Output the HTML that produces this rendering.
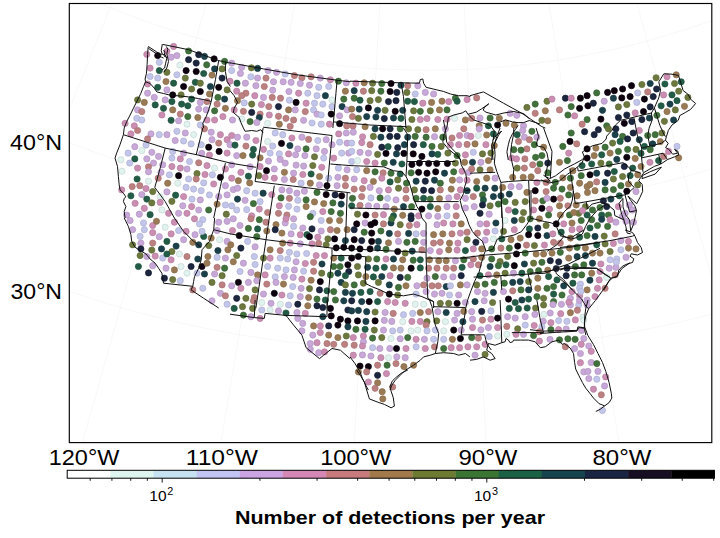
<!DOCTYPE html>
<html><head><meta charset="utf-8"><style>html,body{margin:0;padding:0;background:#fff;width:720px;height:538px;overflow:hidden}svg{display:block}</style></head>
<body><svg width="720" height="538" viewBox="0 0 720 538"><defs><clipPath id="fr"><rect x="69.3" y="3.5" width="642.5" height="439.1"/></clipPath></defs><path clip-path="url(#fr)" d="M-243.1 474.4 -236.9 462.8 -230.7 451.3 -224.6 439.8 -218.5 428.4 -212.4 417.1 -206.4 405.8 -200.4 394.6 -194.4 383.4 -188.5 372.3 -182.5 361.3 -176.7 350.3 -170.8 339.4 -165.0 328.5 -159.2 317.7 -153.4 306.9 -147.6 296.1 -141.9 285.4 -136.2 274.7 -130.5 264.1 -124.8 253.4 -119.1 242.9 -113.5 232.3 -107.8 221.8 -102.2 211.3 -96.6 200.8 -91.0 190.3 -85.4 179.8 -79.8 169.4 -74.2 159.0 -68.7 148.6 -63.1 138.2 -57.5 127.8 -52.0 117.4 -46.4 107.0 -40.8 96.6 -35.3 86.2 -29.7 75.7 -24.1 65.3 -18.5 54.9 -12.9 44.5 -7.3 34.0 -1.7 23.5 3.9 13.0 9.5 2.5 15.2 -8.0 20.8 -18.6 26.5 -29.2 32.2 -39.8 37.9 -50.5 43.6 -61.2 49.4 -72.0 55.2 -82.8 61.0 -93.7 66.8 -104.6 72.7 -115.5 78.6 -126.6 84.6 -137.7 90.5 -148.9 96.6 -160.1 M-104.3 540.2 -99.3 527.9 -94.5 515.8 -89.6 503.7 -84.8 491.7 -79.9 479.8 -75.2 467.9 -70.4 456.1 -65.7 444.4 -61.0 432.7 -56.3 421.1 -51.6 409.5 -47.0 398.0 -42.4 386.6 -37.8 375.2 -33.2 363.8 -28.7 352.5 -24.1 341.2 -19.6 329.9 -15.1 318.7 -10.6 307.6 -6.1 296.4 -1.6 285.3 2.9 274.2 7.3 263.1 11.8 252.1 16.2 241.1 20.7 230.1 25.1 219.1 29.5 208.1 33.9 197.1 38.3 186.2 42.8 175.2 47.2 164.3 51.6 153.3 56.0 142.4 60.4 131.5 64.8 120.5 69.2 109.5 73.6 98.6 78.1 87.6 82.5 76.6 87.0 65.5 91.4 54.5 95.9 43.4 100.3 32.3 104.8 21.2 109.3 10.0 113.8 -1.2 118.4 -12.4 122.9 -23.7 127.5 -35.0 132.0 -46.4 136.7 -57.8 141.3 -69.3 145.9 -80.9 150.6 -92.5 155.3 -104.2 160.1 -115.9 164.8 -127.8 M40.8 590.5 44.3 577.8 47.9 565.1 51.4 552.6 54.9 540.1 58.4 527.8 61.9 515.4 65.4 503.2 68.8 491.0 72.2 478.9 75.6 466.8 79.0 454.8 82.4 442.9 85.7 431.0 89.0 419.1 92.4 407.3 95.7 395.6 99.0 383.9 102.3 372.2 105.5 360.5 108.8 348.9 112.1 337.4 115.3 325.8 118.6 314.3 121.8 302.8 125.0 291.4 128.3 279.9 131.5 268.5 134.7 257.1 137.9 245.7 141.1 234.3 144.3 222.9 147.5 211.6 150.7 200.2 153.9 188.8 157.1 177.5 160.3 166.1 163.5 154.7 166.7 143.3 170.0 131.9 173.2 120.5 176.4 109.1 179.6 97.7 182.9 86.2 186.1 74.7 189.3 63.2 192.6 51.6 195.9 40.0 199.1 28.4 202.4 16.7 205.7 5.0 209.0 -6.7 212.4 -18.5 215.7 -30.4 219.1 -42.3 222.4 -54.3 225.8 -66.4 229.3 -78.5 232.7 -90.8 236.2 -103.0 M190.3 624.7 192.5 611.7 194.7 598.7 196.9 585.9 199.0 573.1 201.1 560.4 203.3 547.8 205.4 535.2 207.5 522.7 209.5 510.3 211.6 498.0 213.7 485.6 215.7 473.4 217.8 461.2 219.8 449.1 221.9 437.0 223.9 424.9 225.9 412.9 227.9 400.9 229.9 389.0 231.9 377.1 233.9 365.3 235.9 353.4 237.9 341.6 239.9 329.8 241.8 318.1 243.8 306.4 245.8 294.7 247.7 283.0 249.7 271.3 251.7 259.6 253.6 247.9 255.6 236.3 257.5 224.6 259.5 213.0 261.4 201.3 263.4 189.7 265.4 178.0 267.3 166.4 269.3 154.7 271.2 143.0 273.2 131.3 275.2 119.5 277.1 107.8 279.1 96.0 281.1 84.2 283.1 72.3 285.1 60.5 287.1 48.5 289.1 36.6 291.1 24.6 293.1 12.5 295.2 0.4 297.2 -11.8 299.3 -24.0 301.3 -36.3 303.4 -48.6 305.5 -61.1 307.6 -73.6 309.7 -86.2 M342.7 642.5 343.4 629.3 344.2 616.2 345.0 603.2 345.7 590.2 346.5 577.4 347.2 564.6 348.0 551.9 348.7 539.2 349.4 526.6 350.2 514.1 350.9 501.7 351.6 489.3 352.3 476.9 353.0 464.6 353.8 452.4 354.5 440.2 355.2 428.0 355.9 415.9 356.6 403.8 357.3 391.7 358.0 379.7 358.7 367.8 359.4 355.8 360.1 343.9 360.8 332.0 361.5 320.1 362.2 308.2 362.8 296.4 363.5 284.6 364.2 272.7 364.9 260.9 365.6 249.1 366.3 237.3 367.0 225.5 367.7 213.7 368.4 201.9 369.0 190.1 369.7 178.3 370.4 166.5 371.1 154.6 371.8 142.8 372.5 130.9 373.2 119.0 373.9 107.1 374.6 95.1 375.3 83.1 376.0 71.1 376.7 59.0 377.4 46.9 378.1 34.7 378.8 22.5 379.5 10.3 380.2 -2.1 381.0 -14.5 381.7 -26.9 382.4 -39.4 383.2 -52.0 383.9 -64.7 384.6 -77.5 M496.0 643.6 495.3 630.4 494.7 617.3 494.0 604.3 493.4 591.3 492.7 578.4 492.1 565.6 491.5 552.9 490.8 540.3 490.2 527.7 489.6 515.1 489.0 502.7 488.3 490.2 487.7 477.9 487.1 465.6 486.5 453.3 485.9 441.1 485.3 428.9 484.7 416.8 484.1 404.7 483.5 392.7 482.9 380.6 482.3 368.7 481.7 356.7 481.1 344.8 480.5 332.9 479.9 321.0 479.3 309.1 478.7 297.2 478.1 285.4 477.5 273.6 476.9 261.8 476.3 249.9 475.8 238.1 475.2 226.3 474.6 214.5 474.0 202.7 473.4 190.9 472.8 179.1 472.2 167.2 471.6 155.4 471.0 143.5 470.4 131.6 469.8 119.7 469.2 107.7 468.7 95.8 468.1 83.8 467.5 71.7 466.8 59.7 466.2 47.5 465.6 35.4 465.0 23.1 464.4 10.9 463.8 -1.5 463.2 -13.9 462.6 -26.3 461.9 -38.8 461.3 -51.5 460.7 -64.1 460.0 -76.9 M648.5 628.0 646.4 615.0 644.3 602.0 642.3 589.1 640.2 576.3 638.2 563.6 636.2 550.9 634.2 538.3 632.2 525.8 630.2 513.4 628.2 501.0 626.3 488.6 624.3 476.4 622.4 464.1 620.4 452.0 618.5 439.8 616.6 427.8 614.7 415.7 612.8 403.7 610.8 391.8 609.0 379.9 607.1 368.0 605.2 356.1 603.3 344.3 601.4 332.5 599.5 320.7 597.7 308.9 595.8 297.2 593.9 285.5 592.1 273.8 590.2 262.1 588.3 250.4 586.5 238.7 584.6 227.0 582.8 215.3 580.9 203.7 579.0 192.0 577.2 180.3 575.3 168.6 573.5 156.9 571.6 145.2 569.7 133.4 567.8 121.7 566.0 109.9 564.1 98.1 562.2 86.2 560.3 74.4 558.4 62.4 556.5 50.5 554.6 38.5 552.7 26.5 550.8 14.4 548.8 2.3 546.9 -9.9 544.9 -22.2 543.0 -34.5 541.0 -46.9 539.0 -59.4 537.0 -71.9 535.0 -84.6 M798.3 596.0 794.8 583.2 791.4 570.5 788.0 558.0 784.5 545.4 781.2 533.0 777.8 520.6 774.4 508.3 771.1 496.1 767.8 483.9 764.5 471.8 761.2 459.8 758.0 447.8 754.7 435.8 751.5 423.9 748.2 412.1 745.0 400.3 741.8 388.5 738.6 376.8 735.4 365.1 732.3 353.5 729.1 341.9 726.0 330.3 722.8 318.7 719.7 307.2 716.5 295.7 713.4 284.2 710.3 272.7 707.2 261.3 704.1 249.8 700.9 238.4 697.8 227.0 694.7 215.5 691.6 204.1 688.5 192.7 685.4 181.3 682.3 169.9 679.2 158.5 676.1 147.0 673.0 135.6 669.8 124.1 666.7 112.7 663.6 101.2 660.4 89.7 657.3 78.1 654.2 66.6 651.0 55.0 647.8 43.3 644.6 31.6 641.5 19.9 638.3 8.2 635.0 -3.6 631.8 -15.5 628.6 -27.4 625.3 -39.4 622.0 -51.4 618.7 -63.5 615.4 -75.7 612.1 -88.0 608.7 -100.3 M943.8 547.8 938.9 535.5 934.1 523.3 929.4 511.1 924.6 499.0 919.9 487.0 915.3 475.1 910.6 463.2 906.0 451.4 901.4 439.7 896.8 428.0 892.2 416.4 887.7 404.8 883.2 393.3 878.7 381.8 874.2 370.4 869.7 359.0 865.3 347.6 860.8 336.3 856.4 325.1 852.0 313.8 847.6 302.6 843.2 291.4 838.8 280.3 834.5 269.2 830.1 258.1 825.8 247.0 821.4 235.9 817.1 224.8 812.8 213.8 808.4 202.8 804.1 191.8 799.8 180.7 795.5 169.7 791.2 158.7 786.8 147.7 782.5 136.7 778.2 125.7 773.9 114.7 769.5 103.6 765.2 92.6 760.9 81.5 756.5 70.4 752.2 59.3 747.8 48.2 743.4 37.0 739.0 25.8 734.6 14.6 730.2 3.3 725.8 -8.0 721.3 -19.3 716.8 -30.7 712.4 -42.2 707.8 -53.7 703.3 -65.2 698.8 -76.8 694.2 -88.5 689.6 -100.3 684.9 -112.1 680.2 -124.0 M1083.1 484.1 1077.0 472.4 1070.9 460.7 1064.9 449.2 1058.9 437.7 1052.9 426.3 1047.0 414.9 1041.0 403.6 1035.2 392.4 1029.3 381.2 1023.5 370.1 1017.7 359.0 1012.0 348.0 1006.2 337.0 1000.5 326.1 994.8 315.2 989.2 304.4 983.5 293.6 977.9 282.8 972.3 272.1 966.7 261.4 961.1 250.7 955.5 240.1 950.0 229.5 944.5 218.9 938.9 208.3 933.4 197.7 927.9 187.2 922.4 176.7 916.9 166.2 911.4 155.7 905.9 145.2 900.5 134.7 895.0 124.2 889.5 113.8 884.0 103.3 878.5 92.8 873.1 82.3 867.6 71.8 862.1 61.3 856.6 50.8 851.1 40.2 845.5 29.7 840.0 19.1 834.5 8.5 828.9 -2.1 823.3 -12.8 817.8 -23.4 812.2 -34.2 806.5 -44.9 800.9 -55.7 795.2 -66.6 789.5 -77.5 783.8 -88.4 778.0 -99.4 772.3 -110.5 766.4 -121.6 760.6 -132.8 754.7 -144.0 748.8 -155.4 M-374.1 394.0 -356.3 406.0 -338.5 417.8 -320.4 429.3 -302.2 440.5 -283.8 451.5 -265.2 462.2 -246.5 472.6 -227.6 482.7 -208.6 492.5 -189.5 502.0 -170.2 511.3 -150.7 520.2 -131.2 528.9 -111.5 537.2 -91.7 545.3 -71.7 553.0 -51.7 560.5 -31.5 567.6 -11.2 574.4 9.1 581.0 29.6 587.2 50.1 593.1 70.8 598.7 91.5 604.0 112.3 609.0 133.1 613.6 154.0 617.9 175.0 622.0 196.1 625.7 217.2 629.0 238.3 632.1 259.5 634.8 280.8 637.3 302.0 639.4 323.3 641.1 344.6 642.6 365.9 643.7 387.3 644.5 408.6 645.0 430.0 645.1 451.4 645.0 472.7 644.5 494.0 643.7 515.4 642.5 536.7 641.1 557.9 639.3 579.2 637.2 600.4 634.7 621.6 632.0 642.7 628.9 663.8 625.5 684.8 621.8 705.8 617.8 726.7 613.4 747.5 608.8 768.3 603.8 788.9 598.5 809.5 592.9 830.0 586.9 850.4 580.7 870.8 574.2 891.0 567.3 911.1 560.2 931.1 552.7 951.0 544.9 970.7 536.9 990.4 528.5 1009.9 519.8 1029.3 510.9 1048.5 501.6 1067.6 492.1 1086.6 482.3 1105.4 472.1 1124.0 461.7 1142.5 451.1 1160.8 440.1 1179.0 428.8 1196.9 417.3 1214.7 405.5 M-289.0 269.7 -273.2 280.5 -257.2 291.0 -241.1 301.3 -224.8 311.3 -208.3 321.1 -191.8 330.6 -175.0 339.9 -158.2 348.9 -141.2 357.7 -124.1 366.2 -106.8 374.5 -89.4 382.5 -72.0 390.2 -54.4 397.7 -36.7 404.9 -18.8 411.8 -0.9 418.5 17.1 424.8 35.2 430.9 53.4 436.8 71.7 442.3 90.0 447.6 108.5 452.6 127.0 457.3 145.6 461.8 164.2 465.9 182.9 469.8 201.7 473.4 220.5 476.7 239.3 479.7 258.2 482.5 277.2 484.9 296.1 487.1 315.1 489.0 334.1 490.5 353.2 491.8 372.3 492.8 391.3 493.6 410.4 494.0 429.5 494.1 448.6 494.0 467.7 493.5 486.7 492.8 505.8 491.8 524.8 490.5 543.8 488.9 562.8 487.0 581.8 484.8 600.7 482.4 619.6 479.6 638.4 476.6 657.2 473.3 675.9 469.7 694.6 465.8 713.2 461.6 731.8 457.2 750.2 452.4 768.6 447.4 787.0 442.1 805.2 436.5 823.4 430.7 841.4 424.6 859.4 418.2 877.3 411.5 895.0 404.6 912.7 397.4 930.2 389.9 947.7 382.2 965.0 374.1 982.2 365.9 999.3 357.4 1016.2 348.6 1033.0 339.5 1049.6 330.2 1066.2 320.7 1082.5 310.9 1098.8 300.8 1114.8 290.6 1130.7 280.0 M-208.3 151.7 -194.2 161.3 -180.1 170.6 -165.7 179.7 -151.3 188.6 -136.7 197.3 -122.0 205.8 -107.2 214.0 -92.2 222.0 -77.2 229.8 -62.0 237.3 -46.7 244.7 -31.3 251.7 -15.8 258.6 -0.1 265.2 15.6 271.6 31.4 277.7 47.3 283.7 63.2 289.3 79.3 294.7 95.4 299.9 111.6 304.8 127.9 309.5 144.3 314.0 160.7 318.1 177.2 322.1 193.7 325.8 210.3 329.2 226.9 332.4 243.6 335.3 260.3 338.0 277.1 340.4 293.9 342.6 310.7 344.5 327.6 346.2 344.4 347.6 361.3 348.7 378.2 349.6 395.2 350.3 412.1 350.7 429.0 350.8 445.9 350.6 462.9 350.2 479.8 349.6 496.7 348.7 513.6 347.5 530.4 346.1 547.3 344.5 564.1 342.5 580.9 340.3 597.6 337.9 614.3 335.2 631.0 332.3 647.6 329.1 664.1 325.6 680.7 321.9 697.1 318.0 713.5 313.8 729.8 309.3 746.1 304.6 762.3 299.7 778.4 294.5 794.4 289.1 810.3 283.4 826.2 277.5 841.9 271.3 857.6 264.9 873.2 258.3 888.6 251.5 904.0 244.4 919.2 237.0 934.4 229.5 949.4 221.7 964.3 213.6 979.1 205.4 993.7 196.9 1008.2 188.2 1022.6 179.3 1036.9 170.2 1051.0 160.9 M-129.5 36.6 -117.2 44.9 -104.8 53.1 -92.2 61.1 -79.6 68.9 -66.8 76.5 -54.0 83.9 -41.0 91.1 -27.9 98.1 -14.7 104.9 -1.4 111.5 12.0 118.0 25.5 124.2 39.1 130.2 52.8 136.0 66.5 141.6 80.3 146.9 94.3 152.1 108.3 157.1 122.3 161.8 136.4 166.3 150.6 170.7 164.9 174.8 179.2 178.6 193.6 182.3 208.0 185.8 222.5 189.0 237.0 192.0 251.6 194.8 266.2 197.4 280.9 199.7 295.5 201.8 310.2 203.7 325.0 205.4 339.7 206.9 354.5 208.1 369.3 209.1 384.1 209.9 398.9 210.4 413.7 210.8 428.5 210.9 443.4 210.8 458.2 210.4 473.0 209.9 487.8 209.1 502.6 208.0 517.3 206.8 532.1 205.3 546.8 203.7 561.5 201.7 576.2 199.6 590.8 197.3 605.4 194.7 619.9 191.9 634.4 188.9 648.9 185.6 663.3 182.2 677.7 178.5 691.9 174.6 706.2 170.5 720.3 166.2 734.4 161.6 748.5 156.9 762.4 151.9 776.3 146.7 790.1 141.3 803.8 135.7 817.5 129.9 831.0 123.9 844.5 117.7 857.8 111.3 871.1 104.7 884.2 97.8 897.3 90.8 910.2 83.6 923.0 76.2 935.7 68.6 948.3 60.8 960.8 52.8 973.2 44.6 M-50.3 -79.2 -39.7 -72.0 -29.1 -65.0 -18.4 -58.2 -7.5 -51.5 3.4 -45.0 14.5 -38.6 25.6 -32.4 36.8 -26.4 48.1 -20.6 59.5 -14.9 71.0 -9.4 82.6 -4.1 94.2 1.1 105.9 6.0 117.7 10.8 129.6 15.4 141.5 19.9 153.5 24.1 165.6 28.2 177.7 32.1 189.8 35.8 202.1 39.3 214.3 42.6 226.7 45.8 239.0 48.7 251.5 51.5 263.9 54.1 276.4 56.5 288.9 58.7 301.5 60.7 314.0 62.5 326.7 64.1 339.3 65.6 351.9 66.8 364.6 67.9 377.3 68.7 390.0 69.4 402.7 69.9 415.4 70.2 428.1 70.3 440.8 70.2 453.5 69.9 466.2 69.4 478.9 68.7 491.5 67.8 504.2 66.8 516.8 65.5 529.5 64.1 542.1 62.4 554.6 60.6 567.2 58.6 579.7 56.4 592.1 54.0 604.6 51.4 617.0 48.6 629.3 45.6 641.6 42.5 653.9 39.1 666.1 35.6 678.2 31.9 690.3 28.0 702.3 23.9 714.3 19.7 726.2 15.2 738.0 10.6 749.8 5.8 761.5 0.9 773.1 -4.3 784.6 -9.6 796.0 -15.1 807.4 -20.8 818.7 -26.7 829.9 -32.7 841.0 -38.9 852.0 -45.2 862.9 -51.7 873.7 -58.4 884.4 -65.3 894.9 -72.3 M32.2 -199.7 40.9 -193.7 49.7 -187.9 58.6 -182.3 67.5 -176.8 76.6 -171.4 85.7 -166.1 94.9 -161.0 104.2 -156.1 113.5 -151.2 122.9 -146.5 132.4 -142.0 142.0 -137.6 151.6 -133.3 161.3 -129.2 171.0 -125.3 180.9 -121.5 190.7 -117.8 200.6 -114.3 210.6 -110.9 220.6 -107.7 230.7 -104.7 240.8 -101.7 250.9 -99.0 261.1 -96.4 271.3 -94.0 281.6 -91.7 291.9 -89.5 302.2 -87.6 312.6 -85.7 322.9 -84.1 333.3 -82.6 343.8 -81.2 354.2 -80.0 364.6 -79.0 375.1 -78.1 385.6 -77.4 396.1 -76.9 406.6 -76.5 417.1 -76.2 427.6 -76.2 438.1 -76.2 448.6 -76.5 459.1 -76.9 469.6 -77.4 480.0 -78.2 490.5 -79.0 501.0 -80.1 511.4 -81.3 521.8 -82.6 532.2 -84.1 542.6 -85.8 552.9 -87.6 563.2 -89.6 573.5 -91.8 583.7 -94.1 593.9 -96.5 604.1 -99.1 614.2 -101.9 624.3 -104.8 634.4 -107.8 644.3 -111.1 654.3 -114.4 664.2 -117.9 674.0 -121.6 683.8 -125.4 693.5 -129.4 703.2 -133.5 712.8 -137.8 722.3 -142.2 731.8 -146.7 741.1 -151.4 750.5 -156.3 759.7 -161.2 768.9 -166.4 778.0 -171.6 787.0 -177.0 795.9 -182.5 804.8 -188.2 813.5 -194.0" fill="none" stroke="#000" stroke-opacity="0.03" stroke-width="1"/><defs><filter id="bl" x="-2%" y="-2%" width="104%" height="104%"><feGaussianBlur stdDeviation="0.35"/></filter></defs><g filter="url(#bl)"><g stroke-width="0.7"><circle cx="361.8" cy="142.6" r="3.1" fill="#cb8eb2" stroke="#b37d9d"/><circle cx="362.6" cy="136.8" r="3.1" fill="#cb8eb2" stroke="#b37d9d"/><circle cx="365.1" cy="126.7" r="3.1" fill="#9a7a55" stroke="#886b4b"/><circle cx="353.0" cy="125.9" r="3.1" fill="#bd8080" stroke="#a67171"/><circle cx="346.7" cy="125.9" r="3.1" fill="#bd8080" stroke="#a67171"/><circle cx="173.6" cy="46.4" r="3.1" fill="#cb8eb2" stroke="#b37d9d"/><circle cx="146.8" cy="54.4" r="3.1" fill="#cb8eb2" stroke="#b37d9d"/><circle cx="157.7" cy="55.6" r="3.1" fill="#0a060e" stroke="#09050c"/><circle cx="166.9" cy="51.4" r="3.1" fill="#cb8eb2" stroke="#b37d9d"/><circle cx="171.1" cy="57.2" r="3.1" fill="#c8a8d9" stroke="#b094bf"/><circle cx="176.9" cy="55.6" r="3.1" fill="#c8a8d9" stroke="#b094bf"/><circle cx="188.6" cy="51.0" r="3.1" fill="#41703b" stroke="#396334"/><circle cx="198.7" cy="54.7" r="3.1" fill="#1c253d" stroke="#192136"/><circle cx="204.5" cy="56.4" r="3.1" fill="#1c414a" stroke="#193941"/><circle cx="214.1" cy="58.9" r="3.1" fill="#0a060e" stroke="#09050c"/><circle cx="224.6" cy="61.4" r="3.1" fill="#41703b" stroke="#396334"/><circle cx="159.3" cy="62.3" r="3.1" fill="#c3c6eb" stroke="#acaecf"/><circle cx="188.6" cy="59.7" r="3.1" fill="#1c253d" stroke="#192136"/><circle cx="196.2" cy="63.1" r="3.1" fill="#1c253d" stroke="#192136"/><circle cx="206.7" cy="64.8" r="3.1" fill="#41703b" stroke="#396334"/><circle cx="214.6" cy="68.9" r="3.1" fill="#1c414a" stroke="#193941"/><circle cx="222.1" cy="68.9" r="3.1" fill="#6c783d" stroke="#5f6a36"/><circle cx="179.9" cy="65.1" r="3.1" fill="#e1f3ef" stroke="#c6d6d2"/><circle cx="150.1" cy="68.1" r="3.1" fill="#cb8eb2" stroke="#b37d9d"/><circle cx="159.3" cy="70.6" r="3.1" fill="#245c46" stroke="#20513e"/><circle cx="166.9" cy="72.3" r="3.1" fill="#6c783d" stroke="#5f6a36"/><circle cx="176.9" cy="74.8" r="3.1" fill="#c3c6eb" stroke="#acaecf"/><circle cx="186.1" cy="70.6" r="3.1" fill="#0a060e" stroke="#09050c"/><circle cx="196.2" cy="71.5" r="3.1" fill="#0a060e" stroke="#09050c"/><circle cx="203.7" cy="73.5" r="3.1" fill="#245c46" stroke="#20513e"/><circle cx="212.0" cy="75.1" r="3.1" fill="#9a7a55" stroke="#886b4b"/><circle cx="222.1" cy="78.1" r="3.1" fill="#1c253d" stroke="#192136"/><circle cx="150.1" cy="76.5" r="3.1" fill="#c3c6eb" stroke="#acaecf"/><circle cx="157.7" cy="78.1" r="3.1" fill="#c3c6eb" stroke="#acaecf"/><circle cx="166.0" cy="81.5" r="3.1" fill="#9a7a55" stroke="#886b4b"/><circle cx="173.6" cy="83.2" r="3.1" fill="#245c46" stroke="#20513e"/><circle cx="185.3" cy="78.1" r="3.1" fill="#6c783d" stroke="#5f6a36"/><circle cx="195.3" cy="82.3" r="3.1" fill="#245c46" stroke="#20513e"/><circle cx="200.3" cy="83.2" r="3.1" fill="#6c783d" stroke="#5f6a36"/><circle cx="210.4" cy="86.5" r="3.1" fill="#1c414a" stroke="#193941"/><circle cx="218.7" cy="87.3" r="3.1" fill="#0a060e" stroke="#09050c"/><circle cx="227.1" cy="89.9" r="3.1" fill="#6c783d" stroke="#5f6a36"/><circle cx="147.6" cy="84.0" r="3.1" fill="#cb8eb2" stroke="#b37d9d"/><circle cx="157.7" cy="87.3" r="3.1" fill="#245c46" stroke="#20513e"/><circle cx="166.9" cy="89.9" r="3.1" fill="#c8a8d9" stroke="#b094bf"/><circle cx="183.6" cy="86.5" r="3.1" fill="#0a060e" stroke="#09050c"/><circle cx="191.6" cy="89.0" r="3.1" fill="#6c783d" stroke="#5f6a36"/><circle cx="200.3" cy="91.5" r="3.1" fill="#0a060e" stroke="#09050c"/><circle cx="209.5" cy="94.0" r="3.1" fill="#9a7a55" stroke="#886b4b"/><circle cx="147.6" cy="93.2" r="3.1" fill="#c8a8d9" stroke="#b094bf"/><circle cx="154.3" cy="97.4" r="3.1" fill="#c8a8d9" stroke="#b094bf"/><circle cx="165.2" cy="99.9" r="3.1" fill="#c8a8d9" stroke="#b094bf"/><circle cx="172.7" cy="94.9" r="3.1" fill="#0a060e" stroke="#09050c"/><circle cx="181.1" cy="94.9" r="3.1" fill="#6c783d" stroke="#5f6a36"/><circle cx="191.6" cy="99.1" r="3.1" fill="#245c46" stroke="#20513e"/><circle cx="200.3" cy="102.4" r="3.1" fill="#c8a8d9" stroke="#b094bf"/><circle cx="207.0" cy="101.6" r="3.1" fill="#bd8080" stroke="#a67171"/><circle cx="217.9" cy="97.4" r="3.1" fill="#41703b" stroke="#396334"/><circle cx="224.6" cy="99.1" r="3.1" fill="#1c414a" stroke="#193941"/><circle cx="137.6" cy="99.9" r="3.1" fill="#6c783d" stroke="#5f6a36"/><circle cx="144.3" cy="102.4" r="3.1" fill="#9a7a55" stroke="#886b4b"/><circle cx="155.2" cy="104.9" r="3.1" fill="#245c46" stroke="#20513e"/><circle cx="171.9" cy="101.6" r="3.1" fill="#245c46" stroke="#20513e"/><circle cx="181.6" cy="104.1" r="3.1" fill="#245c46" stroke="#20513e"/><circle cx="187.8" cy="105.8" r="3.1" fill="#245c46" stroke="#20513e"/><circle cx="198.7" cy="109.1" r="3.1" fill="#c8a8d9" stroke="#b094bf"/><circle cx="206.2" cy="109.9" r="3.1" fill="#c8a8d9" stroke="#b094bf"/><circle cx="214.6" cy="110.8" r="3.1" fill="#41703b" stroke="#396334"/><circle cx="225.4" cy="108.3" r="3.1" fill="#9a7a55" stroke="#886b4b"/><circle cx="217.1" cy="104.1" r="3.1" fill="#bd8080" stroke="#a67171"/><circle cx="137.6" cy="109.9" r="3.1" fill="#c8a8d9" stroke="#b094bf"/><circle cx="141.8" cy="111.6" r="3.1" fill="#bd8080" stroke="#a67171"/><circle cx="163.5" cy="108.3" r="3.1" fill="#245c46" stroke="#20513e"/><circle cx="172.7" cy="109.9" r="3.1" fill="#9a7a55" stroke="#886b4b"/><circle cx="180.3" cy="114.1" r="3.1" fill="#bd8080" stroke="#a67171"/><circle cx="187.8" cy="116.6" r="3.1" fill="#41703b" stroke="#396334"/><circle cx="197.8" cy="117.5" r="3.1" fill="#9a7a55" stroke="#886b4b"/><circle cx="161.9" cy="115.0" r="3.1" fill="#cb8eb2" stroke="#b37d9d"/><circle cx="136.8" cy="118.3" r="3.1" fill="#c3c6eb" stroke="#acaecf"/><circle cx="141.8" cy="120.0" r="3.1" fill="#c3c6eb" stroke="#acaecf"/><circle cx="207.0" cy="120.0" r="3.1" fill="#cb8eb2" stroke="#b37d9d"/><circle cx="214.6" cy="120.0" r="3.1" fill="#cb8eb2" stroke="#b37d9d"/><circle cx="222.9" cy="116.6" r="3.1" fill="#cb8eb2" stroke="#b37d9d"/><circle cx="125.1" cy="123.3" r="3.1" fill="#cb8eb2" stroke="#b37d9d"/><circle cx="134.3" cy="125.8" r="3.1" fill="#cb8eb2" stroke="#b37d9d"/><circle cx="171.1" cy="120.3" r="3.1" fill="#245c46" stroke="#20513e"/><circle cx="178.6" cy="120.8" r="3.1" fill="#c8a8d9" stroke="#b094bf"/><circle cx="187.0" cy="124.2" r="3.1" fill="#e1f3ef" stroke="#c6d6d2"/><circle cx="200.3" cy="125.0" r="3.1" fill="#c3c6eb" stroke="#acaecf"/><circle cx="231.7" cy="63.1" r="3.1" fill="#c8a8d9" stroke="#b094bf"/><circle cx="241.7" cy="67.3" r="3.1" fill="#c8a8d9" stroke="#b094bf"/><circle cx="251.4" cy="67.8" r="3.1" fill="#6c783d" stroke="#5f6a36"/><circle cx="257.6" cy="68.4" r="3.1" fill="#1c414a" stroke="#193941"/><circle cx="268.1" cy="70.6" r="3.1" fill="#c8a8d9" stroke="#b094bf"/><circle cx="276.5" cy="72.3" r="3.1" fill="#c8a8d9" stroke="#b094bf"/><circle cx="285.2" cy="74.0" r="3.1" fill="#c3c6eb" stroke="#acaecf"/><circle cx="294.4" cy="75.6" r="3.1" fill="#bd8080" stroke="#a67171"/><circle cx="301.9" cy="77.8" r="3.1" fill="#bd8080" stroke="#a67171"/><circle cx="311.1" cy="76.8" r="3.1" fill="#bd8080" stroke="#a67171"/><circle cx="320.3" cy="78.1" r="3.1" fill="#c8a8d9" stroke="#b094bf"/><circle cx="330.4" cy="79.8" r="3.1" fill="#cb8eb2" stroke="#b37d9d"/><circle cx="338.4" cy="81.2" r="3.1" fill="#41703b" stroke="#396334"/><circle cx="346.3" cy="82.8" r="3.1" fill="#c8a8d9" stroke="#b094bf"/><circle cx="231.7" cy="70.6" r="3.1" fill="#c3c6eb" stroke="#acaecf"/><circle cx="240.4" cy="73.5" r="3.1" fill="#c8a8d9" stroke="#b094bf"/><circle cx="250.9" cy="76.8" r="3.1" fill="#c3c6eb" stroke="#acaecf"/><circle cx="257.6" cy="78.1" r="3.1" fill="#c8a8d9" stroke="#b094bf"/><circle cx="266.0" cy="78.1" r="3.1" fill="#bd8080" stroke="#a67171"/><circle cx="230.0" cy="81.2" r="3.1" fill="#cb8eb2" stroke="#b37d9d"/><circle cx="237.0" cy="83.2" r="3.1" fill="#245c46" stroke="#20513e"/><circle cx="245.4" cy="83.2" r="3.1" fill="#c8a8d9" stroke="#b094bf"/><circle cx="255.9" cy="85.7" r="3.1" fill="#c8a8d9" stroke="#b094bf"/><circle cx="264.3" cy="86.5" r="3.1" fill="#bd8080" stroke="#a67171"/><circle cx="273.5" cy="81.8" r="3.1" fill="#c8a8d9" stroke="#b094bf"/><circle cx="283.2" cy="81.8" r="3.1" fill="#c8a8d9" stroke="#b094bf"/><circle cx="291.1" cy="82.3" r="3.1" fill="#c8a8d9" stroke="#b094bf"/><circle cx="300.3" cy="83.5" r="3.1" fill="#c8a8d9" stroke="#b094bf"/><circle cx="309.5" cy="85.2" r="3.1" fill="#c8a8d9" stroke="#b094bf"/><circle cx="318.7" cy="87.3" r="3.1" fill="#c3c6eb" stroke="#acaecf"/><circle cx="328.7" cy="86.5" r="3.1" fill="#c3c6eb" stroke="#acaecf"/><circle cx="345.4" cy="91.2" r="3.1" fill="#9a7a55" stroke="#886b4b"/><circle cx="236.7" cy="91.2" r="3.1" fill="#cb8eb2" stroke="#b37d9d"/><circle cx="245.9" cy="93.2" r="3.1" fill="#bd8080" stroke="#a67171"/><circle cx="241.7" cy="95.7" r="3.1" fill="#bd8080" stroke="#a67171"/><circle cx="254.8" cy="95.7" r="3.1" fill="#cb8eb2" stroke="#b37d9d"/><circle cx="263.5" cy="97.4" r="3.1" fill="#c8a8d9" stroke="#b094bf"/><circle cx="272.7" cy="90.2" r="3.1" fill="#c8a8d9" stroke="#b094bf"/><circle cx="272.2" cy="97.4" r="3.1" fill="#bd8080" stroke="#a67171"/><circle cx="280.5" cy="98.2" r="3.1" fill="#bd8080" stroke="#a67171"/><circle cx="288.9" cy="91.5" r="3.1" fill="#c8a8d9" stroke="#b094bf"/><circle cx="298.6" cy="93.2" r="3.1" fill="#cb8eb2" stroke="#b37d9d"/><circle cx="307.8" cy="93.2" r="3.1" fill="#c3c6eb" stroke="#acaecf"/><circle cx="317.0" cy="95.7" r="3.1" fill="#c3c6eb" stroke="#acaecf"/><circle cx="325.4" cy="95.7" r="3.1" fill="#1c414a" stroke="#193941"/><circle cx="343.8" cy="99.1" r="3.1" fill="#41703b" stroke="#396334"/><circle cx="332.0" cy="99.9" r="3.1" fill="#e1f3ef" stroke="#c6d6d2"/><circle cx="237.5" cy="100.7" r="3.1" fill="#9a7a55" stroke="#886b4b"/><circle cx="244.2" cy="102.9" r="3.1" fill="#c3c6eb" stroke="#acaecf"/><circle cx="251.7" cy="104.1" r="3.1" fill="#6c783d" stroke="#5f6a36"/><circle cx="261.4" cy="104.6" r="3.1" fill="#cb8eb2" stroke="#b37d9d"/><circle cx="268.8" cy="106.6" r="3.1" fill="#bd8080" stroke="#a67171"/><circle cx="278.5" cy="106.6" r="3.1" fill="#1c253d" stroke="#192136"/><circle cx="288.6" cy="109.9" r="3.1" fill="#9a7a55" stroke="#886b4b"/><circle cx="289.4" cy="100.2" r="3.1" fill="#c3c6eb" stroke="#acaecf"/><circle cx="296.1" cy="102.4" r="3.1" fill="#0a060e" stroke="#09050c"/><circle cx="295.2" cy="109.9" r="3.1" fill="#c8a8d9" stroke="#b094bf"/><circle cx="306.1" cy="103.2" r="3.1" fill="#cb8eb2" stroke="#b37d9d"/><circle cx="305.3" cy="111.6" r="3.1" fill="#bd8080" stroke="#a67171"/><circle cx="314.5" cy="103.2" r="3.1" fill="#c3c6eb" stroke="#acaecf"/><circle cx="313.6" cy="109.9" r="3.1" fill="#c3c6eb" stroke="#acaecf"/><circle cx="322.8" cy="104.1" r="3.1" fill="#c3c6eb" stroke="#acaecf"/><circle cx="332.0" cy="106.6" r="3.1" fill="#c3c6eb" stroke="#acaecf"/><circle cx="342.1" cy="106.6" r="3.1" fill="#1c414a" stroke="#193941"/><circle cx="234.2" cy="109.9" r="3.1" fill="#cb8eb2" stroke="#b37d9d"/><circle cx="243.4" cy="111.3" r="3.1" fill="#bd8080" stroke="#a67171"/><circle cx="251.7" cy="112.4" r="3.1" fill="#1c253d" stroke="#192136"/><circle cx="260.1" cy="114.1" r="3.1" fill="#bd8080" stroke="#a67171"/><circle cx="259.3" cy="117.5" r="3.1" fill="#1c414a" stroke="#193941"/><circle cx="269.3" cy="115.0" r="3.1" fill="#cb8eb2" stroke="#b37d9d"/><circle cx="278.5" cy="116.3" r="3.1" fill="#bd8080" stroke="#a67171"/><circle cx="286.0" cy="118.3" r="3.1" fill="#bd8080" stroke="#a67171"/><circle cx="293.6" cy="120.0" r="3.1" fill="#bd8080" stroke="#a67171"/><circle cx="303.6" cy="120.3" r="3.1" fill="#c8a8d9" stroke="#b094bf"/><circle cx="317.0" cy="114.1" r="3.1" fill="#c8a8d9" stroke="#b094bf"/><circle cx="312.0" cy="123.0" r="3.1" fill="#c3c6eb" stroke="#acaecf"/><circle cx="321.2" cy="115.0" r="3.1" fill="#c3c6eb" stroke="#acaecf"/><circle cx="331.2" cy="114.1" r="3.1" fill="#0a060e" stroke="#09050c"/><circle cx="339.6" cy="115.8" r="3.1" fill="#c8a8d9" stroke="#b094bf"/><circle cx="347.1" cy="109.9" r="3.1" fill="#c8a8d9" stroke="#b094bf"/><circle cx="232.5" cy="120.0" r="3.1" fill="#c8a8d9" stroke="#b094bf"/><circle cx="241.7" cy="119.1" r="3.1" fill="#e1f3ef" stroke="#c6d6d2"/><circle cx="250.1" cy="121.6" r="3.1" fill="#41703b" stroke="#396334"/><circle cx="256.8" cy="122.5" r="3.1" fill="#c8a8d9" stroke="#b094bf"/><circle cx="267.6" cy="123.3" r="3.1" fill="#e1f3ef" stroke="#c6d6d2"/><circle cx="279.3" cy="124.2" r="3.1" fill="#9a7a55" stroke="#886b4b"/><circle cx="290.2" cy="126.3" r="3.1" fill="#bd8080" stroke="#a67171"/><circle cx="321.2" cy="124.2" r="3.1" fill="#c3c6eb" stroke="#acaecf"/><circle cx="329.5" cy="124.2" r="3.1" fill="#cb8eb2" stroke="#b37d9d"/><circle cx="339.6" cy="123.7" r="3.1" fill="#0a060e" stroke="#09050c"/><circle cx="355.9" cy="83.2" r="3.1" fill="#cb8eb2" stroke="#b37d9d"/><circle cx="364.2" cy="82.8" r="3.1" fill="#9a7a55" stroke="#886b4b"/><circle cx="372.6" cy="83.2" r="3.1" fill="#6c783d" stroke="#5f6a36"/><circle cx="381.8" cy="83.5" r="3.1" fill="#41703b" stroke="#396334"/><circle cx="391.0" cy="83.5" r="3.1" fill="#0a060e" stroke="#09050c"/><circle cx="401.0" cy="85.2" r="3.1" fill="#1c414a" stroke="#193941"/><circle cx="407.7" cy="85.7" r="3.1" fill="#bd8080" stroke="#a67171"/><circle cx="417.8" cy="85.7" r="3.1" fill="#c8a8d9" stroke="#b094bf"/><circle cx="354.2" cy="90.7" r="3.1" fill="#1c414a" stroke="#193941"/><circle cx="363.4" cy="91.2" r="3.1" fill="#bd8080" stroke="#a67171"/><circle cx="371.7" cy="90.7" r="3.1" fill="#6c783d" stroke="#5f6a36"/><circle cx="380.9" cy="91.2" r="3.1" fill="#41703b" stroke="#396334"/><circle cx="390.1" cy="91.5" r="3.1" fill="#0a060e" stroke="#09050c"/><circle cx="396.8" cy="92.4" r="3.1" fill="#1c253d" stroke="#192136"/><circle cx="406.9" cy="92.4" r="3.1" fill="#6c783d" stroke="#5f6a36"/><circle cx="415.2" cy="94.0" r="3.1" fill="#c3c6eb" stroke="#acaecf"/><circle cx="425.3" cy="92.4" r="3.1" fill="#c8a8d9" stroke="#b094bf"/><circle cx="433.6" cy="94.0" r="3.1" fill="#c8a8d9" stroke="#b094bf"/><circle cx="455.4" cy="98.2" r="3.1" fill="#41703b" stroke="#396334"/><circle cx="467.1" cy="99.6" r="3.1" fill="#cb8eb2" stroke="#b37d9d"/><circle cx="354.2" cy="98.2" r="3.1" fill="#41703b" stroke="#396334"/><circle cx="360.0" cy="100.2" r="3.1" fill="#245c46" stroke="#20513e"/><circle cx="370.1" cy="100.7" r="3.1" fill="#6c783d" stroke="#5f6a36"/><circle cx="378.4" cy="99.6" r="3.1" fill="#6c783d" stroke="#5f6a36"/><circle cx="388.5" cy="101.6" r="3.1" fill="#1c253d" stroke="#192136"/><circle cx="396.0" cy="100.7" r="3.1" fill="#1c253d" stroke="#192136"/><circle cx="407.7" cy="101.2" r="3.1" fill="#245c46" stroke="#20513e"/><circle cx="414.4" cy="101.6" r="3.1" fill="#245c46" stroke="#20513e"/><circle cx="422.8" cy="103.2" r="3.1" fill="#cb8eb2" stroke="#b37d9d"/><circle cx="431.6" cy="102.4" r="3.1" fill="#9a7a55" stroke="#886b4b"/><circle cx="442.0" cy="101.2" r="3.1" fill="#9a7a55" stroke="#886b4b"/><circle cx="448.7" cy="101.6" r="3.1" fill="#cb8eb2" stroke="#b37d9d"/><circle cx="457.1" cy="101.2" r="3.1" fill="#245c46" stroke="#20513e"/><circle cx="351.7" cy="109.1" r="3.1" fill="#9a7a55" stroke="#886b4b"/><circle cx="359.2" cy="109.1" r="3.1" fill="#1c414a" stroke="#193941"/><circle cx="368.4" cy="107.9" r="3.1" fill="#0a060e" stroke="#09050c"/><circle cx="377.6" cy="110.3" r="3.1" fill="#1c414a" stroke="#193941"/><circle cx="385.1" cy="110.3" r="3.1" fill="#6c783d" stroke="#5f6a36"/><circle cx="395.2" cy="111.3" r="3.1" fill="#0a060e" stroke="#09050c"/><circle cx="402.7" cy="110.3" r="3.1" fill="#1c414a" stroke="#193941"/><circle cx="413.6" cy="110.8" r="3.1" fill="#6c783d" stroke="#5f6a36"/><circle cx="420.3" cy="111.3" r="3.1" fill="#41703b" stroke="#396334"/><circle cx="430.3" cy="110.8" r="3.1" fill="#6c783d" stroke="#5f6a36"/><circle cx="439.5" cy="109.9" r="3.1" fill="#9a7a55" stroke="#886b4b"/><circle cx="447.0" cy="109.9" r="3.1" fill="#41703b" stroke="#396334"/><circle cx="352.5" cy="116.6" r="3.1" fill="#bd8080" stroke="#a67171"/><circle cx="358.4" cy="118.3" r="3.1" fill="#6c783d" stroke="#5f6a36"/><circle cx="366.7" cy="116.6" r="3.1" fill="#1c414a" stroke="#193941"/><circle cx="375.9" cy="117.0" r="3.1" fill="#1c414a" stroke="#193941"/><circle cx="384.3" cy="118.6" r="3.1" fill="#1c253d" stroke="#192136"/><circle cx="393.5" cy="118.0" r="3.1" fill="#1c414a" stroke="#193941"/><circle cx="401.0" cy="118.3" r="3.1" fill="#245c46" stroke="#20513e"/><circle cx="411.9" cy="119.5" r="3.1" fill="#6c783d" stroke="#5f6a36"/><circle cx="420.3" cy="119.5" r="3.1" fill="#cb8eb2" stroke="#b37d9d"/><circle cx="427.0" cy="118.6" r="3.1" fill="#cb8eb2" stroke="#b37d9d"/><circle cx="437.8" cy="119.5" r="3.1" fill="#cb8eb2" stroke="#b37d9d"/><circle cx="447.0" cy="119.1" r="3.1" fill="#cb8eb2" stroke="#b37d9d"/><circle cx="454.6" cy="118.3" r="3.1" fill="#e1f3ef" stroke="#c6d6d2"/><circle cx="465.4" cy="120.0" r="3.1" fill="#9a7a55" stroke="#886b4b"/><circle cx="476.7" cy="97.9" r="3.1" fill="#bd8080" stroke="#a67171"/><circle cx="526.9" cy="107.4" r="3.1" fill="#6c783d" stroke="#5f6a36"/><circle cx="535.2" cy="104.1" r="3.1" fill="#41703b" stroke="#396334"/><circle cx="547.0" cy="101.2" r="3.1" fill="#6c783d" stroke="#5f6a36"/><circle cx="552.0" cy="99.1" r="3.1" fill="#cb8eb2" stroke="#b37d9d"/><circle cx="535.2" cy="113.3" r="3.1" fill="#bd8080" stroke="#a67171"/><circle cx="545.3" cy="110.8" r="3.1" fill="#9a7a55" stroke="#886b4b"/><circle cx="559.5" cy="109.9" r="3.1" fill="#bd8080" stroke="#a67171"/><circle cx="565.4" cy="98.2" r="3.1" fill="#1c253d" stroke="#192136"/><circle cx="571.2" cy="98.2" r="3.1" fill="#cb8eb2" stroke="#b37d9d"/><circle cx="580.4" cy="98.2" r="3.1" fill="#0a060e" stroke="#09050c"/><circle cx="587.1" cy="95.7" r="3.1" fill="#0a060e" stroke="#09050c"/><circle cx="571.2" cy="106.6" r="3.1" fill="#41703b" stroke="#396334"/><circle cx="579.6" cy="108.3" r="3.1" fill="#0a060e" stroke="#09050c"/><circle cx="587.9" cy="105.8" r="3.1" fill="#0a060e" stroke="#09050c"/><circle cx="567.9" cy="115.0" r="3.1" fill="#41703b" stroke="#396334"/><circle cx="574.6" cy="115.8" r="3.1" fill="#cb8eb2" stroke="#b37d9d"/><circle cx="587.1" cy="119.6" r="3.1" fill="#41703b" stroke="#396334"/><circle cx="582.1" cy="124.2" r="3.1" fill="#bd8080" stroke="#a67171"/><circle cx="541.9" cy="120.3" r="3.1" fill="#6c783d" stroke="#5f6a36"/><circle cx="547.8" cy="120.8" r="3.1" fill="#9a7a55" stroke="#886b4b"/><circle cx="480.0" cy="118.0" r="3.1" fill="#c8a8d9" stroke="#b094bf"/><circle cx="490.1" cy="118.0" r="3.1" fill="#41703b" stroke="#396334"/><circle cx="499.3" cy="118.3" r="3.1" fill="#9a7a55" stroke="#886b4b"/><circle cx="510.1" cy="113.3" r="3.1" fill="#c8a8d9" stroke="#b094bf"/><circle cx="516.8" cy="115.3" r="3.1" fill="#c8a8d9" stroke="#b094bf"/><circle cx="471.7" cy="118.3" r="3.1" fill="#bd8080" stroke="#a67171"/><circle cx="479.2" cy="125.8" r="3.1" fill="#9a7a55" stroke="#886b4b"/><circle cx="488.4" cy="125.8" r="3.1" fill="#245c46" stroke="#20513e"/><circle cx="497.6" cy="125.0" r="3.1" fill="#0a060e" stroke="#09050c"/><circle cx="506.0" cy="123.3" r="3.1" fill="#9a7a55" stroke="#886b4b"/><circle cx="514.3" cy="125.0" r="3.1" fill="#9a7a55" stroke="#886b4b"/><circle cx="523.5" cy="125.8" r="3.1" fill="#c8a8d9" stroke="#b094bf"/><circle cx="656.1" cy="77.8" r="3.1" fill="#6c783d" stroke="#5f6a36"/><circle cx="667.0" cy="76.8" r="3.1" fill="#cb8eb2" stroke="#b37d9d"/><circle cx="676.2" cy="74.8" r="3.1" fill="#9a7a55" stroke="#886b4b"/><circle cx="681.2" cy="81.8" r="3.1" fill="#245c46" stroke="#20513e"/><circle cx="664.9" cy="84.0" r="3.1" fill="#245c46" stroke="#20513e"/><circle cx="674.5" cy="83.5" r="3.1" fill="#6c783d" stroke="#5f6a36"/><circle cx="641.9" cy="84.5" r="3.1" fill="#6c783d" stroke="#5f6a36"/><circle cx="650.2" cy="83.5" r="3.1" fill="#1c414a" stroke="#193941"/><circle cx="631.5" cy="85.7" r="3.1" fill="#0a060e" stroke="#09050c"/><circle cx="622.6" cy="89.0" r="3.1" fill="#0a060e" stroke="#09050c"/><circle cx="614.3" cy="90.7" r="3.1" fill="#0a060e" stroke="#09050c"/><circle cx="607.6" cy="92.4" r="3.1" fill="#0a060e" stroke="#09050c"/><circle cx="596.7" cy="92.9" r="3.1" fill="#41703b" stroke="#396334"/><circle cx="637.7" cy="92.9" r="3.1" fill="#c3c6eb" stroke="#acaecf"/><circle cx="647.7" cy="91.9" r="3.1" fill="#bd8080" stroke="#a67171"/><circle cx="656.6" cy="89.0" r="3.1" fill="#1c253d" stroke="#192136"/><circle cx="663.6" cy="94.9" r="3.1" fill="#cb8eb2" stroke="#b37d9d"/><circle cx="672.0" cy="94.9" r="3.1" fill="#245c46" stroke="#20513e"/><circle cx="678.7" cy="91.2" r="3.1" fill="#6c783d" stroke="#5f6a36"/><circle cx="604.2" cy="101.2" r="3.1" fill="#c8a8d9" stroke="#b094bf"/><circle cx="613.4" cy="98.2" r="3.1" fill="#1c414a" stroke="#193941"/><circle cx="621.8" cy="97.9" r="3.1" fill="#0a060e" stroke="#09050c"/><circle cx="630.1" cy="96.6" r="3.1" fill="#0a060e" stroke="#09050c"/><circle cx="636.8" cy="102.4" r="3.1" fill="#c3c6eb" stroke="#acaecf"/><circle cx="644.4" cy="99.1" r="3.1" fill="#0a060e" stroke="#09050c"/><circle cx="653.2" cy="96.6" r="3.1" fill="#1c253d" stroke="#192136"/><circle cx="661.1" cy="105.8" r="3.1" fill="#245c46" stroke="#20513e"/><circle cx="670.0" cy="104.1" r="3.1" fill="#1c414a" stroke="#193941"/><circle cx="677.0" cy="100.7" r="3.1" fill="#245c46" stroke="#20513e"/><circle cx="687.9" cy="97.4" r="3.1" fill="#6c783d" stroke="#5f6a36"/><circle cx="684.5" cy="106.3" r="3.1" fill="#9a7a55" stroke="#886b4b"/><circle cx="593.3" cy="103.2" r="3.1" fill="#1c253d" stroke="#192136"/><circle cx="602.5" cy="110.3" r="3.1" fill="#1c414a" stroke="#193941"/><circle cx="618.4" cy="106.9" r="3.1" fill="#6c783d" stroke="#5f6a36"/><circle cx="626.8" cy="104.6" r="3.1" fill="#6c783d" stroke="#5f6a36"/><circle cx="643.5" cy="111.6" r="3.1" fill="#0a060e" stroke="#09050c"/><circle cx="650.2" cy="106.9" r="3.1" fill="#1c253d" stroke="#192136"/><circle cx="667.0" cy="111.6" r="3.1" fill="#9a7a55" stroke="#886b4b"/><circle cx="675.3" cy="109.9" r="3.1" fill="#6c783d" stroke="#5f6a36"/><circle cx="600.9" cy="119.1" r="3.1" fill="#0a060e" stroke="#09050c"/><circle cx="618.4" cy="117.5" r="3.1" fill="#1c253d" stroke="#192136"/><circle cx="626.8" cy="115.0" r="3.1" fill="#1c253d" stroke="#192136"/><circle cx="635.2" cy="112.9" r="3.1" fill="#cb8eb2" stroke="#b37d9d"/><circle cx="641.9" cy="119.6" r="3.1" fill="#1c253d" stroke="#192136"/><circle cx="649.4" cy="118.0" r="3.1" fill="#1c414a" stroke="#193941"/><circle cx="656.9" cy="115.3" r="3.1" fill="#41703b" stroke="#396334"/><circle cx="664.4" cy="121.3" r="3.1" fill="#6c783d" stroke="#5f6a36"/><circle cx="673.6" cy="120.0" r="3.1" fill="#1c414a" stroke="#193941"/><circle cx="624.3" cy="123.3" r="3.1" fill="#0a060e" stroke="#09050c"/><circle cx="631.8" cy="121.6" r="3.1" fill="#1c253d" stroke="#192136"/><circle cx="606.7" cy="125.8" r="3.1" fill="#41703b" stroke="#396334"/><circle cx="137.6" cy="130.5" r="3.1" fill="#bd8080" stroke="#a67171"/><circle cx="130.9" cy="133.9" r="3.1" fill="#cb8eb2" stroke="#b37d9d"/><circle cx="151.0" cy="133.9" r="3.1" fill="#c8a8d9" stroke="#b094bf"/><circle cx="159.3" cy="134.7" r="3.1" fill="#c3c6eb" stroke="#acaecf"/><circle cx="166.9" cy="134.7" r="3.1" fill="#c8a8d9" stroke="#b094bf"/><circle cx="176.9" cy="131.3" r="3.1" fill="#c3c6eb" stroke="#acaecf"/><circle cx="185.3" cy="133.0" r="3.1" fill="#c8a8d9" stroke="#b094bf"/><circle cx="193.6" cy="134.7" r="3.1" fill="#e1f3ef" stroke="#c6d6d2"/><circle cx="204.5" cy="128.8" r="3.1" fill="#bd8080" stroke="#a67171"/><circle cx="211.2" cy="132.2" r="3.1" fill="#c8a8d9" stroke="#b094bf"/><circle cx="220.4" cy="134.7" r="3.1" fill="#cb8eb2" stroke="#b37d9d"/><circle cx="227.1" cy="139.7" r="3.1" fill="#cb8eb2" stroke="#b37d9d"/><circle cx="147.6" cy="138.9" r="3.1" fill="#bd8080" stroke="#a67171"/><circle cx="175.2" cy="140.5" r="3.1" fill="#c8a8d9" stroke="#b094bf"/><circle cx="183.6" cy="141.0" r="3.1" fill="#c3c6eb" stroke="#acaecf"/><circle cx="191.1" cy="143.9" r="3.1" fill="#c3c6eb" stroke="#acaecf"/><circle cx="201.2" cy="144.7" r="3.1" fill="#c3c6eb" stroke="#acaecf"/><circle cx="208.7" cy="147.2" r="3.1" fill="#0a060e" stroke="#09050c"/><circle cx="218.7" cy="143.1" r="3.1" fill="#bd8080" stroke="#a67171"/><circle cx="212.0" cy="139.7" r="3.1" fill="#c8a8d9" stroke="#b094bf"/><circle cx="227.1" cy="153.1" r="3.1" fill="#cb8eb2" stroke="#b37d9d"/><circle cx="134.8" cy="146.7" r="3.1" fill="#c8a8d9" stroke="#b094bf"/><circle cx="146.0" cy="145.1" r="3.1" fill="#c3c6eb" stroke="#acaecf"/><circle cx="128.1" cy="153.1" r="3.1" fill="#c3c6eb" stroke="#acaecf"/><circle cx="141.8" cy="150.6" r="3.1" fill="#e1f3ef" stroke="#c6d6d2"/><circle cx="151.8" cy="152.3" r="3.1" fill="#c8a8d9" stroke="#b094bf"/><circle cx="158.5" cy="156.4" r="3.1" fill="#c8a8d9" stroke="#b094bf"/><circle cx="172.7" cy="151.4" r="3.1" fill="#c3c6eb" stroke="#acaecf"/><circle cx="183.6" cy="153.1" r="3.1" fill="#c8a8d9" stroke="#b094bf"/><circle cx="201.7" cy="153.4" r="3.1" fill="#c8a8d9" stroke="#b094bf"/><circle cx="209.5" cy="155.1" r="3.1" fill="#cb8eb2" stroke="#b37d9d"/><circle cx="219.1" cy="151.4" r="3.1" fill="#0a060e" stroke="#09050c"/><circle cx="120.9" cy="159.8" r="3.1" fill="#e1f3ef" stroke="#c6d6d2"/><circle cx="134.8" cy="158.9" r="3.1" fill="#245c46" stroke="#20513e"/><circle cx="129.7" cy="163.1" r="3.1" fill="#c3c6eb" stroke="#acaecf"/><circle cx="146.8" cy="158.9" r="3.1" fill="#c8a8d9" stroke="#b094bf"/><circle cx="153.5" cy="163.1" r="3.1" fill="#c8a8d9" stroke="#b094bf"/><circle cx="171.9" cy="158.1" r="3.1" fill="#c3c6eb" stroke="#acaecf"/><circle cx="180.3" cy="158.9" r="3.1" fill="#cb8eb2" stroke="#b37d9d"/><circle cx="189.5" cy="161.5" r="3.1" fill="#c3c6eb" stroke="#acaecf"/><circle cx="198.7" cy="162.8" r="3.1" fill="#bd8080" stroke="#a67171"/><circle cx="207.0" cy="165.6" r="3.1" fill="#cb8eb2" stroke="#b37d9d"/><circle cx="214.6" cy="168.1" r="3.1" fill="#e1f3ef" stroke="#c6d6d2"/><circle cx="225.4" cy="169.0" r="3.1" fill="#cb8eb2" stroke="#b37d9d"/><circle cx="162.7" cy="164.8" r="3.1" fill="#c8a8d9" stroke="#b094bf"/><circle cx="148.5" cy="166.8" r="3.1" fill="#bd8080" stroke="#a67171"/><circle cx="122.0" cy="171.2" r="3.1" fill="#e1f3ef" stroke="#c6d6d2"/><circle cx="137.6" cy="168.1" r="3.1" fill="#cb8eb2" stroke="#b37d9d"/><circle cx="148.5" cy="171.8" r="3.1" fill="#c8a8d9" stroke="#b094bf"/><circle cx="161.0" cy="172.3" r="3.1" fill="#c8a8d9" stroke="#b094bf"/><circle cx="171.9" cy="166.5" r="3.1" fill="#cb8eb2" stroke="#b37d9d"/><circle cx="180.3" cy="168.1" r="3.1" fill="#cb8eb2" stroke="#b37d9d"/><circle cx="187.0" cy="169.0" r="3.1" fill="#c8a8d9" stroke="#b094bf"/><circle cx="197.0" cy="173.5" r="3.1" fill="#6c783d" stroke="#5f6a36"/><circle cx="205.0" cy="174.5" r="3.1" fill="#cb8eb2" stroke="#b37d9d"/><circle cx="212.4" cy="174.8" r="3.1" fill="#c3c6eb" stroke="#acaecf"/><circle cx="220.4" cy="177.3" r="3.1" fill="#0a060e" stroke="#09050c"/><circle cx="169.4" cy="174.8" r="3.1" fill="#c3c6eb" stroke="#acaecf"/><circle cx="178.6" cy="175.7" r="3.1" fill="#0a060e" stroke="#09050c"/><circle cx="188.6" cy="179.0" r="3.1" fill="#c3c6eb" stroke="#acaecf"/><circle cx="196.2" cy="179.0" r="3.1" fill="#bd8080" stroke="#a67171"/><circle cx="158.2" cy="178.2" r="3.1" fill="#bd8080" stroke="#a67171"/><circle cx="137.1" cy="179.0" r="3.1" fill="#245c46" stroke="#20513e"/><circle cx="148.5" cy="181.2" r="3.1" fill="#e1f3ef" stroke="#c6d6d2"/><circle cx="132.2" cy="186.6" r="3.1" fill="#bd8080" stroke="#a67171"/><circle cx="139.8" cy="185.7" r="3.1" fill="#bd8080" stroke="#a67171"/><circle cx="146.0" cy="188.6" r="3.1" fill="#cb8eb2" stroke="#b37d9d"/><circle cx="167.7" cy="183.2" r="3.1" fill="#9a7a55" stroke="#886b4b"/><circle cx="177.8" cy="183.2" r="3.1" fill="#e1f3ef" stroke="#c6d6d2"/><circle cx="186.1" cy="187.4" r="3.1" fill="#c3c6eb" stroke="#acaecf"/><circle cx="193.6" cy="189.1" r="3.1" fill="#c3c6eb" stroke="#acaecf"/><circle cx="201.2" cy="190.7" r="3.1" fill="#c3c6eb" stroke="#acaecf"/><circle cx="203.7" cy="182.9" r="3.1" fill="#c3c6eb" stroke="#acaecf"/><circle cx="213.7" cy="184.0" r="3.1" fill="#cb8eb2" stroke="#b37d9d"/><circle cx="225.4" cy="185.7" r="3.1" fill="#c8a8d9" stroke="#b094bf"/><circle cx="121.7" cy="189.9" r="3.1" fill="#cb8eb2" stroke="#b37d9d"/><circle cx="130.9" cy="195.8" r="3.1" fill="#245c46" stroke="#20513e"/><circle cx="141.8" cy="194.6" r="3.1" fill="#c8a8d9" stroke="#b094bf"/><circle cx="152.7" cy="191.6" r="3.1" fill="#6c783d" stroke="#5f6a36"/><circle cx="166.9" cy="191.9" r="3.1" fill="#c8a8d9" stroke="#b094bf"/><circle cx="175.6" cy="195.2" r="3.1" fill="#245c46" stroke="#20513e"/><circle cx="183.6" cy="196.6" r="3.1" fill="#cb8eb2" stroke="#b37d9d"/><circle cx="192.0" cy="199.1" r="3.1" fill="#c3c6eb" stroke="#acaecf"/><circle cx="200.3" cy="199.9" r="3.1" fill="#c8a8d9" stroke="#b094bf"/><circle cx="209.5" cy="194.9" r="3.1" fill="#c3c6eb" stroke="#acaecf"/><circle cx="218.7" cy="196.6" r="3.1" fill="#c8a8d9" stroke="#b094bf"/><circle cx="227.1" cy="194.9" r="3.1" fill="#c8a8d9" stroke="#b094bf"/><circle cx="146.8" cy="199.1" r="3.1" fill="#245c46" stroke="#20513e"/><circle cx="151.8" cy="202.9" r="3.1" fill="#6c783d" stroke="#5f6a36"/><circle cx="160.2" cy="196.9" r="3.1" fill="#e1f3ef" stroke="#c6d6d2"/><circle cx="171.9" cy="201.3" r="3.1" fill="#6c783d" stroke="#5f6a36"/><circle cx="135.1" cy="203.3" r="3.1" fill="#cb8eb2" stroke="#b37d9d"/><circle cx="144.3" cy="208.3" r="3.1" fill="#cb8eb2" stroke="#b37d9d"/><circle cx="160.2" cy="202.4" r="3.1" fill="#cb8eb2" stroke="#b37d9d"/><circle cx="161.9" cy="210.0" r="3.1" fill="#e1f3ef" stroke="#c6d6d2"/><circle cx="168.6" cy="213.3" r="3.1" fill="#cb8eb2" stroke="#b37d9d"/><circle cx="182.8" cy="205.8" r="3.1" fill="#c8a8d9" stroke="#b094bf"/><circle cx="191.6" cy="206.6" r="3.1" fill="#cb8eb2" stroke="#b37d9d"/><circle cx="198.7" cy="210.0" r="3.1" fill="#c8a8d9" stroke="#b094bf"/><circle cx="208.7" cy="210.0" r="3.1" fill="#41703b" stroke="#396334"/><circle cx="217.1" cy="204.1" r="3.1" fill="#9a7a55" stroke="#886b4b"/><circle cx="225.4" cy="205.0" r="3.1" fill="#c3c6eb" stroke="#acaecf"/><circle cx="226.3" cy="214.2" r="3.1" fill="#6c783d" stroke="#5f6a36"/><circle cx="139.3" cy="214.2" r="3.1" fill="#c8a8d9" stroke="#b094bf"/><circle cx="150.1" cy="214.7" r="3.1" fill="#245c46" stroke="#20513e"/><circle cx="178.6" cy="213.3" r="3.1" fill="#c8a8d9" stroke="#b094bf"/><circle cx="187.0" cy="213.3" r="3.1" fill="#cb8eb2" stroke="#b37d9d"/><circle cx="126.7" cy="215.0" r="3.1" fill="#c8a8d9" stroke="#b094bf"/><circle cx="231.7" cy="135.5" r="3.1" fill="#cb8eb2" stroke="#b37d9d"/><circle cx="237.5" cy="137.2" r="3.1" fill="#c8a8d9" stroke="#b094bf"/><circle cx="246.7" cy="137.2" r="3.1" fill="#c8a8d9" stroke="#b094bf"/><circle cx="255.9" cy="140.5" r="3.1" fill="#cb8eb2" stroke="#b37d9d"/><circle cx="267.6" cy="141.4" r="3.1" fill="#e1f3ef" stroke="#c6d6d2"/><circle cx="275.2" cy="133.0" r="3.1" fill="#c3c6eb" stroke="#acaecf"/><circle cx="282.7" cy="134.7" r="3.1" fill="#c3c6eb" stroke="#acaecf"/><circle cx="291.9" cy="138.0" r="3.1" fill="#cb8eb2" stroke="#b37d9d"/><circle cx="301.9" cy="137.2" r="3.1" fill="#c8a8d9" stroke="#b094bf"/><circle cx="308.6" cy="139.4" r="3.1" fill="#bd8080" stroke="#a67171"/><circle cx="317.8" cy="140.5" r="3.1" fill="#c3c6eb" stroke="#acaecf"/><circle cx="326.2" cy="139.7" r="3.1" fill="#c8a8d9" stroke="#b094bf"/><circle cx="338.7" cy="133.9" r="3.1" fill="#cb8eb2" stroke="#b37d9d"/><circle cx="346.3" cy="133.0" r="3.1" fill="#c8a8d9" stroke="#b094bf"/><circle cx="230.0" cy="144.7" r="3.1" fill="#c8a8d9" stroke="#b094bf"/><circle cx="235.0" cy="145.1" r="3.1" fill="#245c46" stroke="#20513e"/><circle cx="245.9" cy="146.1" r="3.1" fill="#bd8080" stroke="#a67171"/><circle cx="253.4" cy="149.4" r="3.1" fill="#245c46" stroke="#20513e"/><circle cx="263.5" cy="149.4" r="3.1" fill="#cb8eb2" stroke="#b37d9d"/><circle cx="272.7" cy="146.1" r="3.1" fill="#c3c6eb" stroke="#acaecf"/><circle cx="281.5" cy="143.4" r="3.1" fill="#0a060e" stroke="#09050c"/><circle cx="289.9" cy="145.6" r="3.1" fill="#1c414a" stroke="#193941"/><circle cx="297.8" cy="148.9" r="3.1" fill="#c8a8d9" stroke="#b094bf"/><circle cx="306.1" cy="148.9" r="3.1" fill="#41703b" stroke="#396334"/><circle cx="316.2" cy="148.9" r="3.1" fill="#c8a8d9" stroke="#b094bf"/><circle cx="324.5" cy="151.4" r="3.1" fill="#c8a8d9" stroke="#b094bf"/><circle cx="332.0" cy="144.7" r="3.1" fill="#c8a8d9" stroke="#b094bf"/><circle cx="339.6" cy="142.2" r="3.1" fill="#c3c6eb" stroke="#acaecf"/><circle cx="347.1" cy="143.1" r="3.1" fill="#c8a8d9" stroke="#b094bf"/><circle cx="236.7" cy="155.6" r="3.1" fill="#c8a8d9" stroke="#b094bf"/><circle cx="243.0" cy="155.6" r="3.1" fill="#9a7a55" stroke="#886b4b"/><circle cx="252.6" cy="155.1" r="3.1" fill="#245c46" stroke="#20513e"/><circle cx="260.1" cy="157.8" r="3.1" fill="#9a7a55" stroke="#886b4b"/><circle cx="270.1" cy="153.1" r="3.1" fill="#c3c6eb" stroke="#acaecf"/><circle cx="279.3" cy="153.9" r="3.1" fill="#c3c6eb" stroke="#acaecf"/><circle cx="288.6" cy="153.9" r="3.1" fill="#cb8eb2" stroke="#b37d9d"/><circle cx="295.6" cy="154.8" r="3.1" fill="#c8a8d9" stroke="#b094bf"/><circle cx="304.9" cy="155.6" r="3.1" fill="#c8a8d9" stroke="#b094bf"/><circle cx="314.5" cy="156.8" r="3.1" fill="#6c783d" stroke="#5f6a36"/><circle cx="323.7" cy="158.1" r="3.1" fill="#c3c6eb" stroke="#acaecf"/><circle cx="333.7" cy="158.1" r="3.1" fill="#cb8eb2" stroke="#b37d9d"/><circle cx="341.7" cy="153.1" r="3.1" fill="#c3c6eb" stroke="#acaecf"/><circle cx="348.8" cy="153.1" r="3.1" fill="#c8a8d9" stroke="#b094bf"/><circle cx="231.7" cy="164.8" r="3.1" fill="#c8a8d9" stroke="#b094bf"/><circle cx="240.9" cy="172.3" r="3.1" fill="#cb8eb2" stroke="#b37d9d"/><circle cx="250.1" cy="166.8" r="3.1" fill="#c8a8d9" stroke="#b094bf"/><circle cx="260.1" cy="166.5" r="3.1" fill="#cb8eb2" stroke="#b37d9d"/><circle cx="268.5" cy="161.1" r="3.1" fill="#c8a8d9" stroke="#b094bf"/><circle cx="280.2" cy="159.4" r="3.1" fill="#c8a8d9" stroke="#b094bf"/><circle cx="285.2" cy="163.1" r="3.1" fill="#c8a8d9" stroke="#b094bf"/><circle cx="296.1" cy="165.1" r="3.1" fill="#c8a8d9" stroke="#b094bf"/><circle cx="303.6" cy="166.1" r="3.1" fill="#c8a8d9" stroke="#b094bf"/><circle cx="312.8" cy="165.6" r="3.1" fill="#6c783d" stroke="#5f6a36"/><circle cx="321.7" cy="167.3" r="3.1" fill="#cb8eb2" stroke="#b37d9d"/><circle cx="338.4" cy="168.1" r="3.1" fill="#c3c6eb" stroke="#acaecf"/><circle cx="347.1" cy="169.8" r="3.1" fill="#c8a8d9" stroke="#b094bf"/><circle cx="266.5" cy="170.7" r="3.1" fill="#0a060e" stroke="#09050c"/><circle cx="274.3" cy="169.0" r="3.1" fill="#c8a8d9" stroke="#b094bf"/><circle cx="284.4" cy="172.3" r="3.1" fill="#9a7a55" stroke="#886b4b"/><circle cx="293.6" cy="173.2" r="3.1" fill="#c8a8d9" stroke="#b094bf"/><circle cx="302.8" cy="174.5" r="3.1" fill="#cb8eb2" stroke="#b37d9d"/><circle cx="311.1" cy="174.0" r="3.1" fill="#245c46" stroke="#20513e"/><circle cx="319.5" cy="176.5" r="3.1" fill="#9a7a55" stroke="#886b4b"/><circle cx="231.7" cy="178.2" r="3.1" fill="#cb8eb2" stroke="#b37d9d"/><circle cx="238.4" cy="180.7" r="3.1" fill="#9a7a55" stroke="#886b4b"/><circle cx="248.4" cy="176.2" r="3.1" fill="#245c46" stroke="#20513e"/><circle cx="258.8" cy="175.7" r="3.1" fill="#6c783d" stroke="#5f6a36"/><circle cx="249.7" cy="182.9" r="3.1" fill="#9a7a55" stroke="#886b4b"/><circle cx="265.1" cy="177.3" r="3.1" fill="#cb8eb2" stroke="#b37d9d"/><circle cx="274.3" cy="178.2" r="3.1" fill="#cb8eb2" stroke="#b37d9d"/><circle cx="284.4" cy="179.5" r="3.1" fill="#c8a8d9" stroke="#b094bf"/><circle cx="293.2" cy="179.5" r="3.1" fill="#bd8080" stroke="#a67171"/><circle cx="301.1" cy="183.2" r="3.1" fill="#c3c6eb" stroke="#acaecf"/><circle cx="310.3" cy="183.2" r="3.1" fill="#9a7a55" stroke="#886b4b"/><circle cx="319.5" cy="184.9" r="3.1" fill="#c8a8d9" stroke="#b094bf"/><circle cx="328.7" cy="178.2" r="3.1" fill="#c3c6eb" stroke="#acaecf"/><circle cx="337.9" cy="177.3" r="3.1" fill="#c8a8d9" stroke="#b094bf"/><circle cx="345.4" cy="178.2" r="3.1" fill="#bd8080" stroke="#a67171"/><circle cx="233.3" cy="189.6" r="3.1" fill="#c8a8d9" stroke="#b094bf"/><circle cx="237.5" cy="188.2" r="3.1" fill="#c8a8d9" stroke="#b094bf"/><circle cx="246.7" cy="190.7" r="3.1" fill="#c3c6eb" stroke="#acaecf"/><circle cx="255.1" cy="193.2" r="3.1" fill="#c3c6eb" stroke="#acaecf"/><circle cx="263.1" cy="193.2" r="3.1" fill="#1c414a" stroke="#193941"/><circle cx="271.8" cy="194.6" r="3.1" fill="#cb8eb2" stroke="#b37d9d"/><circle cx="281.9" cy="189.9" r="3.1" fill="#c8a8d9" stroke="#b094bf"/><circle cx="289.4" cy="190.7" r="3.1" fill="#c8a8d9" stroke="#b094bf"/><circle cx="296.9" cy="193.2" r="3.1" fill="#c8a8d9" stroke="#b094bf"/><circle cx="304.4" cy="191.2" r="3.1" fill="#c8a8d9" stroke="#b094bf"/><circle cx="317.0" cy="192.4" r="3.1" fill="#41703b" stroke="#396334"/><circle cx="327.0" cy="185.7" r="3.1" fill="#0a060e" stroke="#09050c"/><circle cx="326.2" cy="194.6" r="3.1" fill="#0a060e" stroke="#09050c"/><circle cx="335.1" cy="194.9" r="3.1" fill="#1c253d" stroke="#192136"/><circle cx="341.7" cy="195.8" r="3.1" fill="#0a060e" stroke="#09050c"/><circle cx="337.1" cy="185.7" r="3.1" fill="#c8a8d9" stroke="#b094bf"/><circle cx="345.4" cy="185.7" r="3.1" fill="#bd8080" stroke="#a67171"/><circle cx="237.5" cy="199.1" r="3.1" fill="#1c414a" stroke="#193941"/><circle cx="245.1" cy="200.3" r="3.1" fill="#c8a8d9" stroke="#b094bf"/><circle cx="253.4" cy="203.6" r="3.1" fill="#41703b" stroke="#396334"/><circle cx="260.1" cy="201.6" r="3.1" fill="#c3c6eb" stroke="#acaecf"/><circle cx="279.3" cy="205.8" r="3.1" fill="#cb8eb2" stroke="#b37d9d"/><circle cx="281.0" cy="197.9" r="3.1" fill="#41703b" stroke="#396334"/><circle cx="289.4" cy="198.3" r="3.1" fill="#bd8080" stroke="#a67171"/><circle cx="297.8" cy="200.3" r="3.1" fill="#c3c6eb" stroke="#acaecf"/><circle cx="306.1" cy="199.9" r="3.1" fill="#41703b" stroke="#396334"/><circle cx="314.5" cy="201.9" r="3.1" fill="#9a7a55" stroke="#886b4b"/><circle cx="323.7" cy="203.6" r="3.1" fill="#9a7a55" stroke="#886b4b"/><circle cx="332.9" cy="202.9" r="3.1" fill="#41703b" stroke="#396334"/><circle cx="341.2" cy="204.1" r="3.1" fill="#1c414a" stroke="#193941"/><circle cx="288.6" cy="206.3" r="3.1" fill="#c3c6eb" stroke="#acaecf"/><circle cx="306.1" cy="206.6" r="3.1" fill="#9a7a55" stroke="#886b4b"/><circle cx="231.7" cy="205.8" r="3.1" fill="#c3c6eb" stroke="#acaecf"/><circle cx="236.7" cy="210.0" r="3.1" fill="#c3c6eb" stroke="#acaecf"/><circle cx="246.7" cy="209.6" r="3.1" fill="#c3c6eb" stroke="#acaecf"/><circle cx="259.3" cy="209.1" r="3.1" fill="#cb8eb2" stroke="#b37d9d"/><circle cx="267.6" cy="212.5" r="3.1" fill="#bd8080" stroke="#a67171"/><circle cx="278.5" cy="213.3" r="3.1" fill="#bd8080" stroke="#a67171"/><circle cx="286.9" cy="215.0" r="3.1" fill="#bd8080" stroke="#a67171"/><circle cx="296.9" cy="209.1" r="3.1" fill="#c3c6eb" stroke="#acaecf"/><circle cx="312.8" cy="213.3" r="3.1" fill="#c3c6eb" stroke="#acaecf"/><circle cx="322.8" cy="211.6" r="3.1" fill="#cb8eb2" stroke="#b37d9d"/><circle cx="331.2" cy="211.6" r="3.1" fill="#41703b" stroke="#396334"/><circle cx="340.4" cy="213.3" r="3.1" fill="#41703b" stroke="#396334"/><circle cx="251.7" cy="215.8" r="3.1" fill="#cb8eb2" stroke="#b37d9d"/><circle cx="310.3" cy="216.7" r="3.1" fill="#41703b" stroke="#396334"/><circle cx="373.4" cy="136.4" r="3.1" fill="#6c783d" stroke="#5f6a36"/><circle cx="380.9" cy="137.2" r="3.1" fill="#1c414a" stroke="#193941"/><circle cx="389.8" cy="136.4" r="3.1" fill="#1c253d" stroke="#192136"/><circle cx="397.2" cy="136.4" r="3.1" fill="#1c253d" stroke="#192136"/><circle cx="407.7" cy="137.2" r="3.1" fill="#1c414a" stroke="#193941"/><circle cx="415.2" cy="136.4" r="3.1" fill="#41703b" stroke="#396334"/><circle cx="426.1" cy="137.2" r="3.1" fill="#41703b" stroke="#396334"/><circle cx="434.5" cy="136.7" r="3.1" fill="#c8a8d9" stroke="#b094bf"/><circle cx="442.8" cy="137.2" r="3.1" fill="#41703b" stroke="#396334"/><circle cx="452.0" cy="138.0" r="3.1" fill="#bd8080" stroke="#a67171"/><circle cx="459.6" cy="135.5" r="3.1" fill="#cb8eb2" stroke="#b37d9d"/><circle cx="467.1" cy="135.5" r="3.1" fill="#c8a8d9" stroke="#b094bf"/><circle cx="353.3" cy="132.2" r="3.1" fill="#c8a8d9" stroke="#b094bf"/><circle cx="375.1" cy="128.8" r="3.1" fill="#1c414a" stroke="#193941"/><circle cx="382.6" cy="128.8" r="3.1" fill="#0a060e" stroke="#09050c"/><circle cx="390.1" cy="128.8" r="3.1" fill="#1c253d" stroke="#192136"/><circle cx="400.2" cy="128.8" r="3.1" fill="#41703b" stroke="#396334"/><circle cx="408.6" cy="128.8" r="3.1" fill="#6c783d" stroke="#5f6a36"/><circle cx="417.8" cy="129.7" r="3.1" fill="#6c783d" stroke="#5f6a36"/><circle cx="426.1" cy="129.7" r="3.1" fill="#bd8080" stroke="#a67171"/><circle cx="435.3" cy="128.8" r="3.1" fill="#9a7a55" stroke="#886b4b"/><circle cx="445.4" cy="128.8" r="3.1" fill="#c8a8d9" stroke="#b094bf"/><circle cx="463.8" cy="128.8" r="3.1" fill="#bd8080" stroke="#a67171"/><circle cx="351.7" cy="143.1" r="3.1" fill="#c3c6eb" stroke="#acaecf"/><circle cx="370.1" cy="144.7" r="3.1" fill="#bd8080" stroke="#a67171"/><circle cx="381.8" cy="147.2" r="3.1" fill="#1c253d" stroke="#192136"/><circle cx="388.1" cy="146.7" r="3.1" fill="#245c46" stroke="#20513e"/><circle cx="397.7" cy="147.7" r="3.1" fill="#1c253d" stroke="#192136"/><circle cx="404.4" cy="144.7" r="3.1" fill="#1c414a" stroke="#193941"/><circle cx="413.6" cy="144.7" r="3.1" fill="#1c253d" stroke="#192136"/><circle cx="423.3" cy="144.7" r="3.1" fill="#245c46" stroke="#20513e"/><circle cx="432.0" cy="146.4" r="3.1" fill="#41703b" stroke="#396334"/><circle cx="441.2" cy="146.4" r="3.1" fill="#6c783d" stroke="#5f6a36"/><circle cx="450.4" cy="144.7" r="3.1" fill="#cb8eb2" stroke="#b37d9d"/><circle cx="458.7" cy="144.7" r="3.1" fill="#cb8eb2" stroke="#b37d9d"/><circle cx="467.1" cy="144.4" r="3.1" fill="#bd8080" stroke="#a67171"/><circle cx="351.7" cy="151.4" r="3.1" fill="#c3c6eb" stroke="#acaecf"/><circle cx="360.0" cy="152.3" r="3.1" fill="#c8a8d9" stroke="#b094bf"/><circle cx="368.4" cy="153.1" r="3.1" fill="#c8a8d9" stroke="#b094bf"/><circle cx="377.6" cy="154.4" r="3.1" fill="#6c783d" stroke="#5f6a36"/><circle cx="386.0" cy="153.4" r="3.1" fill="#0a060e" stroke="#09050c"/><circle cx="396.5" cy="153.9" r="3.1" fill="#1c414a" stroke="#193941"/><circle cx="403.9" cy="153.4" r="3.1" fill="#0a060e" stroke="#09050c"/><circle cx="413.2" cy="153.9" r="3.1" fill="#0a060e" stroke="#09050c"/><circle cx="421.9" cy="156.4" r="3.1" fill="#0a060e" stroke="#09050c"/><circle cx="432.0" cy="153.9" r="3.1" fill="#1c414a" stroke="#193941"/><circle cx="437.8" cy="154.4" r="3.1" fill="#245c46" stroke="#20513e"/><circle cx="447.9" cy="153.1" r="3.1" fill="#6c783d" stroke="#5f6a36"/><circle cx="457.1" cy="155.6" r="3.1" fill="#41703b" stroke="#396334"/><circle cx="465.4" cy="154.8" r="3.1" fill="#cb8eb2" stroke="#b37d9d"/><circle cx="351.7" cy="161.5" r="3.1" fill="#c3c6eb" stroke="#acaecf"/><circle cx="357.5" cy="160.6" r="3.1" fill="#e1f3ef" stroke="#c6d6d2"/><circle cx="366.7" cy="161.5" r="3.1" fill="#cb8eb2" stroke="#b37d9d"/><circle cx="375.1" cy="163.1" r="3.1" fill="#cb8eb2" stroke="#b37d9d"/><circle cx="384.3" cy="163.1" r="3.1" fill="#41703b" stroke="#396334"/><circle cx="393.2" cy="162.3" r="3.1" fill="#1c414a" stroke="#193941"/><circle cx="401.9" cy="164.0" r="3.1" fill="#245c46" stroke="#20513e"/><circle cx="411.9" cy="164.5" r="3.1" fill="#0a060e" stroke="#09050c"/><circle cx="419.4" cy="163.1" r="3.1" fill="#0a060e" stroke="#09050c"/><circle cx="428.6" cy="163.5" r="3.1" fill="#0a060e" stroke="#09050c"/><circle cx="436.7" cy="163.5" r="3.1" fill="#0a060e" stroke="#09050c"/><circle cx="447.4" cy="163.5" r="3.1" fill="#0a060e" stroke="#09050c"/><circle cx="455.4" cy="163.1" r="3.1" fill="#6c783d" stroke="#5f6a36"/><circle cx="464.6" cy="162.3" r="3.1" fill="#9a7a55" stroke="#886b4b"/><circle cx="356.7" cy="169.8" r="3.1" fill="#c3c6eb" stroke="#acaecf"/><circle cx="366.7" cy="170.7" r="3.1" fill="#9a7a55" stroke="#886b4b"/><circle cx="375.1" cy="171.8" r="3.1" fill="#41703b" stroke="#396334"/><circle cx="383.1" cy="172.8" r="3.1" fill="#bd8080" stroke="#a67171"/><circle cx="391.0" cy="173.2" r="3.1" fill="#41703b" stroke="#396334"/><circle cx="400.2" cy="174.0" r="3.1" fill="#245c46" stroke="#20513e"/><circle cx="411.1" cy="172.8" r="3.1" fill="#41703b" stroke="#396334"/><circle cx="418.6" cy="172.3" r="3.1" fill="#0a060e" stroke="#09050c"/><circle cx="427.0" cy="173.2" r="3.1" fill="#0a060e" stroke="#09050c"/><circle cx="435.7" cy="171.8" r="3.1" fill="#0a060e" stroke="#09050c"/><circle cx="444.5" cy="173.2" r="3.1" fill="#1c414a" stroke="#193941"/><circle cx="453.7" cy="171.8" r="3.1" fill="#41703b" stroke="#396334"/><circle cx="462.1" cy="171.2" r="3.1" fill="#cb8eb2" stroke="#b37d9d"/><circle cx="468.8" cy="172.3" r="3.1" fill="#c8a8d9" stroke="#b094bf"/><circle cx="354.2" cy="179.0" r="3.1" fill="#c8a8d9" stroke="#b094bf"/><circle cx="364.2" cy="180.7" r="3.1" fill="#cb8eb2" stroke="#b37d9d"/><circle cx="373.4" cy="181.5" r="3.1" fill="#9a7a55" stroke="#886b4b"/><circle cx="381.8" cy="178.2" r="3.1" fill="#cb8eb2" stroke="#b37d9d"/><circle cx="390.1" cy="181.9" r="3.1" fill="#245c46" stroke="#20513e"/><circle cx="397.7" cy="179.9" r="3.1" fill="#6c783d" stroke="#5f6a36"/><circle cx="406.5" cy="183.2" r="3.1" fill="#41703b" stroke="#396334"/><circle cx="416.1" cy="181.2" r="3.1" fill="#1c414a" stroke="#193941"/><circle cx="425.3" cy="181.2" r="3.1" fill="#1c253d" stroke="#192136"/><circle cx="434.5" cy="180.2" r="3.1" fill="#1c414a" stroke="#193941"/><circle cx="440.3" cy="183.2" r="3.1" fill="#41703b" stroke="#396334"/><circle cx="452.4" cy="180.2" r="3.1" fill="#9a7a55" stroke="#886b4b"/><circle cx="459.6" cy="179.9" r="3.1" fill="#c8a8d9" stroke="#b094bf"/><circle cx="467.1" cy="180.2" r="3.1" fill="#cb8eb2" stroke="#b37d9d"/><circle cx="354.2" cy="189.1" r="3.1" fill="#bd8080" stroke="#a67171"/><circle cx="362.5" cy="188.6" r="3.1" fill="#bd8080" stroke="#a67171"/><circle cx="370.1" cy="187.4" r="3.1" fill="#c8a8d9" stroke="#b094bf"/><circle cx="379.3" cy="190.7" r="3.1" fill="#c8a8d9" stroke="#b094bf"/><circle cx="388.5" cy="189.9" r="3.1" fill="#cb8eb2" stroke="#b37d9d"/><circle cx="398.5" cy="188.2" r="3.1" fill="#6c783d" stroke="#5f6a36"/><circle cx="406.0" cy="189.9" r="3.1" fill="#bd8080" stroke="#a67171"/><circle cx="414.4" cy="189.9" r="3.1" fill="#6c783d" stroke="#5f6a36"/><circle cx="423.6" cy="190.2" r="3.1" fill="#1c253d" stroke="#192136"/><circle cx="431.6" cy="190.7" r="3.1" fill="#1c253d" stroke="#192136"/><circle cx="440.3" cy="189.9" r="3.1" fill="#bd8080" stroke="#a67171"/><circle cx="451.2" cy="189.1" r="3.1" fill="#9a7a55" stroke="#886b4b"/><circle cx="460.4" cy="189.9" r="3.1" fill="#cb8eb2" stroke="#b37d9d"/><circle cx="467.1" cy="190.7" r="3.1" fill="#1c414a" stroke="#193941"/><circle cx="352.5" cy="198.3" r="3.1" fill="#41703b" stroke="#396334"/><circle cx="361.7" cy="196.6" r="3.1" fill="#bd8080" stroke="#a67171"/><circle cx="370.9" cy="197.9" r="3.1" fill="#c3c6eb" stroke="#acaecf"/><circle cx="380.1" cy="197.9" r="3.1" fill="#41703b" stroke="#396334"/><circle cx="387.6" cy="198.3" r="3.1" fill="#c3c6eb" stroke="#acaecf"/><circle cx="396.0" cy="199.9" r="3.1" fill="#c8a8d9" stroke="#b094bf"/><circle cx="406.0" cy="198.3" r="3.1" fill="#bd8080" stroke="#a67171"/><circle cx="416.1" cy="198.3" r="3.1" fill="#41703b" stroke="#396334"/><circle cx="423.6" cy="198.3" r="3.1" fill="#245c46" stroke="#20513e"/><circle cx="430.3" cy="199.1" r="3.1" fill="#41703b" stroke="#396334"/><circle cx="439.5" cy="198.6" r="3.1" fill="#9a7a55" stroke="#886b4b"/><circle cx="448.7" cy="197.9" r="3.1" fill="#c8a8d9" stroke="#b094bf"/><circle cx="457.1" cy="196.6" r="3.1" fill="#cb8eb2" stroke="#b37d9d"/><circle cx="465.4" cy="198.3" r="3.1" fill="#c8a8d9" stroke="#b094bf"/><circle cx="351.7" cy="205.8" r="3.1" fill="#245c46" stroke="#20513e"/><circle cx="360.0" cy="205.3" r="3.1" fill="#bd8080" stroke="#a67171"/><circle cx="368.4" cy="205.8" r="3.1" fill="#c8a8d9" stroke="#b094bf"/><circle cx="376.8" cy="206.3" r="3.1" fill="#c8a8d9" stroke="#b094bf"/><circle cx="386.0" cy="206.6" r="3.1" fill="#c8a8d9" stroke="#b094bf"/><circle cx="394.3" cy="209.1" r="3.1" fill="#9a7a55" stroke="#886b4b"/><circle cx="403.5" cy="206.6" r="3.1" fill="#1c414a" stroke="#193941"/><circle cx="411.6" cy="206.6" r="3.1" fill="#41703b" stroke="#396334"/><circle cx="421.9" cy="209.1" r="3.1" fill="#0a060e" stroke="#09050c"/><circle cx="430.3" cy="206.6" r="3.1" fill="#245c46" stroke="#20513e"/><circle cx="437.8" cy="208.6" r="3.1" fill="#9a7a55" stroke="#886b4b"/><circle cx="447.0" cy="206.6" r="3.1" fill="#c8a8d9" stroke="#b094bf"/><circle cx="456.2" cy="206.6" r="3.1" fill="#cb8eb2" stroke="#b37d9d"/><circle cx="465.4" cy="208.0" r="3.1" fill="#c8a8d9" stroke="#b094bf"/><circle cx="357.5" cy="214.2" r="3.1" fill="#6c783d" stroke="#5f6a36"/><circle cx="365.9" cy="215.0" r="3.1" fill="#0a060e" stroke="#09050c"/><circle cx="375.1" cy="215.0" r="3.1" fill="#bd8080" stroke="#a67171"/><circle cx="383.5" cy="214.7" r="3.1" fill="#cb8eb2" stroke="#b37d9d"/><circle cx="393.5" cy="215.8" r="3.1" fill="#245c46" stroke="#20513e"/><circle cx="402.7" cy="215.3" r="3.1" fill="#9a7a55" stroke="#886b4b"/><circle cx="411.1" cy="215.8" r="3.1" fill="#1c253d" stroke="#192136"/><circle cx="418.6" cy="215.8" r="3.1" fill="#cb8eb2" stroke="#b37d9d"/><circle cx="428.6" cy="215.8" r="3.1" fill="#c8a8d9" stroke="#b094bf"/><circle cx="437.8" cy="216.3" r="3.1" fill="#c8a8d9" stroke="#b094bf"/><circle cx="447.0" cy="215.8" r="3.1" fill="#c3c6eb" stroke="#acaecf"/><circle cx="456.2" cy="215.8" r="3.1" fill="#bd8080" stroke="#a67171"/><circle cx="479.2" cy="128.8" r="3.1" fill="#c8a8d9" stroke="#b094bf"/><circle cx="470.8" cy="136.4" r="3.1" fill="#cb8eb2" stroke="#b37d9d"/><circle cx="478.4" cy="135.5" r="3.1" fill="#e1f3ef" stroke="#c6d6d2"/><circle cx="486.7" cy="135.0" r="3.1" fill="#9a7a55" stroke="#886b4b"/><circle cx="493.4" cy="133.9" r="3.1" fill="#245c46" stroke="#20513e"/><circle cx="517.2" cy="134.7" r="3.1" fill="#245c46" stroke="#20513e"/><circle cx="522.7" cy="130.5" r="3.1" fill="#c8a8d9" stroke="#b094bf"/><circle cx="524.4" cy="137.2" r="3.1" fill="#c8a8d9" stroke="#b094bf"/><circle cx="529.4" cy="139.7" r="3.1" fill="#bd8080" stroke="#a67171"/><circle cx="531.9" cy="131.3" r="3.1" fill="#41703b" stroke="#396334"/><circle cx="536.9" cy="137.2" r="3.1" fill="#c8a8d9" stroke="#b094bf"/><circle cx="571.2" cy="133.0" r="3.1" fill="#41703b" stroke="#396334"/><circle cx="584.6" cy="131.7" r="3.1" fill="#1c253d" stroke="#192136"/><circle cx="475.0" cy="143.9" r="3.1" fill="#9a7a55" stroke="#886b4b"/><circle cx="485.9" cy="144.7" r="3.1" fill="#cb8eb2" stroke="#b37d9d"/><circle cx="494.3" cy="145.6" r="3.1" fill="#9a7a55" stroke="#886b4b"/><circle cx="518.5" cy="141.4" r="3.1" fill="#bd8080" stroke="#a67171"/><circle cx="526.9" cy="148.9" r="3.1" fill="#bd8080" stroke="#a67171"/><circle cx="534.4" cy="144.7" r="3.1" fill="#41703b" stroke="#396334"/><circle cx="543.6" cy="147.2" r="3.1" fill="#9a7a55" stroke="#886b4b"/><circle cx="562.8" cy="146.4" r="3.1" fill="#41703b" stroke="#396334"/><circle cx="570.0" cy="141.4" r="3.1" fill="#0a060e" stroke="#09050c"/><circle cx="576.7" cy="143.9" r="3.1" fill="#bd8080" stroke="#a67171"/><circle cx="587.1" cy="148.9" r="3.1" fill="#0a060e" stroke="#09050c"/><circle cx="473.3" cy="152.3" r="3.1" fill="#c3c6eb" stroke="#acaecf"/><circle cx="482.5" cy="153.9" r="3.1" fill="#6c783d" stroke="#5f6a36"/><circle cx="490.9" cy="153.1" r="3.1" fill="#6c783d" stroke="#5f6a36"/><circle cx="513.8" cy="149.7" r="3.1" fill="#41703b" stroke="#396334"/><circle cx="521.0" cy="150.1" r="3.1" fill="#41703b" stroke="#396334"/><circle cx="511.8" cy="158.1" r="3.1" fill="#cb8eb2" stroke="#b37d9d"/><circle cx="516.5" cy="158.9" r="3.1" fill="#cb8eb2" stroke="#b37d9d"/><circle cx="524.9" cy="158.9" r="3.1" fill="#bd8080" stroke="#a67171"/><circle cx="535.6" cy="157.3" r="3.1" fill="#41703b" stroke="#396334"/><circle cx="541.9" cy="155.6" r="3.1" fill="#41703b" stroke="#396334"/><circle cx="568.7" cy="153.1" r="3.1" fill="#cb8eb2" stroke="#b37d9d"/><circle cx="587.1" cy="158.1" r="3.1" fill="#0a060e" stroke="#09050c"/><circle cx="472.5" cy="162.3" r="3.1" fill="#1c414a" stroke="#193941"/><circle cx="480.9" cy="162.3" r="3.1" fill="#c8a8d9" stroke="#b094bf"/><circle cx="488.4" cy="160.6" r="3.1" fill="#9a7a55" stroke="#886b4b"/><circle cx="532.7" cy="164.8" r="3.1" fill="#bd8080" stroke="#a67171"/><circle cx="539.9" cy="164.0" r="3.1" fill="#41703b" stroke="#396334"/><circle cx="547.8" cy="163.1" r="3.1" fill="#1c253d" stroke="#192136"/><circle cx="559.5" cy="162.3" r="3.1" fill="#9a7a55" stroke="#886b4b"/><circle cx="567.4" cy="160.6" r="3.1" fill="#41703b" stroke="#396334"/><circle cx="517.2" cy="168.1" r="3.1" fill="#6c783d" stroke="#5f6a36"/><circle cx="524.4" cy="168.1" r="3.1" fill="#bd8080" stroke="#a67171"/><circle cx="537.8" cy="170.7" r="3.1" fill="#bd8080" stroke="#a67171"/><circle cx="547.8" cy="172.8" r="3.1" fill="#41703b" stroke="#396334"/><circle cx="572.9" cy="170.7" r="3.1" fill="#9a7a55" stroke="#886b4b"/><circle cx="582.1" cy="165.6" r="3.1" fill="#245c46" stroke="#20513e"/><circle cx="471.7" cy="169.0" r="3.1" fill="#bd8080" stroke="#a67171"/><circle cx="480.0" cy="169.8" r="3.1" fill="#6c783d" stroke="#5f6a36"/><circle cx="490.1" cy="169.8" r="3.1" fill="#9a7a55" stroke="#886b4b"/><circle cx="476.7" cy="181.5" r="3.1" fill="#9a7a55" stroke="#886b4b"/><circle cx="486.7" cy="178.2" r="3.1" fill="#9a7a55" stroke="#886b4b"/><circle cx="495.1" cy="178.2" r="3.1" fill="#c8a8d9" stroke="#b094bf"/><circle cx="512.7" cy="177.3" r="3.1" fill="#9a7a55" stroke="#886b4b"/><circle cx="523.2" cy="177.3" r="3.1" fill="#9a7a55" stroke="#886b4b"/><circle cx="531.1" cy="176.8" r="3.1" fill="#9a7a55" stroke="#886b4b"/><circle cx="562.8" cy="177.9" r="3.1" fill="#9a7a55" stroke="#886b4b"/><circle cx="570.4" cy="178.2" r="3.1" fill="#41703b" stroke="#396334"/><circle cx="581.2" cy="175.7" r="3.1" fill="#41703b" stroke="#396334"/><circle cx="476.7" cy="188.2" r="3.1" fill="#245c46" stroke="#20513e"/><circle cx="485.1" cy="188.2" r="3.1" fill="#1c414a" stroke="#193941"/><circle cx="494.8" cy="188.2" r="3.1" fill="#1c414a" stroke="#193941"/><circle cx="502.6" cy="187.4" r="3.1" fill="#9a7a55" stroke="#886b4b"/><circle cx="511.0" cy="186.6" r="3.1" fill="#c8a8d9" stroke="#b094bf"/><circle cx="519.3" cy="186.6" r="3.1" fill="#c8a8d9" stroke="#b094bf"/><circle cx="526.9" cy="192.4" r="3.1" fill="#9a7a55" stroke="#886b4b"/><circle cx="535.2" cy="190.7" r="3.1" fill="#0a060e" stroke="#09050c"/><circle cx="546.1" cy="191.6" r="3.1" fill="#bd8080" stroke="#a67171"/><circle cx="536.9" cy="182.4" r="3.1" fill="#cb8eb2" stroke="#b37d9d"/><circle cx="546.1" cy="182.4" r="3.1" fill="#bd8080" stroke="#a67171"/><circle cx="555.3" cy="182.4" r="3.1" fill="#41703b" stroke="#396334"/><circle cx="553.6" cy="188.2" r="3.1" fill="#41703b" stroke="#396334"/><circle cx="562.0" cy="189.1" r="3.1" fill="#41703b" stroke="#396334"/><circle cx="570.4" cy="187.4" r="3.1" fill="#9a7a55" stroke="#886b4b"/><circle cx="579.6" cy="183.2" r="3.1" fill="#9a7a55" stroke="#886b4b"/><circle cx="587.1" cy="186.6" r="3.1" fill="#9a7a55" stroke="#886b4b"/><circle cx="473.3" cy="196.6" r="3.1" fill="#bd8080" stroke="#a67171"/><circle cx="482.5" cy="194.9" r="3.1" fill="#41703b" stroke="#396334"/><circle cx="493.4" cy="196.6" r="3.1" fill="#1c414a" stroke="#193941"/><circle cx="500.9" cy="195.8" r="3.1" fill="#1c414a" stroke="#193941"/><circle cx="509.3" cy="194.1" r="3.1" fill="#1c414a" stroke="#193941"/><circle cx="483.4" cy="199.9" r="3.1" fill="#245c46" stroke="#20513e"/><circle cx="505.1" cy="201.6" r="3.1" fill="#41703b" stroke="#396334"/><circle cx="515.2" cy="202.4" r="3.1" fill="#6c783d" stroke="#5f6a36"/><circle cx="525.2" cy="201.6" r="3.1" fill="#6c783d" stroke="#5f6a36"/><circle cx="535.2" cy="200.8" r="3.1" fill="#bd8080" stroke="#a67171"/><circle cx="542.8" cy="200.8" r="3.1" fill="#41703b" stroke="#396334"/><circle cx="553.6" cy="199.1" r="3.1" fill="#0a060e" stroke="#09050c"/><circle cx="560.3" cy="198.3" r="3.1" fill="#bd8080" stroke="#a67171"/><circle cx="568.7" cy="194.9" r="3.1" fill="#41703b" stroke="#396334"/><circle cx="577.1" cy="195.8" r="3.1" fill="#9a7a55" stroke="#886b4b"/><circle cx="547.0" cy="198.3" r="3.1" fill="#c8a8d9" stroke="#b094bf"/><circle cx="474.2" cy="206.6" r="3.1" fill="#c8a8d9" stroke="#b094bf"/><circle cx="482.5" cy="205.0" r="3.1" fill="#1c253d" stroke="#192136"/><circle cx="490.1" cy="205.8" r="3.1" fill="#6c783d" stroke="#5f6a36"/><circle cx="498.4" cy="204.1" r="3.1" fill="#41703b" stroke="#396334"/><circle cx="508.5" cy="210.0" r="3.1" fill="#cb8eb2" stroke="#b37d9d"/><circle cx="515.2" cy="211.6" r="3.1" fill="#245c46" stroke="#20513e"/><circle cx="523.5" cy="212.5" r="3.1" fill="#6c783d" stroke="#5f6a36"/><circle cx="533.6" cy="210.0" r="3.1" fill="#cb8eb2" stroke="#b37d9d"/><circle cx="541.9" cy="208.3" r="3.1" fill="#0a060e" stroke="#09050c"/><circle cx="549.5" cy="209.1" r="3.1" fill="#cb8eb2" stroke="#b37d9d"/><circle cx="559.5" cy="205.8" r="3.1" fill="#9a7a55" stroke="#886b4b"/><circle cx="567.9" cy="205.8" r="3.1" fill="#bd8080" stroke="#a67171"/><circle cx="576.2" cy="205.0" r="3.1" fill="#9a7a55" stroke="#886b4b"/><circle cx="585.4" cy="206.6" r="3.1" fill="#6c783d" stroke="#5f6a36"/><circle cx="480.0" cy="213.3" r="3.1" fill="#1c253d" stroke="#192136"/><circle cx="489.2" cy="214.2" r="3.1" fill="#c8a8d9" stroke="#b094bf"/><circle cx="560.3" cy="215.0" r="3.1" fill="#9a7a55" stroke="#886b4b"/><circle cx="569.5" cy="215.0" r="3.1" fill="#41703b" stroke="#396334"/><circle cx="578.7" cy="213.3" r="3.1" fill="#6c783d" stroke="#5f6a36"/><circle cx="587.1" cy="215.0" r="3.1" fill="#245c46" stroke="#20513e"/><circle cx="548.6" cy="215.0" r="3.1" fill="#41703b" stroke="#396334"/><circle cx="594.2" cy="134.7" r="3.1" fill="#1c253d" stroke="#192136"/><circle cx="598.4" cy="129.7" r="3.1" fill="#1c253d" stroke="#192136"/><circle cx="608.4" cy="128.8" r="3.1" fill="#6c783d" stroke="#5f6a36"/><circle cx="615.9" cy="128.8" r="3.1" fill="#1c253d" stroke="#192136"/><circle cx="615.1" cy="134.7" r="3.1" fill="#1c414a" stroke="#193941"/><circle cx="622.6" cy="136.4" r="3.1" fill="#41703b" stroke="#396334"/><circle cx="627.6" cy="138.9" r="3.1" fill="#1c253d" stroke="#192136"/><circle cx="633.2" cy="133.0" r="3.1" fill="#1c253d" stroke="#192136"/><circle cx="639.3" cy="130.5" r="3.1" fill="#cb8eb2" stroke="#b37d9d"/><circle cx="639.3" cy="139.7" r="3.1" fill="#1c414a" stroke="#193941"/><circle cx="647.7" cy="135.5" r="3.1" fill="#41703b" stroke="#396334"/><circle cx="655.2" cy="134.7" r="3.1" fill="#41703b" stroke="#396334"/><circle cx="661.9" cy="133.0" r="3.1" fill="#6c783d" stroke="#5f6a36"/><circle cx="595.9" cy="148.1" r="3.1" fill="#9a7a55" stroke="#886b4b"/><circle cx="605.1" cy="147.2" r="3.1" fill="#41703b" stroke="#396334"/><circle cx="612.6" cy="143.1" r="3.1" fill="#6c783d" stroke="#5f6a36"/><circle cx="620.1" cy="141.4" r="3.1" fill="#245c46" stroke="#20513e"/><circle cx="627.6" cy="149.4" r="3.1" fill="#41703b" stroke="#396334"/><circle cx="636.0" cy="149.4" r="3.1" fill="#6c783d" stroke="#5f6a36"/><circle cx="644.4" cy="146.4" r="3.1" fill="#245c46" stroke="#20513e"/><circle cx="652.7" cy="143.9" r="3.1" fill="#1c414a" stroke="#193941"/><circle cx="660.3" cy="141.7" r="3.1" fill="#9a7a55" stroke="#886b4b"/><circle cx="650.2" cy="149.7" r="3.1" fill="#41703b" stroke="#396334"/><circle cx="668.6" cy="151.4" r="3.1" fill="#cb8eb2" stroke="#b37d9d"/><circle cx="677.0" cy="146.4" r="3.1" fill="#c3c6eb" stroke="#acaecf"/><circle cx="594.2" cy="155.6" r="3.1" fill="#9a7a55" stroke="#886b4b"/><circle cx="601.7" cy="154.8" r="3.1" fill="#245c46" stroke="#20513e"/><circle cx="610.1" cy="153.1" r="3.1" fill="#9a7a55" stroke="#886b4b"/><circle cx="618.4" cy="151.4" r="3.1" fill="#41703b" stroke="#396334"/><circle cx="626.8" cy="157.3" r="3.1" fill="#0a060e" stroke="#09050c"/><circle cx="635.2" cy="158.4" r="3.1" fill="#9a7a55" stroke="#886b4b"/><circle cx="641.0" cy="153.4" r="3.1" fill="#245c46" stroke="#20513e"/><circle cx="649.9" cy="162.3" r="3.1" fill="#cb8eb2" stroke="#b37d9d"/><circle cx="658.6" cy="160.6" r="3.1" fill="#245c46" stroke="#20513e"/><circle cx="663.6" cy="156.4" r="3.1" fill="#bd8080" stroke="#a67171"/><circle cx="678.7" cy="157.8" r="3.1" fill="#9a7a55" stroke="#886b4b"/><circle cx="591.7" cy="164.0" r="3.1" fill="#245c46" stroke="#20513e"/><circle cx="600.9" cy="163.1" r="3.1" fill="#6c783d" stroke="#5f6a36"/><circle cx="609.2" cy="164.0" r="3.1" fill="#41703b" stroke="#396334"/><circle cx="616.8" cy="159.4" r="3.1" fill="#1c414a" stroke="#193941"/><circle cx="624.3" cy="166.5" r="3.1" fill="#1c253d" stroke="#192136"/><circle cx="632.7" cy="168.1" r="3.1" fill="#245c46" stroke="#20513e"/><circle cx="641.0" cy="166.5" r="3.1" fill="#9a7a55" stroke="#886b4b"/><circle cx="590.0" cy="174.8" r="3.1" fill="#0a060e" stroke="#09050c"/><circle cx="596.7" cy="173.2" r="3.1" fill="#1c414a" stroke="#193941"/><circle cx="607.6" cy="173.2" r="3.1" fill="#1c253d" stroke="#192136"/><circle cx="614.3" cy="171.5" r="3.1" fill="#245c46" stroke="#20513e"/><circle cx="622.6" cy="176.5" r="3.1" fill="#6c783d" stroke="#5f6a36"/><circle cx="630.1" cy="175.7" r="3.1" fill="#245c46" stroke="#20513e"/><circle cx="637.7" cy="174.8" r="3.1" fill="#9a7a55" stroke="#886b4b"/><circle cx="596.7" cy="181.9" r="3.1" fill="#bd8080" stroke="#a67171"/><circle cx="605.1" cy="182.4" r="3.1" fill="#1c414a" stroke="#193941"/><circle cx="613.4" cy="179.0" r="3.1" fill="#6c783d" stroke="#5f6a36"/><circle cx="620.9" cy="185.7" r="3.1" fill="#41703b" stroke="#396334"/><circle cx="628.5" cy="184.0" r="3.1" fill="#9a7a55" stroke="#886b4b"/><circle cx="637.7" cy="184.9" r="3.1" fill="#6c783d" stroke="#5f6a36"/><circle cx="595.0" cy="190.7" r="3.1" fill="#9a7a55" stroke="#886b4b"/><circle cx="605.1" cy="189.9" r="3.1" fill="#41703b" stroke="#396334"/><circle cx="613.4" cy="189.6" r="3.1" fill="#41703b" stroke="#396334"/><circle cx="626.8" cy="191.2" r="3.1" fill="#0a060e" stroke="#09050c"/><circle cx="636.0" cy="191.6" r="3.1" fill="#c8a8d9" stroke="#b094bf"/><circle cx="619.3" cy="195.8" r="3.1" fill="#245c46" stroke="#20513e"/><circle cx="603.4" cy="200.8" r="3.1" fill="#1c253d" stroke="#192136"/><circle cx="610.9" cy="199.1" r="3.1" fill="#1c414a" stroke="#193941"/><circle cx="606.7" cy="206.6" r="3.1" fill="#1c253d" stroke="#192136"/><circle cx="600.0" cy="207.5" r="3.1" fill="#41703b" stroke="#396334"/><circle cx="618.4" cy="206.6" r="3.1" fill="#cb8eb2" stroke="#b37d9d"/><circle cx="629.3" cy="205.0" r="3.1" fill="#c8a8d9" stroke="#b094bf"/><circle cx="592.5" cy="210.0" r="3.1" fill="#41703b" stroke="#396334"/><circle cx="601.7" cy="215.0" r="3.1" fill="#245c46" stroke="#20513e"/><circle cx="608.4" cy="215.0" r="3.1" fill="#41703b" stroke="#396334"/><circle cx="625.1" cy="213.3" r="3.1" fill="#c8a8d9" stroke="#b094bf"/><circle cx="130.1" cy="220.5" r="3.1" fill="#c8a8d9" stroke="#b094bf"/><circle cx="132.6" cy="229.7" r="3.1" fill="#c8a8d9" stroke="#b094bf"/><circle cx="143.5" cy="223.0" r="3.1" fill="#c3c6eb" stroke="#acaecf"/><circle cx="152.7" cy="225.5" r="3.1" fill="#cb8eb2" stroke="#b37d9d"/><circle cx="156.5" cy="221.3" r="3.1" fill="#9a7a55" stroke="#886b4b"/><circle cx="165.2" cy="227.2" r="3.1" fill="#e1f3ef" stroke="#c6d6d2"/><circle cx="174.4" cy="222.2" r="3.1" fill="#cb8eb2" stroke="#b37d9d"/><circle cx="178.6" cy="230.5" r="3.1" fill="#c3c6eb" stroke="#acaecf"/><circle cx="194.5" cy="218.8" r="3.1" fill="#cb8eb2" stroke="#b37d9d"/><circle cx="202.8" cy="219.7" r="3.1" fill="#c3c6eb" stroke="#acaecf"/><circle cx="199.5" cy="223.9" r="3.1" fill="#c3c6eb" stroke="#acaecf"/><circle cx="218.7" cy="222.2" r="3.1" fill="#c8a8d9" stroke="#b094bf"/><circle cx="227.1" cy="221.3" r="3.1" fill="#c8a8d9" stroke="#b094bf"/><circle cx="140.1" cy="236.4" r="3.1" fill="#c3c6eb" stroke="#acaecf"/><circle cx="144.3" cy="229.7" r="3.1" fill="#c3c6eb" stroke="#acaecf"/><circle cx="152.7" cy="232.7" r="3.1" fill="#cb8eb2" stroke="#b37d9d"/><circle cx="159.3" cy="236.7" r="3.1" fill="#c8a8d9" stroke="#b094bf"/><circle cx="171.1" cy="233.9" r="3.1" fill="#cb8eb2" stroke="#b37d9d"/><circle cx="183.6" cy="239.7" r="3.1" fill="#c8a8d9" stroke="#b094bf"/><circle cx="186.1" cy="231.4" r="3.1" fill="#cb8eb2" stroke="#b37d9d"/><circle cx="195.0" cy="234.7" r="3.1" fill="#c8a8d9" stroke="#b094bf"/><circle cx="203.7" cy="236.4" r="3.1" fill="#245c46" stroke="#20513e"/><circle cx="211.2" cy="238.1" r="3.1" fill="#9a7a55" stroke="#886b4b"/><circle cx="219.6" cy="239.7" r="3.1" fill="#e1f3ef" stroke="#c6d6d2"/><circle cx="227.1" cy="241.4" r="3.1" fill="#c8a8d9" stroke="#b094bf"/><circle cx="202.0" cy="231.4" r="3.1" fill="#c3c6eb" stroke="#acaecf"/><circle cx="217.1" cy="230.5" r="3.1" fill="#c8a8d9" stroke="#b094bf"/><circle cx="132.6" cy="244.8" r="3.1" fill="#6c783d" stroke="#5f6a36"/><circle cx="140.9" cy="243.1" r="3.1" fill="#c8a8d9" stroke="#b094bf"/><circle cx="152.7" cy="243.1" r="3.1" fill="#bd8080" stroke="#a67171"/><circle cx="166.9" cy="241.4" r="3.1" fill="#245c46" stroke="#20513e"/><circle cx="176.1" cy="246.1" r="3.1" fill="#1c414a" stroke="#193941"/><circle cx="161.5" cy="248.9" r="3.1" fill="#1c414a" stroke="#193941"/><circle cx="151.8" cy="250.1" r="3.1" fill="#6c783d" stroke="#5f6a36"/><circle cx="171.9" cy="251.5" r="3.1" fill="#6c783d" stroke="#5f6a36"/><circle cx="192.8" cy="242.3" r="3.1" fill="#9a7a55" stroke="#886b4b"/><circle cx="198.7" cy="244.8" r="3.1" fill="#1c414a" stroke="#193941"/><circle cx="208.7" cy="245.6" r="3.1" fill="#6c783d" stroke="#5f6a36"/><circle cx="217.9" cy="250.6" r="3.1" fill="#1c414a" stroke="#193941"/><circle cx="227.9" cy="249.8" r="3.1" fill="#9a7a55" stroke="#886b4b"/><circle cx="140.9" cy="248.9" r="3.1" fill="#1c253d" stroke="#192136"/><circle cx="140.1" cy="255.6" r="3.1" fill="#6c783d" stroke="#5f6a36"/><circle cx="146.8" cy="256.5" r="3.1" fill="#c8a8d9" stroke="#b094bf"/><circle cx="155.2" cy="256.1" r="3.1" fill="#cb8eb2" stroke="#b37d9d"/><circle cx="162.7" cy="258.1" r="3.1" fill="#c3c6eb" stroke="#acaecf"/><circle cx="166.9" cy="254.0" r="3.1" fill="#245c46" stroke="#20513e"/><circle cx="171.1" cy="259.8" r="3.1" fill="#cb8eb2" stroke="#b37d9d"/><circle cx="179.4" cy="254.0" r="3.1" fill="#e1f3ef" stroke="#c6d6d2"/><circle cx="187.0" cy="256.5" r="3.1" fill="#bd8080" stroke="#a67171"/><circle cx="197.8" cy="259.0" r="3.1" fill="#1c414a" stroke="#193941"/><circle cx="207.9" cy="256.5" r="3.1" fill="#9a7a55" stroke="#886b4b"/><circle cx="217.1" cy="257.3" r="3.1" fill="#c3c6eb" stroke="#acaecf"/><circle cx="225.4" cy="258.1" r="3.1" fill="#c8a8d9" stroke="#b094bf"/><circle cx="138.4" cy="266.5" r="3.1" fill="#245c46" stroke="#20513e"/><circle cx="152.7" cy="265.7" r="3.1" fill="#c8a8d9" stroke="#b094bf"/><circle cx="166.0" cy="268.2" r="3.1" fill="#c8a8d9" stroke="#b094bf"/><circle cx="174.4" cy="269.9" r="3.1" fill="#9a7a55" stroke="#886b4b"/><circle cx="181.1" cy="266.5" r="3.1" fill="#e1f3ef" stroke="#c6d6d2"/><circle cx="191.1" cy="266.5" r="3.1" fill="#1c253d" stroke="#192136"/><circle cx="202.0" cy="266.5" r="3.1" fill="#0a060e" stroke="#09050c"/><circle cx="207.0" cy="263.2" r="3.1" fill="#9a7a55" stroke="#886b4b"/><circle cx="217.1" cy="267.3" r="3.1" fill="#bd8080" stroke="#a67171"/><circle cx="224.6" cy="268.2" r="3.1" fill="#41703b" stroke="#396334"/><circle cx="148.5" cy="272.9" r="3.1" fill="#1c253d" stroke="#192136"/><circle cx="197.0" cy="273.2" r="3.1" fill="#c3c6eb" stroke="#acaecf"/><circle cx="204.5" cy="274.0" r="3.1" fill="#1c414a" stroke="#193941"/><circle cx="214.6" cy="274.0" r="3.1" fill="#c8a8d9" stroke="#b094bf"/><circle cx="222.1" cy="275.7" r="3.1" fill="#6c783d" stroke="#5f6a36"/><circle cx="187.0" cy="273.2" r="3.1" fill="#e1f3ef" stroke="#c6d6d2"/><circle cx="164.4" cy="278.2" r="3.1" fill="#1c253d" stroke="#192136"/><circle cx="172.7" cy="279.6" r="3.1" fill="#6c783d" stroke="#5f6a36"/><circle cx="180.3" cy="280.7" r="3.1" fill="#c3c6eb" stroke="#acaecf"/><circle cx="212.0" cy="282.4" r="3.1" fill="#6c783d" stroke="#5f6a36"/><circle cx="222.1" cy="284.9" r="3.1" fill="#bd8080" stroke="#a67171"/><circle cx="202.8" cy="288.3" r="3.1" fill="#c3c6eb" stroke="#acaecf"/><circle cx="192.8" cy="289.9" r="3.1" fill="#bd8080" stroke="#a67171"/><circle cx="220.4" cy="293.3" r="3.1" fill="#c8a8d9" stroke="#b094bf"/><circle cx="225.4" cy="295.8" r="3.1" fill="#bd8080" stroke="#a67171"/><circle cx="212.0" cy="300.8" r="3.1" fill="#c8a8d9" stroke="#b094bf"/><circle cx="227.1" cy="304.2" r="3.1" fill="#c3c6eb" stroke="#acaecf"/><circle cx="233.3" cy="218.8" r="3.1" fill="#c8a8d9" stroke="#b094bf"/><circle cx="240.0" cy="225.5" r="3.1" fill="#c8a8d9" stroke="#b094bf"/><circle cx="248.4" cy="228.4" r="3.1" fill="#41703b" stroke="#396334"/><circle cx="257.6" cy="228.9" r="3.1" fill="#245c46" stroke="#20513e"/><circle cx="250.9" cy="218.8" r="3.1" fill="#bd8080" stroke="#a67171"/><circle cx="259.3" cy="219.7" r="3.1" fill="#41703b" stroke="#396334"/><circle cx="266.0" cy="222.2" r="3.1" fill="#bd8080" stroke="#a67171"/><circle cx="276.0" cy="224.7" r="3.1" fill="#9a7a55" stroke="#886b4b"/><circle cx="275.2" cy="229.7" r="3.1" fill="#1c253d" stroke="#192136"/><circle cx="281.9" cy="233.1" r="3.1" fill="#9a7a55" stroke="#886b4b"/><circle cx="285.2" cy="223.0" r="3.1" fill="#c8a8d9" stroke="#b094bf"/><circle cx="293.6" cy="226.4" r="3.1" fill="#c3c6eb" stroke="#acaecf"/><circle cx="286.0" cy="218.8" r="3.1" fill="#cb8eb2" stroke="#b37d9d"/><circle cx="293.6" cy="218.8" r="3.1" fill="#c8a8d9" stroke="#b094bf"/><circle cx="302.8" cy="228.0" r="3.1" fill="#c8a8d9" stroke="#b094bf"/><circle cx="312.0" cy="228.9" r="3.1" fill="#1c253d" stroke="#192136"/><circle cx="321.2" cy="220.5" r="3.1" fill="#c3c6eb" stroke="#acaecf"/><circle cx="321.2" cy="231.0" r="3.1" fill="#c8a8d9" stroke="#b094bf"/><circle cx="329.5" cy="220.5" r="3.1" fill="#9a7a55" stroke="#886b4b"/><circle cx="339.6" cy="220.5" r="3.1" fill="#9a7a55" stroke="#886b4b"/><circle cx="330.4" cy="229.7" r="3.1" fill="#bd8080" stroke="#a67171"/><circle cx="337.1" cy="230.5" r="3.1" fill="#9a7a55" stroke="#886b4b"/><circle cx="347.1" cy="229.7" r="3.1" fill="#9a7a55" stroke="#886b4b"/><circle cx="232.5" cy="230.5" r="3.1" fill="#cb8eb2" stroke="#b37d9d"/><circle cx="239.2" cy="235.6" r="3.1" fill="#0a060e" stroke="#09050c"/><circle cx="247.6" cy="241.4" r="3.1" fill="#c3c6eb" stroke="#acaecf"/><circle cx="256.8" cy="236.7" r="3.1" fill="#41703b" stroke="#396334"/><circle cx="266.8" cy="231.0" r="3.1" fill="#9a7a55" stroke="#886b4b"/><circle cx="291.1" cy="233.9" r="3.1" fill="#c8a8d9" stroke="#b094bf"/><circle cx="300.3" cy="234.7" r="3.1" fill="#cb8eb2" stroke="#b37d9d"/><circle cx="307.0" cy="234.7" r="3.1" fill="#245c46" stroke="#20513e"/><circle cx="309.5" cy="236.7" r="3.1" fill="#0a060e" stroke="#09050c"/><circle cx="317.8" cy="237.2" r="3.1" fill="#cb8eb2" stroke="#b37d9d"/><circle cx="327.9" cy="238.9" r="3.1" fill="#6c783d" stroke="#5f6a36"/><circle cx="334.6" cy="238.9" r="3.1" fill="#0a060e" stroke="#09050c"/><circle cx="345.4" cy="240.6" r="3.1" fill="#1c414a" stroke="#193941"/><circle cx="282.7" cy="243.1" r="3.1" fill="#9a7a55" stroke="#886b4b"/><circle cx="290.2" cy="243.1" r="3.1" fill="#cb8eb2" stroke="#b37d9d"/><circle cx="300.3" cy="243.9" r="3.1" fill="#c8a8d9" stroke="#b094bf"/><circle cx="312.0" cy="243.9" r="3.1" fill="#cb8eb2" stroke="#b37d9d"/><circle cx="318.7" cy="243.4" r="3.1" fill="#bd8080" stroke="#a67171"/><circle cx="326.2" cy="244.8" r="3.1" fill="#6c783d" stroke="#5f6a36"/><circle cx="336.2" cy="247.8" r="3.1" fill="#0a060e" stroke="#09050c"/><circle cx="343.8" cy="247.3" r="3.1" fill="#0a060e" stroke="#09050c"/><circle cx="230.8" cy="244.8" r="3.1" fill="#9a7a55" stroke="#886b4b"/><circle cx="240.9" cy="248.1" r="3.1" fill="#1c253d" stroke="#192136"/><circle cx="255.1" cy="246.8" r="3.1" fill="#c8a8d9" stroke="#b094bf"/><circle cx="270.1" cy="249.8" r="3.1" fill="#9a7a55" stroke="#886b4b"/><circle cx="280.2" cy="250.6" r="3.1" fill="#bd8080" stroke="#a67171"/><circle cx="289.4" cy="252.3" r="3.1" fill="#c3c6eb" stroke="#acaecf"/><circle cx="296.9" cy="254.0" r="3.1" fill="#c3c6eb" stroke="#acaecf"/><circle cx="306.6" cy="253.5" r="3.1" fill="#c3c6eb" stroke="#acaecf"/><circle cx="316.2" cy="255.6" r="3.1" fill="#cb8eb2" stroke="#b37d9d"/><circle cx="324.5" cy="255.6" r="3.1" fill="#cb8eb2" stroke="#b37d9d"/><circle cx="236.7" cy="255.6" r="3.1" fill="#6c783d" stroke="#5f6a36"/><circle cx="254.3" cy="256.5" r="3.1" fill="#c3c6eb" stroke="#acaecf"/><circle cx="263.5" cy="258.1" r="3.1" fill="#6c783d" stroke="#5f6a36"/><circle cx="270.1" cy="258.1" r="3.1" fill="#cb8eb2" stroke="#b37d9d"/><circle cx="280.2" cy="258.1" r="3.1" fill="#c3c6eb" stroke="#acaecf"/><circle cx="287.7" cy="259.0" r="3.1" fill="#c3c6eb" stroke="#acaecf"/><circle cx="296.1" cy="261.8" r="3.1" fill="#c8a8d9" stroke="#b094bf"/><circle cx="305.3" cy="263.5" r="3.1" fill="#cb8eb2" stroke="#b37d9d"/><circle cx="313.6" cy="262.3" r="3.1" fill="#bd8080" stroke="#a67171"/><circle cx="322.0" cy="264.0" r="3.1" fill="#1c414a" stroke="#193941"/><circle cx="333.7" cy="258.1" r="3.1" fill="#9a7a55" stroke="#886b4b"/><circle cx="341.2" cy="258.1" r="3.1" fill="#245c46" stroke="#20513e"/><circle cx="347.9" cy="264.8" r="3.1" fill="#0a060e" stroke="#09050c"/><circle cx="233.3" cy="261.8" r="3.1" fill="#9a7a55" stroke="#886b4b"/><circle cx="243.4" cy="263.2" r="3.1" fill="#c8a8d9" stroke="#b094bf"/><circle cx="255.1" cy="264.5" r="3.1" fill="#c3c6eb" stroke="#acaecf"/><circle cx="240.0" cy="271.5" r="3.1" fill="#c3c6eb" stroke="#acaecf"/><circle cx="250.9" cy="272.4" r="3.1" fill="#c8a8d9" stroke="#b094bf"/><circle cx="257.6" cy="274.9" r="3.1" fill="#9a7a55" stroke="#886b4b"/><circle cx="267.6" cy="266.5" r="3.1" fill="#c3c6eb" stroke="#acaecf"/><circle cx="277.7" cy="268.2" r="3.1" fill="#c3c6eb" stroke="#acaecf"/><circle cx="286.0" cy="269.9" r="3.1" fill="#c3c6eb" stroke="#acaecf"/><circle cx="294.4" cy="269.9" r="3.1" fill="#c8a8d9" stroke="#b094bf"/><circle cx="303.6" cy="271.2" r="3.1" fill="#c3c6eb" stroke="#acaecf"/><circle cx="313.6" cy="271.2" r="3.1" fill="#bd8080" stroke="#a67171"/><circle cx="321.7" cy="273.2" r="3.1" fill="#6c783d" stroke="#5f6a36"/><circle cx="333.7" cy="266.5" r="3.1" fill="#41703b" stroke="#396334"/><circle cx="340.1" cy="266.5" r="3.1" fill="#41703b" stroke="#396334"/><circle cx="348.8" cy="271.5" r="3.1" fill="#1c253d" stroke="#192136"/><circle cx="265.1" cy="274.9" r="3.1" fill="#cb8eb2" stroke="#b37d9d"/><circle cx="275.2" cy="276.9" r="3.1" fill="#c3c6eb" stroke="#acaecf"/><circle cx="284.4" cy="276.6" r="3.1" fill="#c8a8d9" stroke="#b094bf"/><circle cx="293.2" cy="277.4" r="3.1" fill="#c8a8d9" stroke="#b094bf"/><circle cx="301.9" cy="279.1" r="3.1" fill="#cb8eb2" stroke="#b37d9d"/><circle cx="311.1" cy="280.2" r="3.1" fill="#9a7a55" stroke="#886b4b"/><circle cx="320.3" cy="281.6" r="3.1" fill="#0a060e" stroke="#09050c"/><circle cx="330.4" cy="274.9" r="3.1" fill="#41703b" stroke="#396334"/><circle cx="337.9" cy="273.2" r="3.1" fill="#1c414a" stroke="#193941"/><circle cx="345.4" cy="275.7" r="3.1" fill="#245c46" stroke="#20513e"/><circle cx="231.7" cy="285.8" r="3.1" fill="#c8a8d9" stroke="#b094bf"/><circle cx="238.4" cy="282.4" r="3.1" fill="#0a060e" stroke="#09050c"/><circle cx="248.4" cy="282.4" r="3.1" fill="#c8a8d9" stroke="#b094bf"/><circle cx="256.8" cy="280.7" r="3.1" fill="#c8a8d9" stroke="#b094bf"/><circle cx="266.8" cy="284.1" r="3.1" fill="#bd8080" stroke="#a67171"/><circle cx="276.0" cy="282.4" r="3.1" fill="#c8a8d9" stroke="#b094bf"/><circle cx="283.5" cy="284.1" r="3.1" fill="#9a7a55" stroke="#886b4b"/><circle cx="292.7" cy="286.6" r="3.1" fill="#c3c6eb" stroke="#acaecf"/><circle cx="301.1" cy="288.3" r="3.1" fill="#c8a8d9" stroke="#b094bf"/><circle cx="309.5" cy="288.6" r="3.1" fill="#6c783d" stroke="#5f6a36"/><circle cx="319.5" cy="289.9" r="3.1" fill="#1c253d" stroke="#192136"/><circle cx="327.0" cy="290.8" r="3.1" fill="#245c46" stroke="#20513e"/><circle cx="333.7" cy="291.6" r="3.1" fill="#41703b" stroke="#396334"/><circle cx="341.2" cy="282.4" r="3.1" fill="#1c414a" stroke="#193941"/><circle cx="345.4" cy="284.9" r="3.1" fill="#6c783d" stroke="#5f6a36"/><circle cx="345.4" cy="292.4" r="3.1" fill="#1c414a" stroke="#193941"/><circle cx="240.9" cy="288.3" r="3.1" fill="#cb8eb2" stroke="#b37d9d"/><circle cx="255.1" cy="289.9" r="3.1" fill="#6c783d" stroke="#5f6a36"/><circle cx="236.7" cy="298.3" r="3.1" fill="#1c253d" stroke="#192136"/><circle cx="245.9" cy="298.3" r="3.1" fill="#6c783d" stroke="#5f6a36"/><circle cx="254.3" cy="297.5" r="3.1" fill="#bd8080" stroke="#a67171"/><circle cx="263.5" cy="294.1" r="3.1" fill="#c8a8d9" stroke="#b094bf"/><circle cx="274.3" cy="293.3" r="3.1" fill="#0a060e" stroke="#09050c"/><circle cx="281.9" cy="295.0" r="3.1" fill="#cb8eb2" stroke="#b37d9d"/><circle cx="290.2" cy="295.8" r="3.1" fill="#c3c6eb" stroke="#acaecf"/><circle cx="300.3" cy="296.6" r="3.1" fill="#c8a8d9" stroke="#b094bf"/><circle cx="308.6" cy="297.5" r="3.1" fill="#9a7a55" stroke="#886b4b"/><circle cx="317.0" cy="299.1" r="3.1" fill="#41703b" stroke="#396334"/><circle cx="325.4" cy="300.0" r="3.1" fill="#245c46" stroke="#20513e"/><circle cx="335.4" cy="300.0" r="3.1" fill="#41703b" stroke="#396334"/><circle cx="343.8" cy="300.8" r="3.1" fill="#1c414a" stroke="#193941"/><circle cx="242.5" cy="306.7" r="3.1" fill="#6c783d" stroke="#5f6a36"/><circle cx="271.0" cy="303.3" r="3.1" fill="#c8a8d9" stroke="#b094bf"/><circle cx="280.2" cy="304.2" r="3.1" fill="#e1f3ef" stroke="#c6d6d2"/><circle cx="288.6" cy="305.0" r="3.1" fill="#c3c6eb" stroke="#acaecf"/><circle cx="297.8" cy="304.2" r="3.1" fill="#1c253d" stroke="#192136"/><circle cx="307.8" cy="305.8" r="3.1" fill="#9a7a55" stroke="#886b4b"/><circle cx="317.0" cy="305.8" r="3.1" fill="#1c253d" stroke="#192136"/><circle cx="356.7" cy="223.9" r="3.1" fill="#0a060e" stroke="#09050c"/><circle cx="365.1" cy="223.0" r="3.1" fill="#c8a8d9" stroke="#b094bf"/><circle cx="370.9" cy="224.7" r="3.1" fill="#0a060e" stroke="#09050c"/><circle cx="374.8" cy="222.7" r="3.1" fill="#0a060e" stroke="#09050c"/><circle cx="383.5" cy="223.9" r="3.1" fill="#bd8080" stroke="#a67171"/><circle cx="391.0" cy="223.0" r="3.1" fill="#1c414a" stroke="#193941"/><circle cx="400.2" cy="224.7" r="3.1" fill="#6c783d" stroke="#5f6a36"/><circle cx="409.4" cy="225.5" r="3.1" fill="#bd8080" stroke="#a67171"/><circle cx="416.9" cy="224.7" r="3.1" fill="#cb8eb2" stroke="#b37d9d"/><circle cx="391.8" cy="218.8" r="3.1" fill="#41703b" stroke="#396334"/><circle cx="411.1" cy="218.8" r="3.1" fill="#1c253d" stroke="#192136"/><circle cx="437.0" cy="224.7" r="3.1" fill="#c8a8d9" stroke="#b094bf"/><circle cx="443.7" cy="223.0" r="3.1" fill="#cb8eb2" stroke="#b37d9d"/><circle cx="452.9" cy="223.9" r="3.1" fill="#cb8eb2" stroke="#b37d9d"/><circle cx="461.2" cy="223.9" r="3.1" fill="#9a7a55" stroke="#886b4b"/><circle cx="354.2" cy="229.7" r="3.1" fill="#1c253d" stroke="#192136"/><circle cx="364.2" cy="232.2" r="3.1" fill="#41703b" stroke="#396334"/><circle cx="371.7" cy="233.1" r="3.1" fill="#0a060e" stroke="#09050c"/><circle cx="380.9" cy="231.0" r="3.1" fill="#41703b" stroke="#396334"/><circle cx="389.3" cy="233.4" r="3.1" fill="#1c414a" stroke="#193941"/><circle cx="397.7" cy="233.9" r="3.1" fill="#bd8080" stroke="#a67171"/><circle cx="408.6" cy="233.4" r="3.1" fill="#1c414a" stroke="#193941"/><circle cx="416.1" cy="233.9" r="3.1" fill="#c3c6eb" stroke="#acaecf"/><circle cx="423.6" cy="233.4" r="3.1" fill="#c8a8d9" stroke="#b094bf"/><circle cx="433.6" cy="234.7" r="3.1" fill="#9a7a55" stroke="#886b4b"/><circle cx="442.8" cy="233.9" r="3.1" fill="#9a7a55" stroke="#886b4b"/><circle cx="452.0" cy="233.9" r="3.1" fill="#bd8080" stroke="#a67171"/><circle cx="460.4" cy="233.1" r="3.1" fill="#cb8eb2" stroke="#b37d9d"/><circle cx="467.1" cy="232.2" r="3.1" fill="#bd8080" stroke="#a67171"/><circle cx="354.2" cy="239.7" r="3.1" fill="#0a060e" stroke="#09050c"/><circle cx="361.7" cy="240.6" r="3.1" fill="#1c253d" stroke="#192136"/><circle cx="371.7" cy="241.4" r="3.1" fill="#0a060e" stroke="#09050c"/><circle cx="378.4" cy="241.4" r="3.1" fill="#1c414a" stroke="#193941"/><circle cx="388.5" cy="242.8" r="3.1" fill="#9a7a55" stroke="#886b4b"/><circle cx="398.5" cy="241.4" r="3.1" fill="#c8a8d9" stroke="#b094bf"/><circle cx="406.9" cy="242.3" r="3.1" fill="#41703b" stroke="#396334"/><circle cx="415.2" cy="241.4" r="3.1" fill="#41703b" stroke="#396334"/><circle cx="423.6" cy="242.3" r="3.1" fill="#c8a8d9" stroke="#b094bf"/><circle cx="433.6" cy="243.1" r="3.1" fill="#bd8080" stroke="#a67171"/><circle cx="440.3" cy="242.3" r="3.1" fill="#bd8080" stroke="#a67171"/><circle cx="449.5" cy="243.1" r="3.1" fill="#9a7a55" stroke="#886b4b"/><circle cx="457.9" cy="243.1" r="3.1" fill="#cb8eb2" stroke="#b37d9d"/><circle cx="467.1" cy="239.7" r="3.1" fill="#6c783d" stroke="#5f6a36"/><circle cx="351.7" cy="248.1" r="3.1" fill="#0a060e" stroke="#09050c"/><circle cx="360.0" cy="248.9" r="3.1" fill="#0a060e" stroke="#09050c"/><circle cx="370.1" cy="248.9" r="3.1" fill="#0a060e" stroke="#09050c"/><circle cx="377.6" cy="248.1" r="3.1" fill="#1c414a" stroke="#193941"/><circle cx="386.0" cy="249.4" r="3.1" fill="#41703b" stroke="#396334"/><circle cx="397.7" cy="251.5" r="3.1" fill="#0a060e" stroke="#09050c"/><circle cx="405.2" cy="253.1" r="3.1" fill="#6c783d" stroke="#5f6a36"/><circle cx="412.2" cy="251.1" r="3.1" fill="#1c414a" stroke="#193941"/><circle cx="421.9" cy="249.8" r="3.1" fill="#bd8080" stroke="#a67171"/><circle cx="430.3" cy="250.6" r="3.1" fill="#c8a8d9" stroke="#b094bf"/><circle cx="439.5" cy="251.5" r="3.1" fill="#cb8eb2" stroke="#b37d9d"/><circle cx="448.7" cy="249.8" r="3.1" fill="#9a7a55" stroke="#886b4b"/><circle cx="457.1" cy="250.1" r="3.1" fill="#cb8eb2" stroke="#b37d9d"/><circle cx="465.4" cy="250.6" r="3.1" fill="#245c46" stroke="#20513e"/><circle cx="351.7" cy="258.1" r="3.1" fill="#0a060e" stroke="#09050c"/><circle cx="358.4" cy="256.5" r="3.1" fill="#0a060e" stroke="#09050c"/><circle cx="368.4" cy="259.0" r="3.1" fill="#6c783d" stroke="#5f6a36"/><circle cx="376.8" cy="259.0" r="3.1" fill="#41703b" stroke="#396334"/><circle cx="386.0" cy="259.0" r="3.1" fill="#cb8eb2" stroke="#b37d9d"/><circle cx="393.5" cy="259.0" r="3.1" fill="#1c414a" stroke="#193941"/><circle cx="402.7" cy="259.8" r="3.1" fill="#9a7a55" stroke="#886b4b"/><circle cx="413.2" cy="260.2" r="3.1" fill="#41703b" stroke="#396334"/><circle cx="420.3" cy="259.8" r="3.1" fill="#245c46" stroke="#20513e"/><circle cx="429.5" cy="259.8" r="3.1" fill="#9a7a55" stroke="#886b4b"/><circle cx="438.7" cy="260.7" r="3.1" fill="#9a7a55" stroke="#886b4b"/><circle cx="446.2" cy="260.7" r="3.1" fill="#9a7a55" stroke="#886b4b"/><circle cx="455.4" cy="260.7" r="3.1" fill="#c8a8d9" stroke="#b094bf"/><circle cx="463.8" cy="259.8" r="3.1" fill="#41703b" stroke="#396334"/><circle cx="357.5" cy="266.5" r="3.1" fill="#6c783d" stroke="#5f6a36"/><circle cx="367.6" cy="267.3" r="3.1" fill="#1c414a" stroke="#193941"/><circle cx="375.9" cy="268.2" r="3.1" fill="#245c46" stroke="#20513e"/><circle cx="384.3" cy="267.3" r="3.1" fill="#245c46" stroke="#20513e"/><circle cx="393.5" cy="267.9" r="3.1" fill="#9a7a55" stroke="#886b4b"/><circle cx="401.0" cy="268.2" r="3.1" fill="#9a7a55" stroke="#886b4b"/><circle cx="411.1" cy="268.2" r="3.1" fill="#0a060e" stroke="#09050c"/><circle cx="420.3" cy="267.9" r="3.1" fill="#245c46" stroke="#20513e"/><circle cx="428.6" cy="268.2" r="3.1" fill="#bd8080" stroke="#a67171"/><circle cx="437.0" cy="268.2" r="3.1" fill="#bd8080" stroke="#a67171"/><circle cx="446.2" cy="268.2" r="3.1" fill="#bd8080" stroke="#a67171"/><circle cx="453.7" cy="268.2" r="3.1" fill="#bd8080" stroke="#a67171"/><circle cx="462.1" cy="267.3" r="3.1" fill="#245c46" stroke="#20513e"/><circle cx="358.4" cy="274.9" r="3.1" fill="#6c783d" stroke="#5f6a36"/><circle cx="365.9" cy="276.6" r="3.1" fill="#9a7a55" stroke="#886b4b"/><circle cx="373.4" cy="276.9" r="3.1" fill="#245c46" stroke="#20513e"/><circle cx="381.8" cy="276.6" r="3.1" fill="#1c414a" stroke="#193941"/><circle cx="390.1" cy="275.7" r="3.1" fill="#cb8eb2" stroke="#b37d9d"/><circle cx="400.2" cy="277.4" r="3.1" fill="#1c253d" stroke="#192136"/><circle cx="407.7" cy="277.4" r="3.1" fill="#41703b" stroke="#396334"/><circle cx="427.0" cy="278.2" r="3.1" fill="#c8a8d9" stroke="#b094bf"/><circle cx="435.3" cy="276.6" r="3.1" fill="#41703b" stroke="#396334"/><circle cx="443.7" cy="276.9" r="3.1" fill="#c8a8d9" stroke="#b094bf"/><circle cx="452.9" cy="276.9" r="3.1" fill="#c8a8d9" stroke="#b094bf"/><circle cx="461.2" cy="275.7" r="3.1" fill="#1c253d" stroke="#192136"/><circle cx="354.2" cy="284.9" r="3.1" fill="#41703b" stroke="#396334"/><circle cx="363.4" cy="283.2" r="3.1" fill="#6c783d" stroke="#5f6a36"/><circle cx="378.4" cy="282.4" r="3.1" fill="#6c783d" stroke="#5f6a36"/><circle cx="389.3" cy="284.9" r="3.1" fill="#1c414a" stroke="#193941"/><circle cx="398.5" cy="287.4" r="3.1" fill="#41703b" stroke="#396334"/><circle cx="406.0" cy="285.8" r="3.1" fill="#9a7a55" stroke="#886b4b"/><circle cx="416.9" cy="285.8" r="3.1" fill="#c8a8d9" stroke="#b094bf"/><circle cx="423.6" cy="284.9" r="3.1" fill="#bd8080" stroke="#a67171"/><circle cx="432.0" cy="285.8" r="3.1" fill="#bd8080" stroke="#a67171"/><circle cx="438.3" cy="285.8" r="3.1" fill="#bd8080" stroke="#a67171"/><circle cx="446.2" cy="286.6" r="3.1" fill="#1c414a" stroke="#193941"/><circle cx="450.4" cy="285.8" r="3.1" fill="#c3c6eb" stroke="#acaecf"/><circle cx="460.4" cy="284.9" r="3.1" fill="#9a7a55" stroke="#886b4b"/><circle cx="467.1" cy="284.9" r="3.1" fill="#c8a8d9" stroke="#b094bf"/><circle cx="352.5" cy="293.3" r="3.1" fill="#1c414a" stroke="#193941"/><circle cx="360.9" cy="292.4" r="3.1" fill="#245c46" stroke="#20513e"/><circle cx="370.1" cy="291.6" r="3.1" fill="#245c46" stroke="#20513e"/><circle cx="380.1" cy="293.3" r="3.1" fill="#bd8080" stroke="#a67171"/><circle cx="389.3" cy="294.1" r="3.1" fill="#0a060e" stroke="#09050c"/><circle cx="397.7" cy="295.0" r="3.1" fill="#6c783d" stroke="#5f6a36"/><circle cx="416.1" cy="294.1" r="3.1" fill="#c3c6eb" stroke="#acaecf"/><circle cx="426.1" cy="291.6" r="3.1" fill="#c8a8d9" stroke="#b094bf"/><circle cx="434.5" cy="294.1" r="3.1" fill="#c8a8d9" stroke="#b094bf"/><circle cx="442.0" cy="293.3" r="3.1" fill="#c8a8d9" stroke="#b094bf"/><circle cx="449.5" cy="295.0" r="3.1" fill="#c3c6eb" stroke="#acaecf"/><circle cx="458.7" cy="295.0" r="3.1" fill="#c8a8d9" stroke="#b094bf"/><circle cx="351.7" cy="300.8" r="3.1" fill="#1c253d" stroke="#192136"/><circle cx="361.7" cy="301.6" r="3.1" fill="#1c414a" stroke="#193941"/><circle cx="369.2" cy="301.6" r="3.1" fill="#0a060e" stroke="#09050c"/><circle cx="377.6" cy="301.6" r="3.1" fill="#245c46" stroke="#20513e"/><circle cx="387.6" cy="301.6" r="3.1" fill="#cb8eb2" stroke="#b37d9d"/><circle cx="395.2" cy="302.5" r="3.1" fill="#cb8eb2" stroke="#b37d9d"/><circle cx="405.2" cy="303.3" r="3.1" fill="#cb8eb2" stroke="#b37d9d"/><circle cx="415.2" cy="304.2" r="3.1" fill="#e1f3ef" stroke="#c6d6d2"/><circle cx="423.6" cy="304.2" r="3.1" fill="#e1f3ef" stroke="#c6d6d2"/><circle cx="440.3" cy="303.3" r="3.1" fill="#6c783d" stroke="#5f6a36"/><circle cx="448.7" cy="303.3" r="3.1" fill="#6c783d" stroke="#5f6a36"/><circle cx="457.1" cy="303.3" r="3.1" fill="#0a060e" stroke="#09050c"/><circle cx="480.0" cy="223.9" r="3.1" fill="#c8a8d9" stroke="#b094bf"/><circle cx="486.7" cy="223.9" r="3.1" fill="#cb8eb2" stroke="#b37d9d"/><circle cx="495.9" cy="223.0" r="3.1" fill="#1c414a" stroke="#193941"/><circle cx="505.1" cy="220.5" r="3.1" fill="#e1f3ef" stroke="#c6d6d2"/><circle cx="514.3" cy="220.5" r="3.1" fill="#1c414a" stroke="#193941"/><circle cx="521.9" cy="219.7" r="3.1" fill="#6c783d" stroke="#5f6a36"/><circle cx="530.2" cy="218.8" r="3.1" fill="#41703b" stroke="#396334"/><circle cx="539.4" cy="218.8" r="3.1" fill="#9a7a55" stroke="#886b4b"/><circle cx="556.2" cy="223.9" r="3.1" fill="#0a060e" stroke="#09050c"/><circle cx="563.7" cy="223.9" r="3.1" fill="#cb8eb2" stroke="#b37d9d"/><circle cx="572.0" cy="223.0" r="3.1" fill="#9a7a55" stroke="#886b4b"/><circle cx="581.2" cy="220.5" r="3.1" fill="#41703b" stroke="#396334"/><circle cx="529.4" cy="228.9" r="3.1" fill="#245c46" stroke="#20513e"/><circle cx="537.8" cy="228.0" r="3.1" fill="#1c253d" stroke="#192136"/><circle cx="546.1" cy="225.5" r="3.1" fill="#6c783d" stroke="#5f6a36"/><circle cx="514.3" cy="229.7" r="3.1" fill="#cb8eb2" stroke="#b37d9d"/><circle cx="572.0" cy="229.7" r="3.1" fill="#cb8eb2" stroke="#b37d9d"/><circle cx="579.6" cy="228.9" r="3.1" fill="#cb8eb2" stroke="#b37d9d"/><circle cx="477.5" cy="233.1" r="3.1" fill="#bd8080" stroke="#a67171"/><circle cx="486.7" cy="232.2" r="3.1" fill="#cb8eb2" stroke="#b37d9d"/><circle cx="495.1" cy="231.0" r="3.1" fill="#c3c6eb" stroke="#acaecf"/><circle cx="503.5" cy="231.4" r="3.1" fill="#6c783d" stroke="#5f6a36"/><circle cx="501.8" cy="238.9" r="3.1" fill="#245c46" stroke="#20513e"/><circle cx="511.0" cy="239.7" r="3.1" fill="#9a7a55" stroke="#886b4b"/><circle cx="520.2" cy="238.1" r="3.1" fill="#9a7a55" stroke="#886b4b"/><circle cx="528.6" cy="234.7" r="3.1" fill="#0a060e" stroke="#09050c"/><circle cx="537.8" cy="235.6" r="3.1" fill="#0a060e" stroke="#09050c"/><circle cx="547.0" cy="235.6" r="3.1" fill="#1c414a" stroke="#193941"/><circle cx="552.8" cy="233.9" r="3.1" fill="#cb8eb2" stroke="#b37d9d"/><circle cx="561.2" cy="232.2" r="3.1" fill="#245c46" stroke="#20513e"/><circle cx="570.4" cy="238.1" r="3.1" fill="#9a7a55" stroke="#886b4b"/><circle cx="579.6" cy="237.2" r="3.1" fill="#245c46" stroke="#20513e"/><circle cx="587.1" cy="235.6" r="3.1" fill="#41703b" stroke="#396334"/><circle cx="475.9" cy="242.3" r="3.1" fill="#1c253d" stroke="#192136"/><circle cx="485.1" cy="240.1" r="3.1" fill="#c8a8d9" stroke="#b094bf"/><circle cx="493.4" cy="238.9" r="3.1" fill="#e1f3ef" stroke="#c6d6d2"/><circle cx="473.3" cy="248.9" r="3.1" fill="#cb8eb2" stroke="#b37d9d"/><circle cx="481.7" cy="248.9" r="3.1" fill="#9a7a55" stroke="#886b4b"/><circle cx="491.7" cy="248.9" r="3.1" fill="#41703b" stroke="#396334"/><circle cx="500.9" cy="248.1" r="3.1" fill="#bd8080" stroke="#a67171"/><circle cx="509.3" cy="248.1" r="3.1" fill="#41703b" stroke="#396334"/><circle cx="517.7" cy="246.1" r="3.1" fill="#0a060e" stroke="#09050c"/><circle cx="526.5" cy="245.1" r="3.1" fill="#bd8080" stroke="#a67171"/><circle cx="534.4" cy="245.6" r="3.1" fill="#6c783d" stroke="#5f6a36"/><circle cx="544.4" cy="245.1" r="3.1" fill="#cb8eb2" stroke="#b37d9d"/><circle cx="553.6" cy="242.3" r="3.1" fill="#bd8080" stroke="#a67171"/><circle cx="560.3" cy="243.1" r="3.1" fill="#bd8080" stroke="#a67171"/><circle cx="569.5" cy="248.1" r="3.1" fill="#9a7a55" stroke="#886b4b"/><circle cx="577.1" cy="247.3" r="3.1" fill="#41703b" stroke="#396334"/><circle cx="585.4" cy="248.1" r="3.1" fill="#9a7a55" stroke="#886b4b"/><circle cx="473.3" cy="259.0" r="3.1" fill="#bd8080" stroke="#a67171"/><circle cx="481.7" cy="257.3" r="3.1" fill="#9a7a55" stroke="#886b4b"/><circle cx="491.7" cy="259.0" r="3.1" fill="#41703b" stroke="#396334"/><circle cx="500.1" cy="261.5" r="3.1" fill="#6c783d" stroke="#5f6a36"/><circle cx="507.6" cy="256.5" r="3.1" fill="#6c783d" stroke="#5f6a36"/><circle cx="516.5" cy="254.0" r="3.1" fill="#0a060e" stroke="#09050c"/><circle cx="525.2" cy="253.1" r="3.1" fill="#41703b" stroke="#396334"/><circle cx="536.1" cy="254.0" r="3.1" fill="#9a7a55" stroke="#886b4b"/><circle cx="543.6" cy="254.0" r="3.1" fill="#9a7a55" stroke="#886b4b"/><circle cx="552.0" cy="253.1" r="3.1" fill="#9a7a55" stroke="#886b4b"/><circle cx="560.3" cy="252.3" r="3.1" fill="#41703b" stroke="#396334"/><circle cx="568.7" cy="258.1" r="3.1" fill="#9a7a55" stroke="#886b4b"/><circle cx="577.1" cy="256.5" r="3.1" fill="#1c414a" stroke="#193941"/><circle cx="585.4" cy="255.6" r="3.1" fill="#1c414a" stroke="#193941"/><circle cx="470.8" cy="264.8" r="3.1" fill="#cb8eb2" stroke="#b37d9d"/><circle cx="478.4" cy="264.8" r="3.1" fill="#bd8080" stroke="#a67171"/><circle cx="490.1" cy="266.5" r="3.1" fill="#1c414a" stroke="#193941"/><circle cx="498.4" cy="265.7" r="3.1" fill="#41703b" stroke="#396334"/><circle cx="506.0" cy="264.8" r="3.1" fill="#245c46" stroke="#20513e"/><circle cx="514.3" cy="265.7" r="3.1" fill="#0a060e" stroke="#09050c"/><circle cx="524.4" cy="264.0" r="3.1" fill="#1c414a" stroke="#193941"/><circle cx="533.6" cy="263.2" r="3.1" fill="#6c783d" stroke="#5f6a36"/><circle cx="541.9" cy="262.3" r="3.1" fill="#41703b" stroke="#396334"/><circle cx="550.3" cy="260.7" r="3.1" fill="#1c253d" stroke="#192136"/><circle cx="558.7" cy="261.8" r="3.1" fill="#1c253d" stroke="#192136"/><circle cx="567.0" cy="268.2" r="3.1" fill="#1c253d" stroke="#192136"/><circle cx="575.4" cy="266.5" r="3.1" fill="#41703b" stroke="#396334"/><circle cx="583.8" cy="264.8" r="3.1" fill="#41703b" stroke="#396334"/><circle cx="480.0" cy="275.7" r="3.1" fill="#245c46" stroke="#20513e"/><circle cx="488.4" cy="274.9" r="3.1" fill="#cb8eb2" stroke="#b37d9d"/><circle cx="496.8" cy="274.9" r="3.1" fill="#9a7a55" stroke="#886b4b"/><circle cx="505.1" cy="273.2" r="3.1" fill="#6c783d" stroke="#5f6a36"/><circle cx="513.5" cy="273.2" r="3.1" fill="#c8a8d9" stroke="#b094bf"/><circle cx="521.9" cy="273.2" r="3.1" fill="#245c46" stroke="#20513e"/><circle cx="530.2" cy="271.5" r="3.1" fill="#41703b" stroke="#396334"/><circle cx="538.6" cy="270.7" r="3.1" fill="#41703b" stroke="#396334"/><circle cx="547.8" cy="270.2" r="3.1" fill="#9a7a55" stroke="#886b4b"/><circle cx="556.2" cy="268.5" r="3.1" fill="#1c253d" stroke="#192136"/><circle cx="548.6" cy="276.6" r="3.1" fill="#245c46" stroke="#20513e"/><circle cx="557.0" cy="279.9" r="3.1" fill="#245c46" stroke="#20513e"/><circle cx="566.2" cy="275.7" r="3.1" fill="#1c253d" stroke="#192136"/><circle cx="574.6" cy="274.9" r="3.1" fill="#41703b" stroke="#396334"/><circle cx="581.7" cy="274.9" r="3.1" fill="#41703b" stroke="#396334"/><circle cx="537.8" cy="278.2" r="3.1" fill="#9a7a55" stroke="#886b4b"/><circle cx="520.2" cy="281.6" r="3.1" fill="#1c414a" stroke="#193941"/><circle cx="528.6" cy="281.6" r="3.1" fill="#6c783d" stroke="#5f6a36"/><circle cx="512.7" cy="282.4" r="3.1" fill="#1c414a" stroke="#193941"/><circle cx="504.3" cy="283.2" r="3.1" fill="#41703b" stroke="#396334"/><circle cx="494.3" cy="282.4" r="3.1" fill="#41703b" stroke="#396334"/><circle cx="485.1" cy="284.1" r="3.1" fill="#41703b" stroke="#396334"/><circle cx="476.7" cy="284.9" r="3.1" fill="#6c783d" stroke="#5f6a36"/><circle cx="572.9" cy="283.2" r="3.1" fill="#245c46" stroke="#20513e"/><circle cx="580.4" cy="284.1" r="3.1" fill="#c3c6eb" stroke="#acaecf"/><circle cx="477.5" cy="291.6" r="3.1" fill="#c8a8d9" stroke="#b094bf"/><circle cx="485.1" cy="293.3" r="3.1" fill="#c8a8d9" stroke="#b094bf"/><circle cx="493.4" cy="292.4" r="3.1" fill="#1c414a" stroke="#193941"/><circle cx="503.5" cy="291.6" r="3.1" fill="#c8a8d9" stroke="#b094bf"/><circle cx="512.7" cy="290.8" r="3.1" fill="#bd8080" stroke="#a67171"/><circle cx="521.0" cy="289.9" r="3.1" fill="#41703b" stroke="#396334"/><circle cx="528.6" cy="289.9" r="3.1" fill="#1c414a" stroke="#193941"/><circle cx="537.8" cy="288.3" r="3.1" fill="#9a7a55" stroke="#886b4b"/><circle cx="547.0" cy="288.3" r="3.1" fill="#41703b" stroke="#396334"/><circle cx="553.6" cy="286.6" r="3.1" fill="#41703b" stroke="#396334"/><circle cx="563.7" cy="285.8" r="3.1" fill="#1c414a" stroke="#193941"/><circle cx="572.0" cy="291.6" r="3.1" fill="#cb8eb2" stroke="#b37d9d"/><circle cx="579.6" cy="288.3" r="3.1" fill="#c3c6eb" stroke="#acaecf"/><circle cx="587.1" cy="289.9" r="3.1" fill="#9a7a55" stroke="#886b4b"/><circle cx="475.0" cy="301.6" r="3.1" fill="#1c414a" stroke="#193941"/><circle cx="484.2" cy="300.8" r="3.1" fill="#c8a8d9" stroke="#b094bf"/><circle cx="492.6" cy="302.5" r="3.1" fill="#6c783d" stroke="#5f6a36"/><circle cx="508.5" cy="299.1" r="3.1" fill="#0a060e" stroke="#09050c"/><circle cx="515.2" cy="302.5" r="3.1" fill="#245c46" stroke="#20513e"/><circle cx="521.9" cy="300.0" r="3.1" fill="#1c414a" stroke="#193941"/><circle cx="528.6" cy="299.1" r="3.1" fill="#245c46" stroke="#20513e"/><circle cx="536.9" cy="296.6" r="3.1" fill="#41703b" stroke="#396334"/><circle cx="543.6" cy="298.3" r="3.1" fill="#6c783d" stroke="#5f6a36"/><circle cx="553.6" cy="294.1" r="3.1" fill="#245c46" stroke="#20513e"/><circle cx="562.0" cy="295.0" r="3.1" fill="#41703b" stroke="#396334"/><circle cx="570.4" cy="298.3" r="3.1" fill="#c8a8d9" stroke="#b094bf"/><circle cx="579.6" cy="295.8" r="3.1" fill="#cb8eb2" stroke="#b37d9d"/><circle cx="587.1" cy="300.0" r="3.1" fill="#c8a8d9" stroke="#b094bf"/><circle cx="553.6" cy="301.6" r="3.1" fill="#41703b" stroke="#396334"/><circle cx="543.6" cy="305.0" r="3.1" fill="#6c783d" stroke="#5f6a36"/><circle cx="570.4" cy="305.0" r="3.1" fill="#c8a8d9" stroke="#b094bf"/><circle cx="578.7" cy="305.0" r="3.1" fill="#c3c6eb" stroke="#acaecf"/><circle cx="587.1" cy="305.0" r="3.1" fill="#c8a8d9" stroke="#b094bf"/><circle cx="591.7" cy="219.7" r="3.1" fill="#41703b" stroke="#396334"/><circle cx="601.7" cy="219.3" r="3.1" fill="#1c414a" stroke="#193941"/><circle cx="610.1" cy="219.7" r="3.1" fill="#cb8eb2" stroke="#b37d9d"/><circle cx="615.9" cy="222.2" r="3.1" fill="#c8a8d9" stroke="#b094bf"/><circle cx="626.0" cy="221.3" r="3.1" fill="#c8a8d9" stroke="#b094bf"/><circle cx="633.5" cy="222.2" r="3.1" fill="#c8a8d9" stroke="#b094bf"/><circle cx="590.0" cy="228.0" r="3.1" fill="#245c46" stroke="#20513e"/><circle cx="597.5" cy="225.5" r="3.1" fill="#41703b" stroke="#396334"/><circle cx="607.6" cy="226.4" r="3.1" fill="#41703b" stroke="#396334"/><circle cx="615.1" cy="233.9" r="3.1" fill="#bd8080" stroke="#a67171"/><circle cx="595.0" cy="236.4" r="3.1" fill="#1c414a" stroke="#193941"/><circle cx="604.2" cy="236.1" r="3.1" fill="#6c783d" stroke="#5f6a36"/><circle cx="596.7" cy="244.8" r="3.1" fill="#245c46" stroke="#20513e"/><circle cx="605.1" cy="243.9" r="3.1" fill="#6c783d" stroke="#5f6a36"/><circle cx="613.4" cy="243.4" r="3.1" fill="#cb8eb2" stroke="#b37d9d"/><circle cx="620.9" cy="240.6" r="3.1" fill="#c8a8d9" stroke="#b094bf"/><circle cx="628.5" cy="241.4" r="3.1" fill="#cb8eb2" stroke="#b37d9d"/><circle cx="628.5" cy="248.1" r="3.1" fill="#9a7a55" stroke="#886b4b"/><circle cx="636.0" cy="248.9" r="3.1" fill="#9a7a55" stroke="#886b4b"/><circle cx="620.9" cy="249.8" r="3.1" fill="#c3c6eb" stroke="#acaecf"/><circle cx="610.1" cy="251.5" r="3.1" fill="#6c783d" stroke="#5f6a36"/><circle cx="600.0" cy="253.1" r="3.1" fill="#9a7a55" stroke="#886b4b"/><circle cx="592.5" cy="253.1" r="3.1" fill="#9a7a55" stroke="#886b4b"/><circle cx="592.5" cy="263.2" r="3.1" fill="#1c414a" stroke="#193941"/><circle cx="600.9" cy="264.0" r="3.1" fill="#cb8eb2" stroke="#b37d9d"/><circle cx="610.1" cy="259.8" r="3.1" fill="#c3c6eb" stroke="#acaecf"/><circle cx="616.8" cy="259.0" r="3.1" fill="#c3c6eb" stroke="#acaecf"/><circle cx="626.0" cy="257.3" r="3.1" fill="#c8a8d9" stroke="#b094bf"/><circle cx="609.2" cy="268.2" r="3.1" fill="#c8a8d9" stroke="#b094bf"/><circle cx="615.9" cy="267.3" r="3.1" fill="#c8a8d9" stroke="#b094bf"/><circle cx="591.7" cy="273.2" r="3.1" fill="#9a7a55" stroke="#886b4b"/><circle cx="600.0" cy="271.5" r="3.1" fill="#cb8eb2" stroke="#b37d9d"/><circle cx="606.7" cy="277.4" r="3.1" fill="#e1f3ef" stroke="#c6d6d2"/><circle cx="615.1" cy="274.9" r="3.1" fill="#bd8080" stroke="#a67171"/><circle cx="599.2" cy="279.9" r="3.1" fill="#cb8eb2" stroke="#b37d9d"/><circle cx="597.5" cy="288.3" r="3.1" fill="#cb8eb2" stroke="#b37d9d"/><circle cx="605.1" cy="288.3" r="3.1" fill="#bd8080" stroke="#a67171"/><circle cx="595.0" cy="296.6" r="3.1" fill="#cb8eb2" stroke="#b37d9d"/><circle cx="616.4" cy="262.1" r="3.1" fill="#c3c6eb" stroke="#acaecf"/><circle cx="589.9" cy="280.2" r="3.1" fill="#1c414a" stroke="#193941"/><circle cx="580.9" cy="291.4" r="3.1" fill="#c3c6eb" stroke="#acaecf"/><circle cx="579.5" cy="300.4" r="3.1" fill="#c8a8d9" stroke="#b094bf"/><circle cx="535.6" cy="308.1" r="3.1" fill="#6c783d" stroke="#5f6a36"/><circle cx="553.0" cy="304.6" r="3.1" fill="#c8a8d9" stroke="#b094bf"/><circle cx="561.4" cy="304.3" r="3.1" fill="#c8a8d9" stroke="#b094bf"/><circle cx="577.4" cy="310.2" r="3.1" fill="#bd8080" stroke="#a67171"/><circle cx="570.4" cy="312.7" r="3.1" fill="#9a7a55" stroke="#886b4b"/><circle cx="560.7" cy="313.7" r="3.1" fill="#cb8eb2" stroke="#b37d9d"/><circle cx="550.2" cy="313.0" r="3.1" fill="#c8a8d9" stroke="#b094bf"/><circle cx="534.9" cy="314.4" r="3.1" fill="#c8a8d9" stroke="#b094bf"/><circle cx="543.9" cy="314.4" r="3.1" fill="#e1f3ef" stroke="#c6d6d2"/><circle cx="534.2" cy="325.5" r="3.1" fill="#cb8eb2" stroke="#b37d9d"/><circle cx="543.2" cy="321.3" r="3.1" fill="#c8a8d9" stroke="#b094bf"/><circle cx="550.9" cy="322.7" r="3.1" fill="#cb8eb2" stroke="#b37d9d"/><circle cx="558.6" cy="320.6" r="3.1" fill="#c3c6eb" stroke="#acaecf"/><circle cx="566.9" cy="321.3" r="3.1" fill="#c3c6eb" stroke="#acaecf"/><circle cx="575.3" cy="319.9" r="3.1" fill="#cb8eb2" stroke="#b37d9d"/><circle cx="583.0" cy="317.2" r="3.1" fill="#e1f3ef" stroke="#c6d6d2"/><circle cx="550.9" cy="329.7" r="3.1" fill="#41703b" stroke="#396334"/><circle cx="558.6" cy="329.7" r="3.1" fill="#cb8eb2" stroke="#b37d9d"/><circle cx="566.2" cy="329.0" r="3.1" fill="#c8a8d9" stroke="#b094bf"/><circle cx="581.6" cy="330.4" r="3.1" fill="#c8a8d9" stroke="#b094bf"/><circle cx="253.4" cy="300.8" r="3.1" fill="#bd8080" stroke="#a67171"/><circle cx="234.2" cy="308.4" r="3.1" fill="#245c46" stroke="#20513e"/><circle cx="252.6" cy="308.4" r="3.1" fill="#6c783d" stroke="#5f6a36"/><circle cx="243.4" cy="315.1" r="3.1" fill="#41703b" stroke="#396334"/><circle cx="250.9" cy="316.7" r="3.1" fill="#c8a8d9" stroke="#b094bf"/><circle cx="260.1" cy="318.4" r="3.1" fill="#cb8eb2" stroke="#b37d9d"/><circle cx="261.8" cy="302.5" r="3.1" fill="#e1f3ef" stroke="#c6d6d2"/><circle cx="322.8" cy="307.5" r="3.1" fill="#1c253d" stroke="#192136"/><circle cx="330.4" cy="308.4" r="3.1" fill="#0a060e" stroke="#09050c"/><circle cx="347.9" cy="310.0" r="3.1" fill="#1c253d" stroke="#192136"/><circle cx="261.8" cy="310.0" r="3.1" fill="#c3c6eb" stroke="#acaecf"/><circle cx="270.1" cy="310.0" r="3.1" fill="#e1f3ef" stroke="#c6d6d2"/><circle cx="278.5" cy="310.9" r="3.1" fill="#c8a8d9" stroke="#b094bf"/><circle cx="286.0" cy="313.0" r="3.1" fill="#245c46" stroke="#20513e"/><circle cx="296.9" cy="312.5" r="3.1" fill="#c8a8d9" stroke="#b094bf"/><circle cx="305.3" cy="313.4" r="3.1" fill="#cb8eb2" stroke="#b37d9d"/><circle cx="297.8" cy="318.4" r="3.1" fill="#c8a8d9" stroke="#b094bf"/><circle cx="302.8" cy="323.4" r="3.1" fill="#c8a8d9" stroke="#b094bf"/><circle cx="322.8" cy="316.7" r="3.1" fill="#1c414a" stroke="#193941"/><circle cx="331.2" cy="315.9" r="3.1" fill="#0a060e" stroke="#09050c"/><circle cx="340.4" cy="319.2" r="3.1" fill="#0a060e" stroke="#09050c"/><circle cx="347.9" cy="320.9" r="3.1" fill="#0a060e" stroke="#09050c"/><circle cx="301.9" cy="330.9" r="3.1" fill="#c8a8d9" stroke="#b094bf"/><circle cx="313.6" cy="325.9" r="3.1" fill="#9a7a55" stroke="#886b4b"/><circle cx="320.3" cy="325.9" r="3.1" fill="#cb8eb2" stroke="#b37d9d"/><circle cx="328.7" cy="325.9" r="3.1" fill="#1c253d" stroke="#192136"/><circle cx="337.9" cy="325.1" r="3.1" fill="#0a060e" stroke="#09050c"/><circle cx="347.9" cy="326.8" r="3.1" fill="#1c414a" stroke="#193941"/><circle cx="312.8" cy="335.1" r="3.1" fill="#c8a8d9" stroke="#b094bf"/><circle cx="320.3" cy="332.6" r="3.1" fill="#cb8eb2" stroke="#b37d9d"/><circle cx="328.7" cy="335.1" r="3.1" fill="#9a7a55" stroke="#886b4b"/><circle cx="337.9" cy="337.6" r="3.1" fill="#9a7a55" stroke="#886b4b"/><circle cx="346.3" cy="336.0" r="3.1" fill="#6c783d" stroke="#5f6a36"/><circle cx="310.3" cy="343.5" r="3.1" fill="#c8a8d9" stroke="#b094bf"/><circle cx="317.0" cy="342.7" r="3.1" fill="#cb8eb2" stroke="#b37d9d"/><circle cx="327.0" cy="343.5" r="3.1" fill="#bd8080" stroke="#a67171"/><circle cx="333.7" cy="344.3" r="3.1" fill="#bd8080" stroke="#a67171"/><circle cx="344.6" cy="344.3" r="3.1" fill="#bd8080" stroke="#a67171"/><circle cx="310.3" cy="349.3" r="3.1" fill="#c8a8d9" stroke="#b094bf"/><circle cx="318.7" cy="352.7" r="3.1" fill="#c8a8d9" stroke="#b094bf"/><circle cx="324.5" cy="351.9" r="3.1" fill="#cb8eb2" stroke="#b37d9d"/><circle cx="465.4" cy="302.5" r="3.1" fill="#c8a8d9" stroke="#b094bf"/><circle cx="351.7" cy="310.9" r="3.1" fill="#1c414a" stroke="#193941"/><circle cx="358.4" cy="310.4" r="3.1" fill="#1c414a" stroke="#193941"/><circle cx="366.7" cy="311.7" r="3.1" fill="#1c414a" stroke="#193941"/><circle cx="375.1" cy="312.0" r="3.1" fill="#6c783d" stroke="#5f6a36"/><circle cx="385.1" cy="312.5" r="3.1" fill="#c8a8d9" stroke="#b094bf"/><circle cx="393.2" cy="313.4" r="3.1" fill="#bd8080" stroke="#a67171"/><circle cx="403.5" cy="314.7" r="3.1" fill="#c3c6eb" stroke="#acaecf"/><circle cx="412.7" cy="313.4" r="3.1" fill="#c3c6eb" stroke="#acaecf"/><circle cx="420.3" cy="312.5" r="3.1" fill="#9a7a55" stroke="#886b4b"/><circle cx="428.6" cy="311.7" r="3.1" fill="#bd8080" stroke="#a67171"/><circle cx="437.8" cy="311.7" r="3.1" fill="#c8a8d9" stroke="#b094bf"/><circle cx="446.2" cy="312.5" r="3.1" fill="#1c414a" stroke="#193941"/><circle cx="457.1" cy="313.4" r="3.1" fill="#c8a8d9" stroke="#b094bf"/><circle cx="463.8" cy="311.4" r="3.1" fill="#9a7a55" stroke="#886b4b"/><circle cx="357.5" cy="320.9" r="3.1" fill="#0a060e" stroke="#09050c"/><circle cx="365.9" cy="321.4" r="3.1" fill="#1c414a" stroke="#193941"/><circle cx="375.1" cy="320.9" r="3.1" fill="#0a060e" stroke="#09050c"/><circle cx="384.3" cy="320.4" r="3.1" fill="#c8a8d9" stroke="#b094bf"/><circle cx="391.8" cy="321.4" r="3.1" fill="#c8a8d9" stroke="#b094bf"/><circle cx="402.7" cy="321.7" r="3.1" fill="#e1f3ef" stroke="#c6d6d2"/><circle cx="411.9" cy="321.4" r="3.1" fill="#cb8eb2" stroke="#b37d9d"/><circle cx="420.3" cy="321.4" r="3.1" fill="#cb8eb2" stroke="#b37d9d"/><circle cx="427.0" cy="321.7" r="3.1" fill="#6c783d" stroke="#5f6a36"/><circle cx="426.1" cy="325.1" r="3.1" fill="#bd8080" stroke="#a67171"/><circle cx="436.7" cy="320.9" r="3.1" fill="#6c783d" stroke="#5f6a36"/><circle cx="445.4" cy="321.7" r="3.1" fill="#e1f3ef" stroke="#c6d6d2"/><circle cx="454.6" cy="320.1" r="3.1" fill="#c8a8d9" stroke="#b094bf"/><circle cx="462.9" cy="321.7" r="3.1" fill="#1c414a" stroke="#193941"/><circle cx="355.9" cy="329.3" r="3.1" fill="#41703b" stroke="#396334"/><circle cx="365.1" cy="329.3" r="3.1" fill="#245c46" stroke="#20513e"/><circle cx="374.3" cy="330.1" r="3.1" fill="#6c783d" stroke="#5f6a36"/><circle cx="383.5" cy="330.1" r="3.1" fill="#c8a8d9" stroke="#b094bf"/><circle cx="392.7" cy="330.9" r="3.1" fill="#c3c6eb" stroke="#acaecf"/><circle cx="400.2" cy="330.1" r="3.1" fill="#c3c6eb" stroke="#acaecf"/><circle cx="411.1" cy="330.9" r="3.1" fill="#e1f3ef" stroke="#c6d6d2"/><circle cx="417.8" cy="330.1" r="3.1" fill="#e1f3ef" stroke="#c6d6d2"/><circle cx="427.0" cy="330.9" r="3.1" fill="#c3c6eb" stroke="#acaecf"/><circle cx="435.3" cy="330.1" r="3.1" fill="#c3c6eb" stroke="#acaecf"/><circle cx="443.7" cy="330.9" r="3.1" fill="#e1f3ef" stroke="#c6d6d2"/><circle cx="453.7" cy="330.1" r="3.1" fill="#0a060e" stroke="#09050c"/><circle cx="461.2" cy="330.1" r="3.1" fill="#c8a8d9" stroke="#b094bf"/><circle cx="353.3" cy="337.6" r="3.1" fill="#cb8eb2" stroke="#b37d9d"/><circle cx="363.4" cy="336.0" r="3.1" fill="#cb8eb2" stroke="#b37d9d"/><circle cx="363.4" cy="341.8" r="3.1" fill="#c8a8d9" stroke="#b094bf"/><circle cx="372.6" cy="338.1" r="3.1" fill="#41703b" stroke="#396334"/><circle cx="381.8" cy="337.6" r="3.1" fill="#6c783d" stroke="#5f6a36"/><circle cx="391.0" cy="338.5" r="3.1" fill="#e1f3ef" stroke="#c6d6d2"/><circle cx="400.2" cy="338.8" r="3.1" fill="#c8a8d9" stroke="#b094bf"/><circle cx="407.7" cy="337.6" r="3.1" fill="#41703b" stroke="#396334"/><circle cx="416.1" cy="339.3" r="3.1" fill="#cb8eb2" stroke="#b37d9d"/><circle cx="424.4" cy="339.3" r="3.1" fill="#c8a8d9" stroke="#b094bf"/><circle cx="433.6" cy="339.3" r="3.1" fill="#c3c6eb" stroke="#acaecf"/><circle cx="443.7" cy="339.3" r="3.1" fill="#c3c6eb" stroke="#acaecf"/><circle cx="452.4" cy="339.3" r="3.1" fill="#9a7a55" stroke="#886b4b"/><circle cx="460.4" cy="338.5" r="3.1" fill="#0a060e" stroke="#09050c"/><circle cx="354.2" cy="345.2" r="3.1" fill="#bd8080" stroke="#a67171"/><circle cx="362.5" cy="346.0" r="3.1" fill="#cb8eb2" stroke="#b37d9d"/><circle cx="372.6" cy="347.7" r="3.1" fill="#c3c6eb" stroke="#acaecf"/><circle cx="379.8" cy="348.5" r="3.1" fill="#c8a8d9" stroke="#b094bf"/><circle cx="389.8" cy="348.5" r="3.1" fill="#c8a8d9" stroke="#b094bf"/><circle cx="396.5" cy="348.5" r="3.1" fill="#0a060e" stroke="#09050c"/><circle cx="406.0" cy="348.5" r="3.1" fill="#cb8eb2" stroke="#b37d9d"/><circle cx="416.1" cy="346.8" r="3.1" fill="#c3c6eb" stroke="#acaecf"/><circle cx="425.3" cy="348.5" r="3.1" fill="#cb8eb2" stroke="#b37d9d"/><circle cx="434.5" cy="346.8" r="3.1" fill="#bd8080" stroke="#a67171"/><circle cx="443.7" cy="348.5" r="3.1" fill="#41703b" stroke="#396334"/><circle cx="451.2" cy="347.7" r="3.1" fill="#cb8eb2" stroke="#b37d9d"/><circle cx="459.6" cy="347.7" r="3.1" fill="#cb8eb2" stroke="#b37d9d"/><circle cx="467.9" cy="346.8" r="3.1" fill="#cb8eb2" stroke="#b37d9d"/><circle cx="353.3" cy="355.2" r="3.1" fill="#cb8eb2" stroke="#b37d9d"/><circle cx="362.5" cy="354.9" r="3.1" fill="#c8a8d9" stroke="#b094bf"/><circle cx="370.9" cy="356.0" r="3.1" fill="#c8a8d9" stroke="#b094bf"/><circle cx="380.9" cy="357.7" r="3.1" fill="#cb8eb2" stroke="#b37d9d"/><circle cx="388.5" cy="357.7" r="3.1" fill="#e1f3ef" stroke="#c6d6d2"/><circle cx="396.8" cy="356.9" r="3.1" fill="#c8a8d9" stroke="#b094bf"/><circle cx="405.2" cy="357.7" r="3.1" fill="#c8a8d9" stroke="#b094bf"/><circle cx="360.0" cy="366.1" r="3.1" fill="#0a060e" stroke="#09050c"/><circle cx="368.4" cy="366.6" r="3.1" fill="#0a060e" stroke="#09050c"/><circle cx="358.4" cy="371.9" r="3.1" fill="#9a7a55" stroke="#886b4b"/><circle cx="366.7" cy="371.9" r="3.1" fill="#bd8080" stroke="#a67171"/><circle cx="377.6" cy="365.2" r="3.1" fill="#bd8080" stroke="#a67171"/><circle cx="387.1" cy="365.2" r="3.1" fill="#41703b" stroke="#396334"/><circle cx="396.0" cy="363.6" r="3.1" fill="#bd8080" stroke="#a67171"/><circle cx="403.9" cy="366.6" r="3.1" fill="#9a7a55" stroke="#886b4b"/><circle cx="413.6" cy="365.2" r="3.1" fill="#9a7a55" stroke="#886b4b"/><circle cx="377.6" cy="375.3" r="3.1" fill="#1c253d" stroke="#192136"/><circle cx="386.5" cy="373.6" r="3.1" fill="#cb8eb2" stroke="#b37d9d"/><circle cx="368.4" cy="382.0" r="3.1" fill="#cb8eb2" stroke="#b37d9d"/><circle cx="377.6" cy="382.8" r="3.1" fill="#9a7a55" stroke="#886b4b"/><circle cx="392.7" cy="387.0" r="3.1" fill="#bd8080" stroke="#a67171"/><circle cx="375.1" cy="388.3" r="3.1" fill="#bd8080" stroke="#a67171"/><circle cx="382.2" cy="391.7" r="3.1" fill="#9a7a55" stroke="#886b4b"/><circle cx="382.8" cy="398.9" r="3.1" fill="#9a7a55" stroke="#886b4b"/><circle cx="471.7" cy="311.7" r="3.1" fill="#c8a8d9" stroke="#b094bf"/><circle cx="481.7" cy="311.4" r="3.1" fill="#1c253d" stroke="#192136"/><circle cx="490.9" cy="310.9" r="3.1" fill="#c3c6eb" stroke="#acaecf"/><circle cx="509.3" cy="308.4" r="3.1" fill="#245c46" stroke="#20513e"/><circle cx="518.5" cy="308.7" r="3.1" fill="#245c46" stroke="#20513e"/><circle cx="527.2" cy="308.0" r="3.1" fill="#245c46" stroke="#20513e"/><circle cx="472.5" cy="319.2" r="3.1" fill="#c8a8d9" stroke="#b094bf"/><circle cx="482.5" cy="320.1" r="3.1" fill="#bd8080" stroke="#a67171"/><circle cx="490.9" cy="319.2" r="3.1" fill="#cb8eb2" stroke="#b37d9d"/><circle cx="497.6" cy="318.1" r="3.1" fill="#0a060e" stroke="#09050c"/><circle cx="507.6" cy="316.7" r="3.1" fill="#c8a8d9" stroke="#b094bf"/><circle cx="515.2" cy="318.1" r="3.1" fill="#c8a8d9" stroke="#b094bf"/><circle cx="525.2" cy="316.7" r="3.1" fill="#c8a8d9" stroke="#b094bf"/><circle cx="583.8" cy="320.1" r="3.1" fill="#e1f3ef" stroke="#c6d6d2"/><circle cx="472.5" cy="327.6" r="3.1" fill="#cb8eb2" stroke="#b37d9d"/><circle cx="480.9" cy="329.8" r="3.1" fill="#c8a8d9" stroke="#b094bf"/><circle cx="488.4" cy="327.6" r="3.1" fill="#c8a8d9" stroke="#b094bf"/><circle cx="497.6" cy="327.6" r="3.1" fill="#cb8eb2" stroke="#b37d9d"/><circle cx="506.8" cy="326.4" r="3.1" fill="#bd8080" stroke="#a67171"/><circle cx="517.7" cy="328.8" r="3.1" fill="#6c783d" stroke="#5f6a36"/><circle cx="525.2" cy="325.1" r="3.1" fill="#c3c6eb" stroke="#acaecf"/><circle cx="541.9" cy="326.8" r="3.1" fill="#c3c6eb" stroke="#acaecf"/><circle cx="471.7" cy="337.6" r="3.1" fill="#41703b" stroke="#396334"/><circle cx="478.4" cy="338.1" r="3.1" fill="#bd8080" stroke="#a67171"/><circle cx="489.2" cy="336.5" r="3.1" fill="#c3c6eb" stroke="#acaecf"/><circle cx="497.6" cy="336.0" r="3.1" fill="#e1f3ef" stroke="#c6d6d2"/><circle cx="506.8" cy="334.3" r="3.1" fill="#e1f3ef" stroke="#c6d6d2"/><circle cx="516.0" cy="334.3" r="3.1" fill="#cb8eb2" stroke="#b37d9d"/><circle cx="523.5" cy="334.3" r="3.1" fill="#c8a8d9" stroke="#b094bf"/><circle cx="533.6" cy="335.5" r="3.1" fill="#41703b" stroke="#396334"/><circle cx="539.4" cy="331.8" r="3.1" fill="#bd8080" stroke="#a67171"/><circle cx="539.4" cy="341.0" r="3.1" fill="#cb8eb2" stroke="#b37d9d"/><circle cx="550.0" cy="339.3" r="3.1" fill="#c8a8d9" stroke="#b094bf"/><circle cx="559.5" cy="339.8" r="3.1" fill="#41703b" stroke="#396334"/><circle cx="567.9" cy="338.8" r="3.1" fill="#41703b" stroke="#396334"/><circle cx="575.1" cy="339.3" r="3.1" fill="#41703b" stroke="#396334"/><circle cx="583.8" cy="338.5" r="3.1" fill="#c8a8d9" stroke="#b094bf"/><circle cx="476.7" cy="346.8" r="3.1" fill="#cb8eb2" stroke="#b37d9d"/><circle cx="485.1" cy="344.3" r="3.1" fill="#cb8eb2" stroke="#b37d9d"/><circle cx="565.4" cy="346.8" r="3.1" fill="#bd8080" stroke="#a67171"/><circle cx="574.6" cy="348.5" r="3.1" fill="#c8a8d9" stroke="#b094bf"/><circle cx="581.2" cy="344.3" r="3.1" fill="#cb8eb2" stroke="#b37d9d"/><circle cx="588.8" cy="346.0" r="3.1" fill="#c8a8d9" stroke="#b094bf"/><circle cx="475.0" cy="355.2" r="3.1" fill="#c8a8d9" stroke="#b094bf"/><circle cx="485.1" cy="354.4" r="3.1" fill="#6c783d" stroke="#5f6a36"/><circle cx="580.4" cy="353.5" r="3.1" fill="#c8a8d9" stroke="#b094bf"/><circle cx="580.4" cy="362.7" r="3.1" fill="#cb8eb2" stroke="#b37d9d"/><circle cx="583.8" cy="371.9" r="3.1" fill="#c8a8d9" stroke="#b094bf"/><circle cx="588.8" cy="378.6" r="3.1" fill="#c8a8d9" stroke="#b094bf"/><circle cx="568.9" cy="302.2" r="3.1" fill="#cb8eb2" stroke="#b37d9d"/><circle cx="591.2" cy="351.3" r="3.1" fill="#cb8eb2" stroke="#b37d9d"/><circle cx="591.2" cy="362.5" r="3.1" fill="#c8a8d9" stroke="#b094bf"/><circle cx="596.8" cy="363.6" r="3.1" fill="#41703b" stroke="#396334"/><circle cx="587.9" cy="371.4" r="3.1" fill="#c8a8d9" stroke="#b094bf"/><circle cx="597.9" cy="371.4" r="3.1" fill="#c8a8d9" stroke="#b094bf"/><circle cx="605.7" cy="377.0" r="3.1" fill="#cb8eb2" stroke="#b37d9d"/><circle cx="596.8" cy="379.2" r="3.1" fill="#c3c6eb" stroke="#acaecf"/><circle cx="593.5" cy="389.2" r="3.1" fill="#cb8eb2" stroke="#b37d9d"/><circle cx="604.6" cy="385.9" r="3.1" fill="#c8a8d9" stroke="#b094bf"/><circle cx="601.3" cy="394.8" r="3.1" fill="#bd8080" stroke="#a67171"/><circle cx="602.4" cy="410.4" r="3.1" fill="#c3c6eb" stroke="#acaecf"/><circle cx="590.0" cy="184.4" r="3.1" fill="#9a7a55" stroke="#886b4b"/><circle cx="587.5" cy="192.5" r="3.1" fill="#9a7a55" stroke="#886b4b"/><circle cx="582.5" cy="210.6" r="3.1" fill="#cb8eb2" stroke="#b37d9d"/><circle cx="632.5" cy="210.0" r="3.1" fill="#c8a8d9" stroke="#b094bf"/><circle cx="573.8" cy="212.5" r="3.1" fill="#9a7a55" stroke="#886b4b"/><circle cx="622.5" cy="216.2" r="3.1" fill="#c8a8d9" stroke="#b094bf"/></g><path d="M162.7 44.4 188.6 49.7 218.7 60.6 230.4 63.1 M148.1 47.2 147.6 54.7 147.1 64.8 146.5 73.1 145.1 79.0 145.6 81.8 M145.6 81.8 150.1 83.5 154.3 88.2 156.8 91.9 163.5 93.5 170.2 95.2 180.3 96.0 188.6 96.9 198.7 98.6 208.7 100.7 211.2 101.6 M218.7 60.6 215.4 79.8 211.2 101.6 M211.2 101.6 208.7 109.9 206.2 116.6 202.8 123.3 203.7 128.0 M145.6 81.8 143.5 86.5 140.9 93.2 137.6 99.9 133.4 108.3 130.1 115.0 126.7 121.6 124.2 128.0 M225.4 61.4 225.4 71.5 227.1 81.5 230.4 86.5 M230.0 62.8 263.5 68.9 296.9 74.8 337.1 80.2 350.4 81.8 M337.1 80.2 332.9 128.0 M230.0 90.7 234.2 95.7 237.5 102.4 234.2 108.3 233.3 112.4 239.2 117.5 240.9 122.5 243.4 128.0 M350.0 81.2 400.2 82.8 419.4 83.2 M419.4 83.2 420.3 79.5 422.8 79.0 423.6 83.2 426.1 87.3 437.0 89.9 443.7 91.5 450.4 94.0 458.7 95.7 467.1 95.7 470.4 96.6 M401.0 82.8 403.5 96.6 404.4 108.3 405.2 118.3 406.0 128.0 M470.0 95.7 483.4 91.9 503.5 103.2 521.9 113.3 541.9 126.7 545.3 128.0 M448.4 117.1 447.0 126.8 444.2 133.8 442.8 142.2 448.4 149.1 455.3 154.7 460.9 160.0 M448.4 117.1 453.9 115.0 462.3 112.9 465.8 110.8 467.9 114.3 476.2 112.2 481.8 108.7 488.8 103.8 484.6 107.3 483.2 110.1 486.0 112.2 495.8 115.0 504.1 112.9 513.9 111.5 523.6 113.6 529.2 118.5 M467.9 114.3 473.5 119.9 481.8 122.6 490.2 125.4 494.4 131.0 493.0 140.8 491.6 146.3 493.0 160.0 M497.2 123.3 505.5 119.9 512.5 121.9 518.1 122.6 523.6 122.6 529.2 120.5 540.0 124.0 M518.1 125.4 515.3 129.6 512.5 133.8 509.7 139.4 508.3 144.9 506.9 151.9 508.3 160.0 M501.3 131.0 498.6 135.2 495.8 140.8 493.0 146.3 491.6 160.0 M123.4 134.7 165.2 148.1 197.0 154.8 230.4 163.1 M124.2 128.0 123.4 134.7 120.0 144.7 116.7 153.1 115.0 158.1 117.5 166.5 118.4 176.5 119.2 184.9 120.0 189.9 123.4 193.2 125.9 196.9 124.2 198.3 123.4 201.6 125.9 206.6 124.2 211.6 125.1 218.0 M165.2 148.1 160.2 168.1 154.8 187.4 165.2 201.6 174.4 218.0 M202.8 128.0 196.2 154.8 M225.4 163.1 220.4 186.6 213.7 218.0 M263.1 128.0 255.1 181.5 M263.1 127.2 332.0 135.5 M332.0 135.5 327.0 189.9 M255.1 181.5 327.0 190.2 347.1 192.4 350.4 192.9 M243.4 128.0 245.1 131.3 251.7 130.5 256.8 131.3 260.9 129.7 263.1 133.0 M230.0 163.1 255.9 167.3 M274.3 185.7 269.3 218.0 M330.4 164.0 350.4 165.6 M403.5 128.0 407.7 134.7 406.9 161.5 M406.9 161.5 455.4 161.5 M350.0 165.6 383.5 166.8 393.5 170.7 401.9 171.8 406.0 176.5 M406.9 161.5 406.0 176.5 409.4 183.2 411.9 191.6 413.6 198.3 416.9 206.6 420.3 211.6 421.9 218.0 M350.0 208.0 416.9 209.6 M414.4 201.6 458.7 201.6 M465.4 190.7 470.4 189.9 M500.1 128.0 496.8 136.4 494.3 144.7 495.1 154.8 494.3 163.1 496.8 171.5 500.9 182.4 M492.6 140.5 496.8 134.7 501.8 131.3 M470.0 173.2 495.1 172.3 M500.9 182.4 508.5 181.5 528.6 180.2 550.3 181.2 M500.9 182.4 501.8 218.0 M513.8 128.0 513.5 134.7 511.5 144.7 510.7 154.8 511.8 161.5 513.8 169.8 513.2 176.5 513.8 180.7 M528.6 180.2 530.2 218.0 M536.1 128.0 538.6 136.4 536.1 144.7 538.6 146.4 543.6 147.2 547.0 153.1 548.6 161.5 547.0 168.1 545.3 176.5 550.3 181.2 M543.6 128.0 552.0 151.4 550.3 178.2 M124.2 218.0 128.4 226.4 130.9 234.7 131.7 241.4 135.1 247.3 141.8 251.5 146.0 254.0 150.1 259.0 155.2 263.2 158.5 268.2 161.9 273.2 163.5 283.2 M163.5 283.2 192.8 286.3 191.1 289.9 203.7 298.3 218.7 308.0 M174.4 218.0 183.6 231.4 193.6 241.4 201.2 247.3 M214.6 218.0 213.7 229.7 209.5 241.4 207.9 243.1 202.0 249.8 201.2 259.8 198.7 268.2 194.5 276.6 193.6 281.6 192.8 286.3 M213.7 229.7 230.4 233.9 M230.0 233.9 266.0 239.7 332.0 248.1 349.9 248.6 M269.3 218.0 266.0 239.7 255.9 308.0 M332.0 248.1 332.0 255.6 327.0 308.0 M332.0 255.6 349.9 255.6 M346.3 218.0 345.4 248.1 M350.0 248.9 383.5 250.6 426.1 252.3 M421.9 218.0 426.1 223.0 426.1 252.3 426.1 258.1 427.8 298.3 433.6 301.6 433.6 308.0 M350.0 255.6 365.9 256.8 M365.9 256.8 365.1 283.2 371.7 286.6 380.1 289.9 388.5 294.1 396.8 295.0 403.5 295.8 413.6 294.1 421.9 296.6 429.5 300.0 433.6 301.6 M426.1 258.1 469.9 258.1 M501.8 235.7 502.8 225.0 501.8 209.4 500.8 190.0 M531.0 190.0 531.0 215.3 M460.0 258.1 485.3 255.1 524.2 252.2 568.9 247.4 600.0 242.5 M473.6 277.1 500.8 275.6 545.6 273.2 M500.8 275.6 501.8 289.9 M528.1 274.0 531.9 289.9 M545.6 273.2 557.2 267.8 568.9 263.9 580.6 258.1 592.2 252.2 600.0 248.3 M530.0 273.2 543.9 271.8 555.1 269.8 563.5 268.4 583.0 268.4 596.9 268.4 610.9 278.1 616.4 276.7 622.0 268.4 630.0 262.8 M555.1 269.8 556.5 273.9 563.5 279.5 570.4 287.9 577.4 294.9 581.6 299.0 585.8 306.0 588.6 308.8 M610.9 278.1 608.1 282.3 602.5 290.7 595.5 300.4 588.6 308.8 M588.6 308.8 585.8 315.8 584.4 322.7 584.4 328.3 585.8 335.0 M530.0 329.7 542.5 331.1 577.4 330.4 578.8 327.6 584.4 328.3 M230.0 314.2 254.3 317.6 M255.1 300.0 254.3 317.6 264.3 318.4 265.1 313.4 286.0 315.4 327.0 316.7 M327.0 300.0 327.0 316.7 M286.0 315.4 287.7 317.6 293.6 325.1 301.9 335.1 306.1 347.7 319.5 358.6 323.7 355.2 332.0 348.5 340.4 350.2 349.9 358.6 M429.5 300.0 432.0 306.7 433.6 316.7 435.3 325.1 438.7 333.5 437.8 341.8 435.3 353.5 M433.6 306.7 465.4 307.5 M435.3 353.5 443.7 352.7 453.7 353.5 458.7 355.2 465.4 353.5 469.9 356.9 M435.3 353.5 430.3 355.2 423.6 356.9 420.3 360.2 413.6 365.2 405.2 370.3 400.2 375.3 395.2 380.3 391.8 385.3 390.1 390.0 M350.0 356.9 355.0 363.6 360.0 371.9 362.5 378.6 366.7 387.0 368.4 390.0 M356.7 370.0 361.1 376.7 364.4 382.2 366.7 390.0 369.4 398.9 377.8 402.2 384.4 404.4 391.1 407.8 394.4 406.1 M394.4 406.1 393.3 397.8 391.1 391.1 390.0 386.7 392.2 381.1 395.6 377.8 401.1 373.3 407.8 370.0 M500.1 300.0 500.9 316.7 501.8 342.7 M536.9 300.0 538.6 310.0 540.3 320.1 542.8 330.1 543.6 332.6 M511.8 332.6 543.6 332.6 M488.4 343.5 495.1 345.2 501.8 342.7 505.1 341.8 506.0 338.5 508.5 340.1 510.1 342.7 512.7 341.8 513.5 340.1 520.2 340.1 528.6 340.1 535.2 341.8 540.3 347.7 545.3 346.8 552.0 341.8 558.7 340.1 562.0 344.3 M488.4 343.5 486.7 350.2 491.7 353.5 495.1 358.6 490.1 360.2 483.4 356.9 476.7 359.4 470.0 360.2 M588.0 300.0 585.7 308.9 584.6 317.8 584.6 326.8 588.0 335.7 593.5 344.6 598.0 353.5 602.5 362.5 605.8 371.4 609.1 382.5 611.4 393.7 611.8 398.1 609.1 402.6 604.7 405.9 600.2 409.3 595.8 411.5 M562.1 344.4 564.5 343.5 570.1 348.0 573.5 353.5 574.6 362.5 575.7 369.1 579.0 375.8 582.4 382.5 585.7 388.1 590.2 393.7 593.5 398.1 599.1 403.7 604.7 405.9 M540.0 333.5 556.7 332.3 576.8 331.2 577.9 326.8 584.6 327.9 M560.0 247.5 585.0 244.4 610.0 240.6 632.5 236.2 635.0 235.0 M625.0 230.0 632.5 232.5 635.0 236.2 637.5 242.5 641.2 247.5 642.5 252.5 637.5 255.0 631.2 253.8 630.0 256.2 633.8 258.8 632.5 262.5 627.5 263.8 622.5 266.2 618.8 270.0 617.5 276.2 612.5 278.1 608.8 281.2 606.2 286.2 603.8 290.0 M560.0 235.6 566.2 237.5 572.5 236.9 583.8 230.0 M560.0 270.0 570.0 266.9 582.5 267.5 596.2 268.1 603.8 273.8 610.0 277.5 M560.0 278.8 566.2 283.8 572.5 290.0 M443.4 120.0 445.6 131.2 446.7 142.3 452.3 149.0 456.8 153.5 460.1 159.0 461.2 164.6 465.7 173.5 466.8 180.2 464.6 186.9 463.5 193.6 460.1 200.3 462.3 209.2 466.8 218.1 469.0 224.8 472.4 231.5 476.8 236.7 482.4 241.2 485.7 250.1 483.5 255.7 481.3 263.5 479.0 272.4 474.6 281.3 471.2 290.2 467.9 299.2 465.7 308.1 464.5 317.0 462.3 325.9 461.2 334.8 484.6 334.8 486.8 343.8 491.3 350.0 M347.2 192.4 346.3 218.0 M333.4 121.9 369.9 125.0 406.3 126.7 M148.1 46.4 156.8 52.0 160.1 54.2 162.3 54.2 M148.4 48.3 156.2 53.6 161.2 57.0 163.5 58.0 M162.3 44.1 161.2 50.8 162.3 54.2 165.1 54.8 166.8 58.1 165.7 63.1 164.6 68.0 161.9 70.0 M166.3 46.4 167.9 49.2 166.8 53.6 168.5 61.5 166.8 68.0 164.0 72.0 M163.5 50.0 165.0 52.0 164.0 56.0 166.0 57.0 M543.4 175.2 549.6 178.7 555.5 175.8 564.9 168.8 574.6 163.8 582.2 159.7 584.4 157.2 M584.4 157.2 582.4 151.9 592.2 145.9 602.0 143.4 606.2 139.0 606.7 136.1 611.7 130.7 615.6 124.9 620.6 120.3 651.4 113.0 654.4 107.9 658.7 98.0 660.6 90.2 658.8 81.9 663.8 73.8 671.0 74.1 678.5 75.4 683.1 90.5 687.8 94.1 690.6 99.2 695.6 103.5 M695.6 103.5 690.6 109.4 685.3 112.5 679.9 115.5 678.2 120.4 672.1 124.9 668.4 130.3 666.4 136.6 665.5 140.2 668.2 143.4 665.6 147.7 668.6 149.1 672.7 154.2 677.7 153.2 674.6 149.4 677.7 151.0 678.8 155.0 674.4 156.9 667.6 159.5 660.7 164.1 654.3 166.4 643.9 172.5 640.7 177.5 M642.0 178.6 655.1 174.1 661.4 167.2 650.2 171.7 642.4 175.6 642.0 178.6 M640.7 177.5 638.7 180.8 642.2 184.3 642.7 191.3 639.8 197.7 636.7 203.7 631.9 199.4 627.9 196.0 630.3 199.7 634.9 205.9 636.5 210.5 635.1 217.3 633.3 224.8 630.7 231.0 M630.7 231.0 629.5 219.8 625.7 214.9 623.0 206.9 622.9 198.4 619.0 203.4 621.7 214.3 624.1 220.9 625.8 226.3 627.1 233.1 630.7 233.8 M624.5 220.1 614.8 215.6 614.2 210.1 607.1 204.3 600.2 202.0 591.8 204.2 587.4 209.1 586.3 202.0 M575.3 203.7 625.0 194.8 628.8 192.4 634.2 187.5 628.6 181.5 628.5 175.9 631.6 170.0 626.2 164.9 622.9 162.7 578.2 171.0 577.6 167.3 M625.0 194.8 629.6 212.0 636.5 210.5 M569.9 168.5 573.3 191.0 575.3 203.7 M631.6 170.0 640.8 173.2 M633.8 117.3 637.6 136.6 641.7 148.1 641.6 157.9 642.9 171.2 643.4 172.6 M651.4 113.0 652.2 120.0 649.1 128.1 647.8 135.6 649.8 146.2 M641.7 148.1 661.3 143.3 665.5 140.2 M641.6 157.9 658.7 154.2 663.0 153.2 667.4 159.5 M658.7 154.2 660.7 164.1 M654.4 107.9 659.8 125.3 664.6 135.7 666.4 136.6 M540.9 179.8 549.1 183.0 559.4 180.9 567.8 174.0 574.4 169.5 581.8 163.4 584.4 157.2 M485.8 251.1 492.9 249.3 497.2 239.2 503.1 237.4 513.9 235.1 521.3 231.7 527.1 224.1 530.6 218.1 544.3 221.5 551.0 222.8 555.7 224.8 560.1 217.4 564.7 211.2 570.5 206.1 572.3 200.2 573.3 191.0 M555.7 224.8 558.7 231.7 564.1 236.2 557.1 244.6 547.1 251.4 M564.1 236.2 570.9 239.2 576.3 237.7 582.4 234.0 585.6 226.4 589.9 218.6 597.3 210.3 605.7 204.3" fill="none" stroke="#111" stroke-width="1.0" stroke-linejoin="round"/></g><rect x="69.3" y="3.5" width="642.5" height="439.1" fill="none" stroke="#000" stroke-width="1.15"/><g font-family="Liberation Sans, sans-serif" font-size="22.5" fill="#000"><text x="10.0" y="150.1" textLength="52" lengthAdjust="spacingAndGlyphs">40°N</text><text x="10.5" y="298.8" textLength="51.5" lengthAdjust="spacingAndGlyphs">30°N</text><text x="48.8" y="465.4" textLength="70.6" lengthAdjust="spacingAndGlyphs">120°W</text><text x="185.8" y="465.4" textLength="72.2" lengthAdjust="spacingAndGlyphs">110°W</text><text x="320.2" y="465.4" textLength="71.2" lengthAdjust="spacingAndGlyphs">100°W</text><text x="458.5" y="465.4" textLength="58.9" lengthAdjust="spacingAndGlyphs">90°W</text><text x="592.5" y="465.4" textLength="58.9" lengthAdjust="spacingAndGlyphs">80°W</text></g><rect x="67.20" y="470.3" width="43.45" height="7.90" fill="#ffffff"/><rect x="110.35" y="470.3" width="43.45" height="7.90" fill="#def4ef"/><rect x="153.49" y="470.3" width="43.45" height="7.90" fill="#c6e1f1"/><rect x="196.64" y="470.3" width="43.45" height="7.90" fill="#c2c5f3"/><rect x="239.79" y="470.3" width="43.45" height="7.90" fill="#cca4e2"/><rect x="282.93" y="470.3" width="43.45" height="7.90" fill="#d588b5"/><rect x="326.08" y="470.3" width="43.45" height="7.90" fill="#c87b7c"/><rect x="369.23" y="470.3" width="43.45" height="7.90" fill="#a1794a"/><rect x="412.37" y="470.3" width="43.45" height="7.90" fill="#6c7b31"/><rect x="455.52" y="470.3" width="43.45" height="7.90" fill="#3a7533"/><rect x="498.67" y="470.3" width="43.45" height="7.90" fill="#1b6145"/><rect x="541.81" y="470.3" width="43.45" height="7.90" fill="#15444f"/><rect x="584.96" y="470.3" width="43.45" height="7.90" fill="#1a2543"/><rect x="628.11" y="470.3" width="43.45" height="7.90" fill="#170e23"/><rect x="671.25" y="470.3" width="43.45" height="7.90" fill="#000000"/><rect x="67.2" y="470.3" width="647.20" height="7.90" fill="none" stroke="#000" stroke-width="1"/><path d="M90.19 478.2v2.6 M111.92 478.2v2.6 M130.74 478.2v2.6 M147.35 478.2v2.6 M259.91 478.2v2.6 M317.07 478.2v2.6 M357.63 478.2v2.6 M389.09 478.2v2.6 M414.79 478.2v2.6 M436.52 478.2v2.6 M455.34 478.2v2.6 M471.95 478.2v2.6 M584.51 478.2v2.6 M641.67 478.2v2.6 M682.23 478.2v2.6 M713.69 478.2v2.6 M162.20 478.2v4.4 M486.80 478.2v4.4" stroke="#000" stroke-width="0.9" fill="none"/><g font-family="Liberation Sans, sans-serif" fill="#000"><text x="149.3" y="500.9" font-size="15.5">10</text><text x="167.3" y="494.8" font-size="10.8">2</text><text x="473.9" y="500.9" font-size="15.5">10</text><text x="491.9" y="494.8" font-size="10.8">3</text></g><text x="235" y="524.4" textLength="310" lengthAdjust="spacingAndGlyphs" font-family="Liberation Sans, sans-serif" font-weight="bold" font-size="18.6" fill="#000">Number of detections per year</text></svg></body></html>
